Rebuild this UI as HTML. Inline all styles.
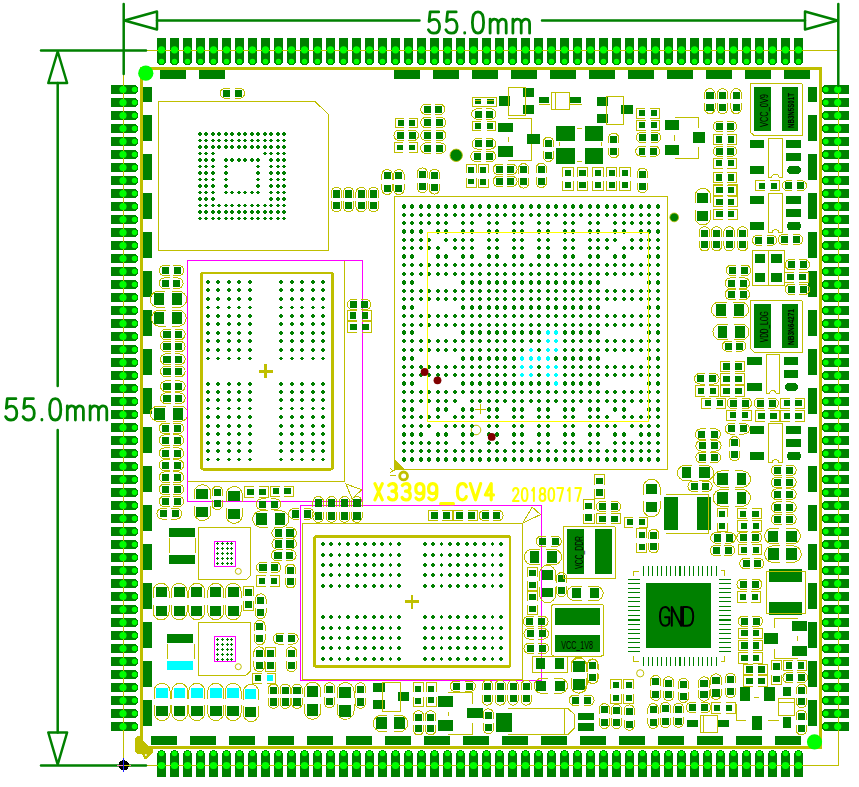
<!DOCTYPE html>
<html><head><meta charset="utf-8"><title>X3399_CV4</title>
<style>html,body{margin:0;padding:0;background:#fff;}body{width:859px;height:787px;overflow:hidden;font-family:"Liberation Sans",sans-serif;}svg{display:block}</style></head><body>
<svg width="859" height="787" viewBox="0 0 859 787" shape-rendering="crispEdges">
<rect width="859" height="787" fill="#fff"/>
<path d="M187.3 260.5H362.5V505.2M187.3 260.5V501.3H362.5" fill="none" stroke="#ff00ff" stroke-width="1"/>
<rect x="300.6" y="505.6" width="240.9" height="174.8" fill="none" stroke="#ff00ff" stroke-width="1"/>
<g fill="#008000">
<path d="M160 70h26v8.8h-26zM199 70h26v8.8h-26zM394 70h26v8.8h-26zM433 70h26v8.8h-26zM472 70h26v8.8h-26zM511 70h26v8.8h-26zM550 70h26v8.8h-26zM589 70h26v8.8h-26zM628 70h26v8.8h-26zM667 70h26v8.8h-26zM706 70h26v8.8h-26zM745 70h26v8.8h-26zM784 70h26v8.8h-26zM151 736h26v8.8h-26zM190 736h26v8.8h-26zM229 736h26v8.8h-26zM268 736h26v8.8h-26zM307 736h26v8.8h-26zM346 736h26v8.8h-26zM385 736h26v8.8h-26zM424 736h26v8.8h-26zM463 736h26v8.8h-26zM502 736h26v8.8h-26zM541 736h26v8.8h-26zM580 736h26v8.8h-26zM619 736h26v8.8h-26zM658 736h26v8.8h-26zM697 736h26v8.8h-26zM736 736h26v8.8h-26zM775 736h26v8.8h-26zM142.9 87h9v15h-9zM808.2 87h9v15h-9zM142.9 115h9v26h-9zM808.2 115h9v26h-9zM142.9 154h9v26h-9zM808.2 154h9v26h-9zM142.9 193h9v26h-9zM808.2 193h9v26h-9zM142.9 232h9v26h-9zM808.2 232h9v26h-9zM142.9 271h9v26h-9zM808.2 271h9v26h-9zM142.9 310h9v26h-9zM808.2 310h9v26h-9zM142.9 349h9v26h-9zM808.2 349h9v26h-9zM142.9 388h9v26h-9zM808.2 388h9v26h-9zM142.9 427h9v26h-9zM808.2 427h9v26h-9zM142.9 466h9v26h-9zM808.2 466h9v26h-9zM142.9 505h9v26h-9zM808.2 505h9v26h-9zM142.9 544h9v26h-9zM808.2 544h9v26h-9zM142.9 583h9v26h-9zM808.2 583h9v26h-9zM142.9 622h9v26h-9zM808.2 622h9v26h-9zM142.9 661h9v26h-9zM808.2 661h9v26h-9zM142.9 700h9v26h-9zM808.2 700h9v26h-9zM646.1 582.9h65v65h-65zM423.5 105.7h7v7h-7zM435.1 105.7h7v7h-7zM397.9 120.2h5.6v5.6h-5.6zM409.4 120.2h5.6v5.6h-5.6zM423.5 119h7v7h-7zM436.1 119h7v7h-7zM396.7 131.8h7v7h-7zM408.7 131.8h7v7h-7zM423.5 131.8h7v7h-7zM436.1 131.8h7v7h-7zM397.1 144.8h5.6v5.6h-5.6zM408.9 144.8h5.6v5.6h-5.6zM423.5 144.6h7v7h-7zM436.1 144.6h7v7h-7zM474.9 99.4h6.4v4.1h-6.4zM487.2 99.4h6.4v4.1h-6.4zM474.5 110.5h7v7h-7zM486.3 110.5h7v7h-7zM475.2 123h5.6v5.6h-5.6zM487 123h5.6v5.6h-5.6zM474.8 140.3h7v7h-7zM486 140.3h7v7h-7zM473.5 152.8h7v7h-7zM486 152.8h7v7h-7zM498.5 96.1h11v9.7h-11zM523.1 87.9h10.8v9h-10.8zM523.1 105.1h10.8v9h-10.8zM498.5 122.5h14.1v9.5h-14.1zM498.5 146.1h14.1v11h-14.1zM526.9 134h13.3v10.2h-13.3zM383.6 172.3h7v7h-7zM383.6 184.8h7v7h-7zM395.4 172.3h7v7h-7zM395.4 184.8h7v7h-7zM418.9 170.7h7v7h-7zM418.9 183h7v7h-7zM431 172h7v7h-7zM431 184.3h7v7h-7zM468.2 167h5.8v5.8h-5.8zM468.2 178.5h5.8v5.8h-5.8zM480.2 167h5.8v5.8h-5.8zM480.2 179h5.8v5.8h-5.8zM495.8 165.9h7v7h-7zM507.3 165.9h7v7h-7zM495.8 177.9h7v7h-7zM507.3 177.9h7v7h-7zM520.1 166.4h7v7h-7zM520.1 178.4h7v7h-7zM539.3 96.8h9.9v5.9h-9.9zM570.2 96.8h10.9v5.9h-10.9zM597.3 97.2h10.5v8.5h-10.5zM597.3 114h10.5v8.5h-10.5zM621 105.1h11.9v8.5h-11.9zM556.1 126.1h18.8v14.8h-18.8zM585 126.1h18.2v14.8h-18.2zM556.1 147.7h18.8v15.8h-18.8zM585 147.7h18.2v15.8h-18.2zM544.9 139.8h7v7h-7zM544.9 151.7h7v7h-7zM610.2 135.8h7v7h-7zM610.2 148.1h7v7h-7zM537.8 165.9h7v7h-7zM537.8 177.8h7v7h-7zM638.8 110h6v6h-6zM650.7 110h6v6h-6zM639.4 122.1h6v6h-6zM651.1 122.1h6v6h-6zM639.1 134.1h6.6v6.6h-6.6zM651.4 134.1h6.6v6.6h-6.6zM638.5 147.9h6.6v6.6h-6.6zM650.4 147.9h6.6v6.6h-6.6zM665.2 120h13.7v9.9h-13.7zM665.2 144.9h13.7v9.9h-13.7zM693.3 132.4h11.9v10.3h-11.9zM564.8 169.8h6.4v6.4h-6.4zM564.8 181.7h6.4v6.4h-6.4zM579.2 169.8h6.4v6.4h-6.4zM579.2 181.7h6.4v6.4h-6.4zM594.7 169.8h6.4v6.4h-6.4zM594.7 181.7h6.4v6.4h-6.4zM608.5 169.8h6.4v6.4h-6.4zM608.5 181.7h6.4v6.4h-6.4zM621.8 169.8h6.4v6.4h-6.4zM621.8 181.7h6.4v6.4h-6.4zM638.9 170.9h7v7h-7zM638.9 183h7v7h-7zM706.3 91.5h7.2v7.2h-7.2zM706.3 103.7h7.2v7.2h-7.2zM719 91.5h7.2v7.2h-7.2zM719 103.7h7.2v7.2h-7.2zM732.5 91.5h7.2v7.2h-7.2zM732.5 103.7h7.2v7.2h-7.2zM716 123.1h6.6v6.6h-6.6zM727.4 123.1h6.6v6.6h-6.6zM716.2 136.3h6.2v6.2h-6.2zM727.6 136.3h6.2v6.2h-6.2zM716 148h6.6v6.6h-6.6zM727.4 148h6.6v6.6h-6.6zM716.2 160h6.2v6.2h-6.2zM727.6 160h6.2v6.2h-6.2zM716.2 174.3h6.2v6.2h-6.2zM727.6 174.3h6.2v6.2h-6.2zM716.2 187h6.2v6.2h-6.2zM727.6 187h6.2v6.2h-6.2zM754 87h16.9v44h-16.9zM782.1 87h15.8v44h-15.8zM750.3 139.9h13.5v7.8h-13.5zM750.3 166h13.5v7.8h-13.5zM786.2 139.9h14.7v7.8h-14.7zM786.2 153h14.7v7.8h-14.7zM758.6 182.5h6.2v6.2h-6.2zM770.8 182.5h6.2v6.2h-6.2zM785.1 182.4h6.4v6.4h-6.4zM797.3 182.4h6.4v6.4h-6.4zM697.4 192.8h10.8v9.9h-10.8zM697.4 211.1h10.8v10.2h-10.8zM716.3 186.9h6.2v6.2h-6.2zM728 186.9h6.2v6.2h-6.2zM716.3 198.7h6.2v6.2h-6.2zM728 198.7h6.2v6.2h-6.2zM716.3 211.1h6.2v6.2h-6.2zM728 211.1h6.2v6.2h-6.2zM750.1 195.8h13.6v7.8h-13.6zM750.1 221.7h13.6v8h-13.6zM786.4 195.8h14.5v7.8h-14.5zM786.4 208.7h14.5v8h-14.5zM755.2 237h6.6v6.6h-6.6zM767.3 237h6.6v6.6h-6.6zM780.9 236.3h6.6v6.6h-6.6zM793.4 236.3h6.6v6.6h-6.6zM700.9 229.5h7.2v7.2h-7.2zM700.9 241h7.2v7.2h-7.2zM713 229.5h7.2v7.2h-7.2zM713 241h7.2v7.2h-7.2zM725.6 229.5h7.2v7.2h-7.2zM725.6 241h7.2v7.2h-7.2zM739 229.5h7.2v7.2h-7.2zM739 241h7.2v7.2h-7.2zM755.1 253.9h9.9v8.9h-9.9zM771.1 253.9h11v8.9h-11zM755.1 272.9h9.9v8.6h-9.9zM771.1 272.9h11v8.6h-11zM787.9 261.2h7v7h-7zM799.7 261.2h7v7h-7zM787.3 274h6.4v6.4h-6.4zM799.4 274h6.4v6.4h-6.4zM787.9 285.8h7v7h-7zM799.7 285.8h7v7h-7zM728.9 266.8h7v7h-7zM741 266.8h7v7h-7zM727.9 279.6h7.2v7.2h-7.2zM739.6 279.6h7.2v7.2h-7.2zM727.9 290.7h7.2v7.2h-7.2zM739.6 290.7h7.2v7.2h-7.2zM716 304.2h9.9v12.1h-9.9zM734.3 304.2h9.9v12.1h-9.9zM717.5 325.8h9.3v12.3h-9.3zM735.2 325.8h9.9v12.3h-9.9zM724.9 342.8h6.8v6.8h-6.8zM736.4 342.8h6.8v6.8h-6.8zM754.2 304h16.8v43.8h-16.8zM782.1 304h15.8v43.8h-15.8zM746.9 357.1h14.9v7.8h-14.9zM746.9 383.1h14.9v8h-14.9zM784.2 357.1h14v7.8h-14zM784.2 370.1h14v7.8h-14zM723.2 363.2h6.4v6.4h-6.4zM735.3 363.2h6.4v6.4h-6.4zM723.2 375.6h6.4v6.4h-6.4zM735.3 375.6h6.4v6.4h-6.4zM723.2 387.9h6.4v6.4h-6.4zM735.3 387.9h6.4v6.4h-6.4zM697.2 375.3h7v7h-7zM709.3 375.3h7v7h-7zM697.9 387.9h6.4v6.4h-6.4zM709.6 387.9h6.4v6.4h-6.4zM704.6 400h6.4v6.4h-6.4zM716.7 400h6.4v6.4h-6.4zM729.8 399.7h7v7h-7zM741.9 399.7h7v7h-7zM756.8 399.7h7v7h-7zM768.6 399.7h7v7h-7zM783.6 400h6.4v6.4h-6.4zM795.3 400h6.4v6.4h-6.4zM729.6 412h6.4v6.4h-6.4zM741.9 412h6.4v6.4h-6.4zM758.1 412.9h6.4v6.4h-6.4zM770.2 412.9h6.4v6.4h-6.4zM783.6 412.9h6.4v6.4h-6.4zM795.3 412.9h6.4v6.4h-6.4zM728 425.3h7v7h-7zM739.7 425.3h7v7h-7zM750.1 426.2h13.6v7.8h-13.6zM750.1 451.7h13.6v8h-13.6zM786.4 426.2h14.5v7.8h-14.5zM786.4 439.2h14.5v7.8h-14.5zM698.1 430.6h7.2v7.2h-7.2zM710.5 430.6h7.2v7.2h-7.2zM698.6 442.1h7.2v7.2h-7.2zM711.1 442.1h7.2v7.2h-7.2zM698.6 453.9h7.2v7.2h-7.2zM710.5 453.9h7.2v7.2h-7.2zM731.1 439.4h7v7h-7zM731.1 451h7v7h-7zM681.5 467.2h9.3v11.2h-9.3zM699.4 467.2h10.2v11.2h-10.2zM690.7 482.8h7v7h-7zM702.4 482.8h7v7h-7zM717.1 473.1h10.6v11.7h-10.6zM736.5 473.1h9.9v11.7h-9.9zM717.1 491.7h10.6v12.3h-10.6zM736.5 491.7h9.9v12.3h-9.9zM774.1 466.7h7.2v7.2h-7.2zM786.2 466.7h7.2v7.2h-7.2zM774.1 478.8h7.2v7.2h-7.2zM786.2 478.8h7.2v7.2h-7.2zM774.1 490.6h7.2v7.2h-7.2zM786.2 490.6h7.2v7.2h-7.2zM774.1 503.6h7.2v7.2h-7.2zM786.2 503.6h7.2v7.2h-7.2zM774.1 515.7h7.2v7.2h-7.2zM786.2 515.7h7.2v7.2h-7.2zM664.4 497h13.4v32.6h-13.4zM697.4 497h13.2v32.6h-13.2zM719.3 510.8h5.8v5.8h-5.8zM719.3 523.3h5.8v5.8h-5.8zM740 510.5h6.4v6.4h-6.4zM752.1 510.5h6.4v6.4h-6.4zM740.7 522.6h6.4v6.4h-6.4zM752.5 522.6h6.4v6.4h-6.4zM713.5 534.3h7.2v7.2h-7.2zM725.6 534.3h7.2v7.2h-7.2zM739.6 534h7.2v7.2h-7.2zM751.7 534h7.2v7.2h-7.2zM713 546.8h7.2v7.2h-7.2zM724.7 546.8h7.2v7.2h-7.2zM740.8 546.6h6.2v6.2h-6.2zM752.6 546.6h6.2v6.2h-6.2zM768.2 530.5h9.5v11.2h-9.5zM786.4 530.5h10.2v11.2h-10.2zM768.2 548h10.4v12.1h-10.4zM786.4 548h10.2v12.1h-10.2zM742.5 560h7v7h-7zM754 560h7v7h-7zM769.1 568.5h32.8v13h-32.8zM769.1 602.4h32.8v13h-32.8zM739.7 580.9h7v7h-7zM752.2 580.9h7v7h-7zM740 593.8h6.4v6.4h-6.4zM751.5 593.8h6.4v6.4h-6.4zM741 617.7h7v7h-7zM752.7 617.7h7v7h-7zM741.3 630h6.4v6.4h-6.4zM753 630h6.4v6.4h-6.4zM741.3 642.2h6.4v6.4h-6.4zM753 642.2h6.4v6.4h-6.4zM741.3 654.7h6.4v6.4h-6.4zM753 654.7h6.4v6.4h-6.4zM764.1 633.2h14v10.4h-14zM792 621h14.9v9.5h-14.9zM792 646.2h14.9v9.5h-14.9zM746.3 666.2h6.4v6.4h-6.4zM758.1 666.2h6.4v6.4h-6.4zM746.3 677.8h6.4v6.4h-6.4zM758.1 677.8h6.4v6.4h-6.4zM773.3 663.4h6.4v6.4h-6.4zM773.3 675.5h6.4v6.4h-6.4zM786 662.3h6.4v6.4h-6.4zM797.7 662.3h6.4v6.4h-6.4zM785.7 674.1h7v7h-7zM797.8 674.1h7v7h-7zM798.3 686.9h6.8v6.8h-6.8zM798.3 698.1h6.8v6.8h-6.8zM797.7 712.8h7.2v7.2h-7.2zM797.7 724.9h7.2v7.2h-7.2zM740.2 687.1h9.9v13.8h-9.9zM764.4 687.1h10.4v13.8h-10.4zM752 716h10.2v13.8h-10.2zM783.2 686.6h7.5v9.3h-7.5zM783.2 716.9h7.5v10.6h-7.5zM679.9 681.2h7v7h-7zM679.9 692.7h7v7h-7zM700.3 679.6h7.6v7.6h-7.6zM700.3 690.8h7.6v7.6h-7.6zM712.2 676.6h7.6v7.6h-7.6zM712.2 688.9h7.6v7.6h-7.6zM727 676h7v7h-7zM727 688.1h7v7h-7zM688.9 704.1h7v7h-7zM701 704.1h7v7h-7zM713.9 704.8h6.4v6.4h-6.4zM726 704.8h6.4v6.4h-6.4zM674.9 706h7v7h-7zM674.9 717.5h7v7h-7zM687.1 720.1h10.8v6.9h-10.8zM718.1 720.1h11v6.9h-11zM161.9 266.9h7.2v7.2h-7.2zM173.7 266.9h7.2v7.2h-7.2zM161.9 279.6h7.2v7.2h-7.2zM173.1 279.6h7.2v7.2h-7.2zM154.3 292.8h9.9v12.5h-9.9zM172.2 292.8h10.2v12.5h-10.2zM154.3 312h9.9v11.9h-9.9zM172.2 312h10.2v11.9h-10.2zM163.3 330.7h7.4v7.4h-7.4zM175 330.7h7.4v7.4h-7.4zM163.3 342.8h7.4v7.4h-7.4zM175 342.8h7.4v7.4h-7.4zM163.3 355.6h7.4v7.4h-7.4zM175 355.6h7.4v7.4h-7.4zM163.3 367.7h7.4v7.4h-7.4zM175 367.7h7.4v7.4h-7.4zM163.3 382.6h7.4v7.4h-7.4zM175 382.6h7.4v7.4h-7.4zM163.3 394.6h7.4v7.4h-7.4zM175 394.6h7.4v7.4h-7.4zM154.3 407.9h10.4v11.7h-10.4zM173.2 407.9h10.1v11.7h-10.1zM161.9 424.8h7.2v7.2h-7.2zM173.7 424.8h7.2v7.2h-7.2zM161.9 436.6h7.2v7.2h-7.2zM173.7 436.6h7.2v7.2h-7.2zM161.9 449.6h7.2v7.2h-7.2zM173.7 449.6h7.2v7.2h-7.2zM161.9 461.5h7.2v7.2h-7.2zM173.7 461.5h7.2v7.2h-7.2zM161.9 473.6h7.2v7.2h-7.2zM173.7 473.6h7.2v7.2h-7.2zM161.9 485.7h7.2v7.2h-7.2zM173.7 485.7h7.2v7.2h-7.2zM161.9 497.8h7.2v7.2h-7.2zM173.7 497.8h7.2v7.2h-7.2zM159.7 510.1h7.2v7.2h-7.2zM171.8 510.1h7.2v7.2h-7.2zM195.9 489h12.1v10.2h-12.1zM195.9 507h12.1v10.2h-12.1zM213.8 488.8h7v7h-7zM213.8 500h7v7h-7zM228.1 491.2h11.9v9.9h-11.9zM228.1 509.1h11.9v9.7h-11.9zM247.2 488.6h6.4v6.4h-6.4zM259.2 488.6h6.4v6.4h-6.4zM272.8 488h6.4v6.4h-6.4zM284.3 488h6.4v6.4h-6.4zM258.8 500.6h7.2v7.2h-7.2zM270.9 500.6h7.2v7.2h-7.2zM256.4 513h10.2v12.1h-10.2zM275 513h9.9v12.1h-9.9zM274.7 529.3h7.4v7.4h-7.4zM286.2 529.3h7.4v7.4h-7.4zM274.7 540.1h7.4v7.4h-7.4zM286.2 540.1h7.4v7.4h-7.4zM274.1 551.6h7.4v7.4h-7.4zM285.9 551.6h7.4v7.4h-7.4zM259.3 563.8h7.2v7.2h-7.2zM270.9 563.8h7.2v7.2h-7.2zM258.9 577.9h6.2v6.2h-6.2zM270.6 577.9h6.2v6.2h-6.2zM286.9 566.8h7.2v7.2h-7.2zM286.9 578h7.2v7.2h-7.2zM169.2 528.3h25.7v8.4h-25.7zM169.2 555.3h25.7v8.4h-25.7zM155.5 587.2h11.2v9.7h-11.2zM155.5 605.6h11.2v10.2h-11.2zM173.5 587.2h11.2v9.7h-11.2zM173.5 605.6h11.2v10.2h-11.2zM191.2 587.2h11.2v9.7h-11.2zM191.2 605.6h11.2v10.2h-11.2zM210.2 587.2h11.2v9.7h-11.2zM210.2 605.6h11.2v10.2h-11.2zM227.5 587.2h11.2v9.7h-11.2zM227.5 605.6h11.2v10.2h-11.2zM245.4 589.4h6.4v6.4h-6.4zM245.4 601.1h6.4v6.4h-6.4zM257.1 596.6h7.2v7.2h-7.2zM257.1 608.7h7.2v7.2h-7.2zM256.2 623.1h7.2v7.2h-7.2zM256.2 634.8h7.2v7.2h-7.2zM167.4 634.1h25.7v8.4h-25.7zM276.1 635.2h7.2v7.2h-7.2zM288.2 635.2h7.2v7.2h-7.2zM156.2 706h11.5v10.4h-11.5zM173.9 706h11.5v10.4h-11.5zM191 706h11.5v10.4h-11.5zM210 706h11.5v10.4h-11.5zM227.4 706h11.5v10.4h-11.5zM245.2 707.2h11.2v10.1h-11.2zM255.6 649.6h7.2v7.2h-7.2zM255.6 661.7h7.2v7.2h-7.2zM267.1 650.2h6.6v6.6h-6.6zM267.1 662h6.6v6.6h-6.6zM287.8 649.6h7.2v7.2h-7.2zM287.8 661.7h7.2v7.2h-7.2zM255.2 675h6.2v6.2h-6.2zM266.9 675h6.2v6.2h-6.2zM269.9 686.8h7.2v7.2h-7.2zM269.9 698.4h7.2v7.2h-7.2zM281.7 686.8h7.2v7.2h-7.2zM281.7 698.4h7.2v7.2h-7.2zM293.4 686.8h7.2v7.2h-7.2zM293.4 698.4h7.2v7.2h-7.2zM307.2 686.3h10.7v10.9h-10.7zM307.2 704.2h10.7v11.6h-10.7zM326 685.5h7.2v7.2h-7.2zM326 697.8h7.2v7.2h-7.2zM339.4 686.8h11.6v11.2h-11.6zM339.4 704.9h11.6v11.6h-11.6zM356.7 685.5h7.2v7.2h-7.2zM356.7 698.3h7.2v7.2h-7.2zM373.1 683.3h11.6v8.6h-11.6zM373.1 700h11.6v8.8h-11.6zM398.3 691.9h10.5v9.3h-10.5zM415 685.5h6.2v6.2h-6.2zM415 697.6h6.2v6.2h-6.2zM428.2 685.5h6.2v6.2h-6.2zM428.2 697.2h6.2v6.2h-6.2zM452.8 682.8h7v7h-7zM465.6 682.8h7v7h-7zM438.3 696.1h14.4v10.5h-14.4zM438.3 720.1h14.4v10.9h-14.4zM467.4 708.2h15.1v10h-15.1zM376.2 717h10.5v12.1h-10.5zM394.1 717h10.9v12.1h-10.9zM415 713.5h7v7h-7zM415 725.2h7v7h-7zM427.1 713.5h7v7h-7zM427.1 725.2h7v7h-7zM483.9 682.9h7v7h-7zM483.9 695.4h7v7h-7zM496.7 682.9h7v7h-7zM496.7 695.4h7v7h-7zM509.5 682.9h7v7h-7zM509.5 695.4h7v7h-7zM522.8 682.9h7v7h-7zM522.8 695.4h7v7h-7zM536.1 658h8.7v11h-8.7zM536.1 680.5h10v10.2h-10zM554.5 658h9.5v11h-9.5zM554.5 680.5h10.8v10.2h-10.8zM573.2 661.3h11.3v10.2h-11.3zM573.2 679.2h11.3v11h-11.3zM589.4 662.1h7v7h-7zM589.4 673.9h7v7h-7zM572 696.7h7v7h-7zM584.3 696.7h7v7h-7zM484.9 711.6h7v7h-7zM484.9 723.8h7v7h-7zM496.4 712.5h15.4v19.2h-15.4zM578.3 712.5h15.9v7.7h-15.9zM578.3 722.7h15.9v8.2h-15.9zM612.9 682h6.2v6.2h-6.2zM612.9 694.5h6.2v6.2h-6.2zM625.7 682h6.2v6.2h-6.2zM625.7 694.5h6.2v6.2h-6.2zM600.9 706.4h7v7h-7zM600.9 718.7h7v7h-7zM613 707.2h7v7h-7zM613 718.7h7v7h-7zM625.8 707.7h7v7h-7zM625.8 720.5h7v7h-7zM652.2 678.3h7v7h-7zM652.2 690.6h7v7h-7zM665 679.5h7v7h-7zM665 691.1h7v7h-7zM649.6 706.4h7v7h-7zM649.6 718.7h7v7h-7zM661.9 705.2h7v7h-7zM661.9 718h7v7h-7zM596.3 477.5h6.6v6.6h-6.6zM596.3 489h6.6v6.6h-6.6zM585.4 502.7h6.6v6.6h-6.6zM585.4 514.1h6.6v6.6h-6.6zM599.1 503.2h6.8v6.8h-6.8zM611.2 503.2h6.8v6.8h-6.8zM599.4 515.7h6.2v6.2h-6.2zM611.3 515.7h6.2v6.2h-6.2zM645.7 483.8h11.5v9.9h-11.5zM645.7 502.2h11.5v9.9h-11.5zM626.8 519h6v6h-6zM639.1 519h6v6h-6zM638.6 531.6h6.2v6.2h-6.2zM638.6 543.6h6.2v6.2h-6.2zM650.1 531.8h7v7h-7zM650.1 543.2h7v7h-7zM567.1 529.3h16.8v44.5h-16.8zM595.2 529.3h16.8v44.5h-16.8zM538.9 537.7h7v7h-7zM551.5 537.7h7v7h-7zM529.5 551.1h9.7v11.5h-9.7zM547.1 551.1h9.9v11.5h-9.9zM558.1 575.3h7v7h-7zM558.1 586.8h7v7h-7zM529.3 570.2h6.2v6.2h-6.2zM529.3 581.8h6.2v6.2h-6.2zM529.3 594.2h6.2v6.2h-6.2zM529.3 605.8h6.2v6.2h-6.2zM542.2 570.3h10.7v9.2h-10.7zM542.2 588.1h10.7v9.2h-10.7zM571.6 588.1h8.9v10.1h-8.9zM589.9 588.1h8.9v10.1h-8.9zM555 608h45v16.5h-45zM555 635.2h45v16.4h-45zM526.2 617.8h7.2v7.2h-7.2zM538.1 617.8h7.2v7.2h-7.2zM526.7 630.2h7.2v7.2h-7.2zM538.6 630.2h7.2v7.2h-7.2zM526.7 644.8h7.2v7.2h-7.2zM538.6 644.8h7.2v7.2h-7.2zM573 661h10.7v10.1h-10.7zM573 679.2h10.7v9.8h-10.7zM589 661.7h7.2v7.2h-7.2zM589 673.8h7.2v7.2h-7.2zM332.7 190.1h7.4v7.4h-7.4zM332.7 201.6h7.4v7.4h-7.4zM344.8 190.1h7.4v7.4h-7.4zM344.8 201.6h7.4v7.4h-7.4zM357.6 190.1h7.4v7.4h-7.4zM357.6 201.6h7.4v7.4h-7.4zM369.8 190.1h7.4v7.4h-7.4zM369.8 201.6h7.4v7.4h-7.4zM222.9 90h6.6v6.6h-6.6zM235.2 90h6.6v6.6h-6.6zM314.6 499.4h7.3v7.3h-7.3zM314.6 512.3h7.3v7.3h-7.3zM327.9 499.4h7.3v7.3h-7.3zM327.9 512.3h7.3v7.3h-7.3zM340.9 499.4h7.3v7.3h-7.3zM340.9 512.3h7.3v7.3h-7.3zM353.2 499.4h7.3v7.3h-7.3zM353.2 512.3h7.3v7.3h-7.3zM291.5 510.3h7.2v7.2h-7.2zM304.2 510.3h7.2v7.2h-7.2zM431.1 512.1h6.8v6.8h-6.8zM442.8 512.1h6.8v6.8h-6.8zM455.8 512.1h6.8v6.8h-6.8zM467.9 512.1h6.8v6.8h-6.8zM481.8 512h7v7h-7zM493.4 512h7v7h-7zM350.2 301.1h6.8v6.8h-6.8zM361.2 301.1h6.8v6.8h-6.8zM349.9 312.2h6.4v6.4h-6.4zM361.9 312.2h6.4v6.4h-6.4zM350.4 323.8h6.4v6.4h-6.4zM362.2 323.8h6.4v6.4h-6.4z"/>
</g>
<path d="M157 38.2h9v22.6a4.5 4.5 0 0 1 -9 0z" fill="#008000"/>
<path d="M157 777h9v-22.3a4.5 4.5 0 0 0 -9 0z" fill="#008000"/>
<path d="M170 38.2h9v22.6a4.5 4.5 0 0 1 -9 0z" fill="#008000"/>
<path d="M170 777h9v-22.3a4.5 4.5 0 0 0 -9 0z" fill="#008000"/>
<path d="M183 38.2h9v22.6a4.5 4.5 0 0 1 -9 0z" fill="#008000"/>
<path d="M183 777h9v-22.3a4.5 4.5 0 0 0 -9 0z" fill="#008000"/>
<path d="M196 38.2h9v22.6a4.5 4.5 0 0 1 -9 0z" fill="#008000"/>
<path d="M196 777h9v-22.3a4.5 4.5 0 0 0 -9 0z" fill="#008000"/>
<path d="M209 38.2h9v22.6a4.5 4.5 0 0 1 -9 0z" fill="#008000"/>
<path d="M209 777h9v-22.3a4.5 4.5 0 0 0 -9 0z" fill="#008000"/>
<path d="M222 38.2h9v22.6a4.5 4.5 0 0 1 -9 0z" fill="#008000"/>
<path d="M222 777h9v-22.3a4.5 4.5 0 0 0 -9 0z" fill="#008000"/>
<path d="M235 38.2h9v22.6a4.5 4.5 0 0 1 -9 0z" fill="#008000"/>
<path d="M235 777h9v-22.3a4.5 4.5 0 0 0 -9 0z" fill="#008000"/>
<path d="M248 38.2h9v22.6a4.5 4.5 0 0 1 -9 0z" fill="#008000"/>
<path d="M248 777h9v-22.3a4.5 4.5 0 0 0 -9 0z" fill="#008000"/>
<path d="M261 38.2h9v22.6a4.5 4.5 0 0 1 -9 0z" fill="#008000"/>
<path d="M261 777h9v-22.3a4.5 4.5 0 0 0 -9 0z" fill="#008000"/>
<path d="M274 38.2h9v22.6a4.5 4.5 0 0 1 -9 0z" fill="#008000"/>
<path d="M274 777h9v-22.3a4.5 4.5 0 0 0 -9 0z" fill="#008000"/>
<path d="M287 38.2h9v22.6a4.5 4.5 0 0 1 -9 0z" fill="#008000"/>
<path d="M287 777h9v-22.3a4.5 4.5 0 0 0 -9 0z" fill="#008000"/>
<path d="M300 38.2h9v22.6a4.5 4.5 0 0 1 -9 0z" fill="#008000"/>
<path d="M300 777h9v-22.3a4.5 4.5 0 0 0 -9 0z" fill="#008000"/>
<path d="M313 38.2h9v22.6a4.5 4.5 0 0 1 -9 0z" fill="#008000"/>
<path d="M313 777h9v-22.3a4.5 4.5 0 0 0 -9 0z" fill="#008000"/>
<path d="M326 38.2h9v22.6a4.5 4.5 0 0 1 -9 0z" fill="#008000"/>
<path d="M326 777h9v-22.3a4.5 4.5 0 0 0 -9 0z" fill="#008000"/>
<path d="M339 38.2h9v22.6a4.5 4.5 0 0 1 -9 0z" fill="#008000"/>
<path d="M339 777h9v-22.3a4.5 4.5 0 0 0 -9 0z" fill="#008000"/>
<path d="M352 38.2h9v22.6a4.5 4.5 0 0 1 -9 0z" fill="#008000"/>
<path d="M352 777h9v-22.3a4.5 4.5 0 0 0 -9 0z" fill="#008000"/>
<path d="M365 38.2h9v22.6a4.5 4.5 0 0 1 -9 0z" fill="#008000"/>
<path d="M365 777h9v-22.3a4.5 4.5 0 0 0 -9 0z" fill="#008000"/>
<path d="M378 38.2h9v22.6a4.5 4.5 0 0 1 -9 0z" fill="#008000"/>
<path d="M378 777h9v-22.3a4.5 4.5 0 0 0 -9 0z" fill="#008000"/>
<path d="M391 38.2h9v22.6a4.5 4.5 0 0 1 -9 0z" fill="#008000"/>
<path d="M391 777h9v-22.3a4.5 4.5 0 0 0 -9 0z" fill="#008000"/>
<path d="M404 38.2h9v22.6a4.5 4.5 0 0 1 -9 0z" fill="#008000"/>
<path d="M404 777h9v-22.3a4.5 4.5 0 0 0 -9 0z" fill="#008000"/>
<path d="M417 38.2h9v22.6a4.5 4.5 0 0 1 -9 0z" fill="#008000"/>
<path d="M417 777h9v-22.3a4.5 4.5 0 0 0 -9 0z" fill="#008000"/>
<path d="M430 38.2h9v22.6a4.5 4.5 0 0 1 -9 0z" fill="#008000"/>
<path d="M430 777h9v-22.3a4.5 4.5 0 0 0 -9 0z" fill="#008000"/>
<path d="M443 38.2h9v22.6a4.5 4.5 0 0 1 -9 0z" fill="#008000"/>
<path d="M443 777h9v-22.3a4.5 4.5 0 0 0 -9 0z" fill="#008000"/>
<path d="M456 38.2h9v22.6a4.5 4.5 0 0 1 -9 0z" fill="#008000"/>
<path d="M456 777h9v-22.3a4.5 4.5 0 0 0 -9 0z" fill="#008000"/>
<path d="M469 38.2h9v22.6a4.5 4.5 0 0 1 -9 0z" fill="#008000"/>
<path d="M469 777h9v-22.3a4.5 4.5 0 0 0 -9 0z" fill="#008000"/>
<path d="M482 38.2h9v22.6a4.5 4.5 0 0 1 -9 0z" fill="#008000"/>
<path d="M482 777h9v-22.3a4.5 4.5 0 0 0 -9 0z" fill="#008000"/>
<path d="M495 38.2h9v22.6a4.5 4.5 0 0 1 -9 0z" fill="#008000"/>
<path d="M495 777h9v-22.3a4.5 4.5 0 0 0 -9 0z" fill="#008000"/>
<path d="M508 38.2h9v22.6a4.5 4.5 0 0 1 -9 0z" fill="#008000"/>
<path d="M508 777h9v-22.3a4.5 4.5 0 0 0 -9 0z" fill="#008000"/>
<path d="M521 38.2h9v22.6a4.5 4.5 0 0 1 -9 0z" fill="#008000"/>
<path d="M521 777h9v-22.3a4.5 4.5 0 0 0 -9 0z" fill="#008000"/>
<path d="M534 38.2h9v22.6a4.5 4.5 0 0 1 -9 0z" fill="#008000"/>
<path d="M534 777h9v-22.3a4.5 4.5 0 0 0 -9 0z" fill="#008000"/>
<path d="M547 38.2h9v22.6a4.5 4.5 0 0 1 -9 0z" fill="#008000"/>
<path d="M547 777h9v-22.3a4.5 4.5 0 0 0 -9 0z" fill="#008000"/>
<path d="M560 38.2h9v22.6a4.5 4.5 0 0 1 -9 0z" fill="#008000"/>
<path d="M560 777h9v-22.3a4.5 4.5 0 0 0 -9 0z" fill="#008000"/>
<path d="M573 38.2h9v22.6a4.5 4.5 0 0 1 -9 0z" fill="#008000"/>
<path d="M573 777h9v-22.3a4.5 4.5 0 0 0 -9 0z" fill="#008000"/>
<path d="M586 38.2h9v22.6a4.5 4.5 0 0 1 -9 0z" fill="#008000"/>
<path d="M586 777h9v-22.3a4.5 4.5 0 0 0 -9 0z" fill="#008000"/>
<path d="M599 38.2h9v22.6a4.5 4.5 0 0 1 -9 0z" fill="#008000"/>
<path d="M599 777h9v-22.3a4.5 4.5 0 0 0 -9 0z" fill="#008000"/>
<path d="M612 38.2h9v22.6a4.5 4.5 0 0 1 -9 0z" fill="#008000"/>
<path d="M612 777h9v-22.3a4.5 4.5 0 0 0 -9 0z" fill="#008000"/>
<path d="M625 38.2h9v22.6a4.5 4.5 0 0 1 -9 0z" fill="#008000"/>
<path d="M625 777h9v-22.3a4.5 4.5 0 0 0 -9 0z" fill="#008000"/>
<path d="M638 38.2h9v22.6a4.5 4.5 0 0 1 -9 0z" fill="#008000"/>
<path d="M638 777h9v-22.3a4.5 4.5 0 0 0 -9 0z" fill="#008000"/>
<path d="M651 38.2h9v22.6a4.5 4.5 0 0 1 -9 0z" fill="#008000"/>
<path d="M651 777h9v-22.3a4.5 4.5 0 0 0 -9 0z" fill="#008000"/>
<path d="M664 38.2h9v22.6a4.5 4.5 0 0 1 -9 0z" fill="#008000"/>
<path d="M664 777h9v-22.3a4.5 4.5 0 0 0 -9 0z" fill="#008000"/>
<path d="M677 38.2h9v22.6a4.5 4.5 0 0 1 -9 0z" fill="#008000"/>
<path d="M677 777h9v-22.3a4.5 4.5 0 0 0 -9 0z" fill="#008000"/>
<path d="M690 38.2h9v22.6a4.5 4.5 0 0 1 -9 0z" fill="#008000"/>
<path d="M690 777h9v-22.3a4.5 4.5 0 0 0 -9 0z" fill="#008000"/>
<path d="M703 38.2h9v22.6a4.5 4.5 0 0 1 -9 0z" fill="#008000"/>
<path d="M703 777h9v-22.3a4.5 4.5 0 0 0 -9 0z" fill="#008000"/>
<path d="M716 38.2h9v22.6a4.5 4.5 0 0 1 -9 0z" fill="#008000"/>
<path d="M716 777h9v-22.3a4.5 4.5 0 0 0 -9 0z" fill="#008000"/>
<path d="M729 38.2h9v22.6a4.5 4.5 0 0 1 -9 0z" fill="#008000"/>
<path d="M729 777h9v-22.3a4.5 4.5 0 0 0 -9 0z" fill="#008000"/>
<path d="M742 38.2h9v22.6a4.5 4.5 0 0 1 -9 0z" fill="#008000"/>
<path d="M742 777h9v-22.3a4.5 4.5 0 0 0 -9 0z" fill="#008000"/>
<path d="M755 38.2h9v22.6a4.5 4.5 0 0 1 -9 0z" fill="#008000"/>
<path d="M755 777h9v-22.3a4.5 4.5 0 0 0 -9 0z" fill="#008000"/>
<path d="M768 38.2h9v22.6a4.5 4.5 0 0 1 -9 0z" fill="#008000"/>
<path d="M768 777h9v-22.3a4.5 4.5 0 0 0 -9 0z" fill="#008000"/>
<path d="M781 38.2h9v22.6a4.5 4.5 0 0 1 -9 0z" fill="#008000"/>
<path d="M781 777h9v-22.3a4.5 4.5 0 0 0 -9 0z" fill="#008000"/>
<path d="M794 38.2h9v22.6a4.5 4.5 0 0 1 -9 0z" fill="#008000"/>
<path d="M794 777h9v-22.3a4.5 4.5 0 0 0 -9 0z" fill="#008000"/>
<path d="M111 85h22.8a4.5 4.5 0 0 1 0 9h-22.8z" fill="#008000"/>
<path d="M849 85h-22.8a4.5 4.5 0 0 0 0 9h22.8z" fill="#008000"/>
<path d="M111 98h22.8a4.5 4.5 0 0 1 0 9h-22.8z" fill="#008000"/>
<path d="M849 98h-22.8a4.5 4.5 0 0 0 0 9h22.8z" fill="#008000"/>
<path d="M111 111h22.8a4.5 4.5 0 0 1 0 9h-22.8z" fill="#008000"/>
<path d="M849 111h-22.8a4.5 4.5 0 0 0 0 9h22.8z" fill="#008000"/>
<path d="M111 124h22.8a4.5 4.5 0 0 1 0 9h-22.8z" fill="#008000"/>
<path d="M849 124h-22.8a4.5 4.5 0 0 0 0 9h22.8z" fill="#008000"/>
<path d="M111 137h22.8a4.5 4.5 0 0 1 0 9h-22.8z" fill="#008000"/>
<path d="M849 137h-22.8a4.5 4.5 0 0 0 0 9h22.8z" fill="#008000"/>
<path d="M111 150h22.8a4.5 4.5 0 0 1 0 9h-22.8z" fill="#008000"/>
<path d="M849 150h-22.8a4.5 4.5 0 0 0 0 9h22.8z" fill="#008000"/>
<path d="M111 163h22.8a4.5 4.5 0 0 1 0 9h-22.8z" fill="#008000"/>
<path d="M849 163h-22.8a4.5 4.5 0 0 0 0 9h22.8z" fill="#008000"/>
<path d="M111 176h22.8a4.5 4.5 0 0 1 0 9h-22.8z" fill="#008000"/>
<path d="M849 176h-22.8a4.5 4.5 0 0 0 0 9h22.8z" fill="#008000"/>
<path d="M111 189h22.8a4.5 4.5 0 0 1 0 9h-22.8z" fill="#008000"/>
<path d="M849 189h-22.8a4.5 4.5 0 0 0 0 9h22.8z" fill="#008000"/>
<path d="M111 202h22.8a4.5 4.5 0 0 1 0 9h-22.8z" fill="#008000"/>
<path d="M849 202h-22.8a4.5 4.5 0 0 0 0 9h22.8z" fill="#008000"/>
<path d="M111 215h22.8a4.5 4.5 0 0 1 0 9h-22.8z" fill="#008000"/>
<path d="M849 215h-22.8a4.5 4.5 0 0 0 0 9h22.8z" fill="#008000"/>
<path d="M111 228h22.8a4.5 4.5 0 0 1 0 9h-22.8z" fill="#008000"/>
<path d="M849 228h-22.8a4.5 4.5 0 0 0 0 9h22.8z" fill="#008000"/>
<path d="M111 241h22.8a4.5 4.5 0 0 1 0 9h-22.8z" fill="#008000"/>
<path d="M849 241h-22.8a4.5 4.5 0 0 0 0 9h22.8z" fill="#008000"/>
<path d="M111 254h22.8a4.5 4.5 0 0 1 0 9h-22.8z" fill="#008000"/>
<path d="M849 254h-22.8a4.5 4.5 0 0 0 0 9h22.8z" fill="#008000"/>
<path d="M111 267h22.8a4.5 4.5 0 0 1 0 9h-22.8z" fill="#008000"/>
<path d="M849 267h-22.8a4.5 4.5 0 0 0 0 9h22.8z" fill="#008000"/>
<path d="M111 280h22.8a4.5 4.5 0 0 1 0 9h-22.8z" fill="#008000"/>
<path d="M849 280h-22.8a4.5 4.5 0 0 0 0 9h22.8z" fill="#008000"/>
<path d="M111 293h22.8a4.5 4.5 0 0 1 0 9h-22.8z" fill="#008000"/>
<path d="M849 293h-22.8a4.5 4.5 0 0 0 0 9h22.8z" fill="#008000"/>
<path d="M111 306h22.8a4.5 4.5 0 0 1 0 9h-22.8z" fill="#008000"/>
<path d="M849 306h-22.8a4.5 4.5 0 0 0 0 9h22.8z" fill="#008000"/>
<path d="M111 319h22.8a4.5 4.5 0 0 1 0 9h-22.8z" fill="#008000"/>
<path d="M849 319h-22.8a4.5 4.5 0 0 0 0 9h22.8z" fill="#008000"/>
<path d="M111 332h22.8a4.5 4.5 0 0 1 0 9h-22.8z" fill="#008000"/>
<path d="M849 332h-22.8a4.5 4.5 0 0 0 0 9h22.8z" fill="#008000"/>
<path d="M111 345h22.8a4.5 4.5 0 0 1 0 9h-22.8z" fill="#008000"/>
<path d="M849 345h-22.8a4.5 4.5 0 0 0 0 9h22.8z" fill="#008000"/>
<path d="M111 358h22.8a4.5 4.5 0 0 1 0 9h-22.8z" fill="#008000"/>
<path d="M849 358h-22.8a4.5 4.5 0 0 0 0 9h22.8z" fill="#008000"/>
<path d="M111 371h22.8a4.5 4.5 0 0 1 0 9h-22.8z" fill="#008000"/>
<path d="M849 371h-22.8a4.5 4.5 0 0 0 0 9h22.8z" fill="#008000"/>
<path d="M111 384h22.8a4.5 4.5 0 0 1 0 9h-22.8z" fill="#008000"/>
<path d="M849 384h-22.8a4.5 4.5 0 0 0 0 9h22.8z" fill="#008000"/>
<path d="M111 397h22.8a4.5 4.5 0 0 1 0 9h-22.8z" fill="#008000"/>
<path d="M849 397h-22.8a4.5 4.5 0 0 0 0 9h22.8z" fill="#008000"/>
<path d="M111 410h22.8a4.5 4.5 0 0 1 0 9h-22.8z" fill="#008000"/>
<path d="M849 410h-22.8a4.5 4.5 0 0 0 0 9h22.8z" fill="#008000"/>
<path d="M111 423h22.8a4.5 4.5 0 0 1 0 9h-22.8z" fill="#008000"/>
<path d="M849 423h-22.8a4.5 4.5 0 0 0 0 9h22.8z" fill="#008000"/>
<path d="M111 436h22.8a4.5 4.5 0 0 1 0 9h-22.8z" fill="#008000"/>
<path d="M849 436h-22.8a4.5 4.5 0 0 0 0 9h22.8z" fill="#008000"/>
<path d="M111 449h22.8a4.5 4.5 0 0 1 0 9h-22.8z" fill="#008000"/>
<path d="M849 449h-22.8a4.5 4.5 0 0 0 0 9h22.8z" fill="#008000"/>
<path d="M111 462h22.8a4.5 4.5 0 0 1 0 9h-22.8z" fill="#008000"/>
<path d="M849 462h-22.8a4.5 4.5 0 0 0 0 9h22.8z" fill="#008000"/>
<path d="M111 475h22.8a4.5 4.5 0 0 1 0 9h-22.8z" fill="#008000"/>
<path d="M849 475h-22.8a4.5 4.5 0 0 0 0 9h22.8z" fill="#008000"/>
<path d="M111 488h22.8a4.5 4.5 0 0 1 0 9h-22.8z" fill="#008000"/>
<path d="M849 488h-22.8a4.5 4.5 0 0 0 0 9h22.8z" fill="#008000"/>
<path d="M111 501h22.8a4.5 4.5 0 0 1 0 9h-22.8z" fill="#008000"/>
<path d="M849 501h-22.8a4.5 4.5 0 0 0 0 9h22.8z" fill="#008000"/>
<path d="M111 514h22.8a4.5 4.5 0 0 1 0 9h-22.8z" fill="#008000"/>
<path d="M849 514h-22.8a4.5 4.5 0 0 0 0 9h22.8z" fill="#008000"/>
<path d="M111 527h22.8a4.5 4.5 0 0 1 0 9h-22.8z" fill="#008000"/>
<path d="M849 527h-22.8a4.5 4.5 0 0 0 0 9h22.8z" fill="#008000"/>
<path d="M111 540h22.8a4.5 4.5 0 0 1 0 9h-22.8z" fill="#008000"/>
<path d="M849 540h-22.8a4.5 4.5 0 0 0 0 9h22.8z" fill="#008000"/>
<path d="M111 553h22.8a4.5 4.5 0 0 1 0 9h-22.8z" fill="#008000"/>
<path d="M849 553h-22.8a4.5 4.5 0 0 0 0 9h22.8z" fill="#008000"/>
<path d="M111 566h22.8a4.5 4.5 0 0 1 0 9h-22.8z" fill="#008000"/>
<path d="M849 566h-22.8a4.5 4.5 0 0 0 0 9h22.8z" fill="#008000"/>
<path d="M111 579h22.8a4.5 4.5 0 0 1 0 9h-22.8z" fill="#008000"/>
<path d="M849 579h-22.8a4.5 4.5 0 0 0 0 9h22.8z" fill="#008000"/>
<path d="M111 592h22.8a4.5 4.5 0 0 1 0 9h-22.8z" fill="#008000"/>
<path d="M849 592h-22.8a4.5 4.5 0 0 0 0 9h22.8z" fill="#008000"/>
<path d="M111 605h22.8a4.5 4.5 0 0 1 0 9h-22.8z" fill="#008000"/>
<path d="M849 605h-22.8a4.5 4.5 0 0 0 0 9h22.8z" fill="#008000"/>
<path d="M111 618h22.8a4.5 4.5 0 0 1 0 9h-22.8z" fill="#008000"/>
<path d="M849 618h-22.8a4.5 4.5 0 0 0 0 9h22.8z" fill="#008000"/>
<path d="M111 631h22.8a4.5 4.5 0 0 1 0 9h-22.8z" fill="#008000"/>
<path d="M849 631h-22.8a4.5 4.5 0 0 0 0 9h22.8z" fill="#008000"/>
<path d="M111 644h22.8a4.5 4.5 0 0 1 0 9h-22.8z" fill="#008000"/>
<path d="M849 644h-22.8a4.5 4.5 0 0 0 0 9h22.8z" fill="#008000"/>
<path d="M111 657h22.8a4.5 4.5 0 0 1 0 9h-22.8z" fill="#008000"/>
<path d="M849 657h-22.8a4.5 4.5 0 0 0 0 9h22.8z" fill="#008000"/>
<path d="M111 670h22.8a4.5 4.5 0 0 1 0 9h-22.8z" fill="#008000"/>
<path d="M849 670h-22.8a4.5 4.5 0 0 0 0 9h22.8z" fill="#008000"/>
<path d="M111 683h22.8a4.5 4.5 0 0 1 0 9h-22.8z" fill="#008000"/>
<path d="M849 683h-22.8a4.5 4.5 0 0 0 0 9h22.8z" fill="#008000"/>
<path d="M111 696h22.8a4.5 4.5 0 0 1 0 9h-22.8z" fill="#008000"/>
<path d="M849 696h-22.8a4.5 4.5 0 0 0 0 9h22.8z" fill="#008000"/>
<path d="M111 709h22.8a4.5 4.5 0 0 1 0 9h-22.8z" fill="#008000"/>
<path d="M849 709h-22.8a4.5 4.5 0 0 0 0 9h22.8z" fill="#008000"/>
<path d="M111 722h22.8a4.5 4.5 0 0 1 0 9h-22.8z" fill="#008000"/>
<path d="M849 722h-22.8a4.5 4.5 0 0 0 0 9h22.8z" fill="#008000"/>
<g fill="none" stroke="#bfbf00" stroke-width="1">
<rect x="123.7" y="50.3" width="714.9" height="714.9" rx="0"/>
<rect x="394.5" y="196.5" width="273.3" height="272.8" rx="0"/>
<path d="M394.5 459.5L404.3 469.3H394.5Z" fill="#bfbf00"/>
<circle shape-rendering="geometricPrecision" cx="476" cy="430" r="4.8"/>
<polyline points="475,409 485.5,409"/>
<polyline points="480.3,403.7 480.3,414.3"/>
<circle shape-rendering="geometricPrecision" cx="403.6" cy="475.9" r="3.9" stroke-width="2.8" shape-rendering="geometricPrecision"/>
<polyline points="390,475.4 396,475.4"/>
<polyline points="390.5,468.5 392,470 395,470 392,471.5 390.5,472.5"/>
<path d="M158.4 101H314.5L328 114V250.8H158.4Z"/>
<path d="M187.3 260.5H344.5V481.5H187.3Z"/>
<path d="M346 484L361.8 489.8L352 498.7Z"/>
<path d="M302 523H522.6V679.6H302Z"/>
<path d="M522.9 522.9L532.2 507.1L540.6 514.6Z"/>
<polyline points="633.5,576 633.5,571 638.5,571"/>
<polyline points="720.8,570.6 724.8,570.6 724.8,576"/>
<polyline points="633.5,656 633.5,661.2 638.5,661.2"/>
<polyline points="720.8,661.2 724.8,661.2 724.8,656"/>
<circle shape-rendering="geometricPrecision" cx="640.2" cy="673.3" r="3.6"/>
<path d="M430.9 104H425.9A5.2 5.2 0 0 0 425.9 114.4H430.9M434.7 104H439.7A5.2 5.2 0 0 1 439.7 114.4H434.7"/>
<path d="M403.9 118.2H395.1V127.8H403.9M409 118.2H417.8V127.8H409"/>
<path d="M430.9 117.3H425.9A5.2 5.2 0 0 0 425.9 127.7H430.9M435.7 117.3H440.7A5.2 5.2 0 0 1 440.7 127.7H435.7"/>
<path d="M404.1 130.1H399.1A5.2 5.2 0 0 0 399.1 140.5H404.1M408.3 130.1H413.3A5.2 5.2 0 0 1 413.3 140.5H408.3"/>
<path d="M430.9 130.1H425.9A5.2 5.2 0 0 0 425.9 140.5H430.9M435.7 130.1H440.7A5.2 5.2 0 0 1 440.7 140.5H435.7"/>
<path d="M403.1 142.8H394.3V152.4H403.1M408.5 142.8H417.3V152.4H408.5"/>
<path d="M430.9 142.9H425.9A5.2 5.2 0 0 0 425.9 153.3H430.9M435.7 142.9H440.7A5.2 5.2 0 0 1 440.7 153.3H435.7"/>
<rect x="472.9" y="97.4" width="23.8" height="9.2" rx="0"/>
<polyline points="474.9,100.7 481.3,100.7"/>
<polyline points="487.2,100.7 493.6,100.7"/>
<path d="M481.9 108.8H476.9A5.2 5.2 0 0 0 476.9 119.2H481.9M485.9 108.8H490.9A5.2 5.2 0 0 1 490.9 119.2H485.9"/>
<path d="M481.2 121H472.4V130.6H481.2M486.6 121H495.4V130.6H486.6"/>
<path d="M482.2 138.6H477.2A5.2 5.2 0 0 0 477.2 149H482.2M485.6 138.6H490.6A5.2 5.2 0 0 1 490.6 149H485.6"/>
<path d="M480.9 151.1H475.9A5.2 5.2 0 0 0 475.9 161.5H480.9M485.6 151.1H490.6A5.2 5.2 0 0 1 490.6 161.5H485.6"/>
<rect x="508.2" y="87.4" width="17.4" height="28.2" rx="0"/>
<polyline points="508.2,118.7 531.3,118.7 531.3,134"/>
<polyline points="531.3,144.3 531.3,160.1 508.2,160.1"/>
<polyline points="508.2,137.1 508.2,141.7"/>
<path d="M381.9 179.7V174.7A5.2 5.2 0 0 1 392.3 174.7V179.7M381.9 184.4V189.4A5.2 5.2 0 0 0 392.3 189.4V184.4"/>
<path d="M393.7 179.7V174.7A5.2 5.2 0 0 1 404.1 174.7V179.7M393.7 184.4V189.4A5.2 5.2 0 0 0 404.1 189.4V184.4"/>
<path d="M417.2 178.1V173.1A5.2 5.2 0 0 1 427.6 173.1V178.1M417.2 182.6V187.6A5.2 5.2 0 0 0 427.6 187.6V182.6"/>
<path d="M429.3 179.4V174.4A5.2 5.2 0 0 1 439.7 174.4V179.4M429.3 183.9V188.9A5.2 5.2 0 0 0 439.7 188.9V183.9"/>
<path d="M466.2 173.2V164.2H476V173.2M466.2 178.1V187.1H476V178.1"/>
<path d="M478.2 173.2V164.2H488V173.2M478.2 178.6V187.6H488V178.6"/>
<path d="M503.2 164.2H498.2A5.2 5.2 0 0 0 498.2 174.6H503.2M506.9 164.2H511.9A5.2 5.2 0 0 1 511.9 174.6H506.9"/>
<path d="M503.2 176.2H498.2A5.2 5.2 0 0 0 498.2 186.6H503.2M506.9 176.2H511.9A5.2 5.2 0 0 1 511.9 186.6H506.9"/>
<path d="M518.4 173.8V168.8A5.2 5.2 0 0 1 528.8 168.8V173.8M518.4 178V183A5.2 5.2 0 0 0 528.8 183V178"/>
<polyline points="538.9,104.1 549.8,104.1"/>
<polyline points="570.2,104.1 581.9,104.1"/>
<rect x="551.4" y="92.2" width="18.2" height="17.4" rx="0"/>
<polyline points="555.3,92.2 555.3,109.7"/>
<rect x="606.6" y="96.4" width="17" height="28.1" rx="0"/>
<polyline points="576.5,128.5 582.4,128.5"/>
<polyline points="576.5,161.1 582.4,161.1"/>
<polyline points="559.7,142.3 559.7,146.3"/>
<polyline points="601.2,142.3 601.2,146.3"/>
<path d="M543.2 147.2V142.2A5.2 5.2 0 0 1 553.6 142.2V147.2M543.2 151.3V156.3A5.2 5.2 0 0 0 553.6 156.3V151.3"/>
<path d="M608.5 143.2V138.2A5.2 5.2 0 0 1 618.9 138.2V143.2M608.5 147.7V152.7A5.2 5.2 0 0 0 618.9 152.7V147.7"/>
<path d="M536.1 173.3V168.3A5.2 5.2 0 0 1 546.5 168.3V173.3M536.1 177.4V182.4A5.2 5.2 0 0 0 546.5 182.4V177.4"/>
<path d="M645.2 108H636V118H645.2M650.3 108H659.5V118H650.3"/>
<path d="M645.8 120.1H636.6V130.1H645.8M650.7 120.1H659.9V130.1H650.7"/>
<path d="M646.1 132.4H641.3A5 5 0 0 0 641.3 142.4H646.1M651 132.4H655.8A5 5 0 0 1 655.8 142.4H651"/>
<path d="M645.5 146.2H640.7A5 5 0 0 0 640.7 156.2H645.5M650 146.2H654.8A5 5 0 0 1 654.8 156.2H650"/>
<polyline points="674.5,117.6 698.6,117.6 698.6,127.5"/>
<polyline points="698.6,147.3 698.6,158.2 674.5,158.2"/>
<polyline points="674.5,135.4 674.5,141.3"/>
<path d="M562.8 176.6V167H573.2V176.6M562.8 181.3V190.9H573.2V181.3"/>
<path d="M577.2 176.6V167H587.6V176.6M577.2 181.3V190.9H587.6V181.3"/>
<path d="M592.7 176.6V167H603.1V176.6M592.7 181.3V190.9H603.1V181.3"/>
<path d="M606.5 176.6V167H616.9V176.6M606.5 181.3V190.9H616.9V181.3"/>
<path d="M619.8 176.6V167H630.2V176.6M619.8 181.3V190.9H630.2V181.3"/>
<path d="M637.2 178.3V173.3A5.2 5.2 0 0 1 647.6 173.3V178.3M637.2 182.6V187.6A5.2 5.2 0 0 0 647.6 187.6V182.6"/>
<path d="M704.6 99.1V94A5.3 5.3 0 0 1 715.2 94V99.1M704.6 103.3V108.4A5.3 5.3 0 0 0 715.2 108.4V103.3"/>
<path d="M717.3 99.1V94A5.3 5.3 0 0 1 727.9 94V99.1M717.3 103.3V108.4A5.3 5.3 0 0 0 727.9 108.4V103.3"/>
<path d="M730.8 99.1V94A5.3 5.3 0 0 1 741.4 94V99.1M730.8 103.3V108.4A5.3 5.3 0 0 0 741.4 108.4V103.3"/>
<path d="M723 121.4H718.2A5 5 0 0 0 718.2 131.4H723M727 121.4H731.8A5 5 0 0 1 731.8 131.4H727"/>
<path d="M722.8 134.3H713.4V144.5H722.8M727.2 134.3H736.6V144.5H727.2"/>
<path d="M723 146.3H718.2A5 5 0 0 0 718.2 156.3H723M727 146.3H731.8A5 5 0 0 1 731.8 156.3H727"/>
<path d="M722.8 158H713.4V168.2H722.8M727.2 158H736.6V168.2H727.2"/>
<path d="M722.8 172.3H713.4V182.5H722.8M727.2 172.3H736.6V182.5H727.2"/>
<path d="M722.8 185H713.4V195.2H722.8M727.2 185H736.6V195.2H727.2"/>
<path d="M750.3 83.4H800.8Q802.5 83.4 802.5 85.3V135H753.6L750.3 132.3Z"/>
<path d="M768.6 138.3V177.4H771.5A4 4 0 0 1 779.3 177.4H782.9V138.3Z"/>
<path d="M765.2 180.5H755.8V190.7H765.2M770.4 180.5H779.8V190.7H770.4"/>
<path d="M791.9 180.7H787.2A4.9 4.9 0 0 0 787.2 190.5H791.9M796.9 180.7H801.6A4.9 4.9 0 0 1 801.6 190.5H796.9"/>
<path d="M695.1 203.4V196.1A7.7 7.7 0 0 1 710.6 196.1V203.4M695.1 210V217.3A7.7 7.7 0 0 0 710.6 217.3V210"/>
<path d="M722.9 184.9H713.5V195.1H722.9M727.6 184.9H737V195.1H727.6"/>
<path d="M722.9 196.7H713.5V206.9H722.9M727.6 196.7H737V206.9H727.6"/>
<path d="M722.9 209.1H713.5V219.3H722.9M727.6 209.1H737V219.3H727.6"/>
<path d="M768.3 193.4V232.5H772.1A3.5 3.5 0 0 1 779 232.5H782.7V193.4Z"/>
<path d="M762.2 235.3H757.4A5 5 0 0 0 757.4 245.3H762.2M766.9 235.3H771.7A5 5 0 0 1 771.7 245.3H766.9"/>
<path d="M787.9 234.6H783.1A5 5 0 0 0 783.1 244.6H787.9M793 234.6H797.8A5 5 0 0 1 797.8 244.6H793"/>
<path d="M699.2 237.1V232A5.3 5.3 0 0 1 709.8 232V237.1M699.2 240.6V245.7A5.3 5.3 0 0 0 709.8 245.7V240.6"/>
<path d="M711.3 237.1V232A5.3 5.3 0 0 1 721.9 232V237.1M711.3 240.6V245.7A5.3 5.3 0 0 0 721.9 245.7V240.6"/>
<path d="M723.9 237.1V232A5.3 5.3 0 0 1 734.5 232V237.1M723.9 240.6V245.7A5.3 5.3 0 0 0 734.5 245.7V240.6"/>
<path d="M737.3 237.1V232A5.3 5.3 0 0 1 747.9 232V237.1M737.3 240.6V245.7A5.3 5.3 0 0 0 747.9 245.7V240.6"/>
<rect x="752.5" y="250.2" width="31.7" height="35" rx="0"/>
<polyline points="768.7,250.2 768.7,285.2"/>
<path d="M795.3 259.5H790.3A5.2 5.2 0 0 0 790.3 269.9H795.3M799.3 259.5H804.3A5.2 5.2 0 0 1 804.3 269.9H799.3"/>
<path d="M794.1 272H784.5V282.4H794.1M799 272H808.6V282.4H799"/>
<path d="M795.3 284.1H790.3A5.2 5.2 0 0 0 790.3 294.5H795.3M799.3 284.1H804.3A5.2 5.2 0 0 1 804.3 294.5H799.3"/>
<path d="M736.3 265.1H731.3A5.2 5.2 0 0 0 731.3 275.5H736.3M740.6 265.1H745.6A5.2 5.2 0 0 1 745.6 275.5H740.6"/>
<path d="M735.5 277.9H730.4A5.3 5.3 0 0 0 730.4 288.5H735.5M739.2 277.9H744.3A5.3 5.3 0 0 1 744.3 288.5H739.2"/>
<path d="M735.5 289H730.4A5.3 5.3 0 0 0 730.4 299.6H735.5M739.2 289H744.3A5.3 5.3 0 0 1 744.3 299.6H739.2"/>
<path d="M726.6 302H719.2A7.8 7.8 0 0 0 719.2 317.6H726.6M733.3 302H740.8A7.8 7.8 0 0 1 740.8 317.6H733.3"/>
<path d="M727.7 324.1H720.8A7.9 7.9 0 0 0 720.8 339.9H727.7M734.3 324.1H741.2A7.9 7.9 0 0 1 741.2 339.9H734.3"/>
<path d="M732.1 341.1H727.2A5.1 5.1 0 0 0 727.2 351.3H732.1M736 341.1H740.9A5.1 5.1 0 0 1 740.9 351.3H736"/>
<path d="M750.5 300.6H800.8Q802.6 300.6 802.6 302.5V352.4H754.2L750.5 348.7Z"/>
<path d="M766.5 354.3V393.4H769.3A3.5 3.5 0 0 1 776.2 393.4H779.3V354.3Z"/>
<path d="M730 361.2H720.4V371.6H730M734.9 361.2H744.5V371.6H734.9"/>
<path d="M730 373.6H720.4V384H730M734.9 373.6H744.5V384H734.9"/>
<path d="M730 385.9H720.4V396.3H730M734.9 385.9H744.5V396.3H734.9"/>
<path d="M704.6 373.6H699.6A5.2 5.2 0 0 0 699.6 384H704.6M708.9 373.6H713.9A5.2 5.2 0 0 1 713.9 384H708.9"/>
<path d="M704.7 385.9H695.1V396.3H704.7M709.2 385.9H718.8V396.3H709.2"/>
<path d="M711.4 398H701.8V408.4H711.4M716.3 398H725.9V408.4H716.3"/>
<path d="M737.2 398H732.2A5.2 5.2 0 0 0 732.2 408.4H737.2M741.5 398H746.5A5.2 5.2 0 0 1 746.5 408.4H741.5"/>
<path d="M764.2 398H759.2A5.2 5.2 0 0 0 759.2 408.4H764.2M768.2 398H773.2A5.2 5.2 0 0 1 773.2 408.4H768.2"/>
<path d="M790.4 398H780.8V408.4H790.4M794.9 398H804.5V408.4H794.9"/>
<path d="M736.4 410H726.8V420.4H736.4M741.5 410H751.1V420.4H741.5"/>
<path d="M764.9 410.9H755.3V421.3H764.9M769.8 410.9H779.4V421.3H769.8"/>
<path d="M790.4 410.9H780.8V421.3H790.4M794.9 410.9H804.5V421.3H794.9"/>
<path d="M735.4 423.6H730.4A5.2 5.2 0 0 0 730.4 434H735.4M739.3 423.6H744.3A5.2 5.2 0 0 1 744.3 434H739.3"/>
<path d="M768.3 423.4V462.5H772.1A3.5 3.5 0 0 1 779 462.5H782.7V423.4Z"/>
<path d="M705.7 428.9H700.6A5.3 5.3 0 0 0 700.6 439.5H705.7M710.1 428.9H715.2A5.3 5.3 0 0 1 715.2 439.5H710.1"/>
<path d="M706.2 440.4H701.1A5.3 5.3 0 0 0 701.1 451H706.2M710.7 440.4H715.8A5.3 5.3 0 0 1 715.8 451H710.7"/>
<path d="M706.2 452.2H701.1A5.3 5.3 0 0 0 701.1 462.8H706.2M710.1 452.2H715.2A5.3 5.3 0 0 1 715.2 462.8H710.1"/>
<path d="M729.4 446.8V441.8A5.2 5.2 0 0 1 739.8 441.8V446.8M729.4 450.6V455.6A5.2 5.2 0 0 0 739.8 455.6V450.6"/>
<path d="M692.3 465.3H685.1A7.6 7.6 0 0 0 685.1 480.6H692.3M698.9 465.3H706.1A7.6 7.6 0 0 1 706.1 480.6H698.9"/>
<path d="M698.1 481.1H693.1A5.2 5.2 0 0 0 693.1 491.5H698.1M702 481.1H707A5.2 5.2 0 0 1 707 491.5H702"/>
<path d="M728.5 470.9H721.4A8.2 8.2 0 0 0 721.4 487.3H728.5M735.2 470.9H742.3A8.2 8.2 0 0 1 742.3 487.3H735.2"/>
<path d="M728.5 489.5H721.6A8.4 8.4 0 0 0 721.6 506.3H728.5M735.2 489.5H742.1A8.4 8.4 0 0 1 742.1 506.3H735.2"/>
<path d="M781.7 465H776.6A5.3 5.3 0 0 0 776.6 475.6H781.7M785.8 465H790.9A5.3 5.3 0 0 1 790.9 475.6H785.8"/>
<path d="M781.7 477.1H776.6A5.3 5.3 0 0 0 776.6 487.7H781.7M785.8 477.1H790.9A5.3 5.3 0 0 1 790.9 487.7H785.8"/>
<path d="M781.7 488.9H776.6A5.3 5.3 0 0 0 776.6 499.5H781.7M785.8 488.9H790.9A5.3 5.3 0 0 1 790.9 499.5H785.8"/>
<path d="M781.7 501.9H776.6A5.3 5.3 0 0 0 776.6 512.5H781.7M785.8 501.9H790.9A5.3 5.3 0 0 1 790.9 512.5H785.8"/>
<path d="M781.7 514H776.6A5.3 5.3 0 0 0 776.6 524.6H781.7M785.8 514H790.9A5.3 5.3 0 0 1 790.9 524.6H785.8"/>
<polyline points="666.3,494.2 708.7,494.2 708.7,533.3 666.3,533.3"/>
<path d="M717.3 517V508.3H727.1V517M717.3 522.9V531.6H727.1V522.9"/>
<path d="M746.8 508.5H737.2V518.9H746.8M751.7 508.5H761.3V518.9H751.7"/>
<path d="M747.5 520.6H737.9V531H747.5M752.1 520.6H761.7V531H752.1"/>
<path d="M721.1 532.6H716A5.3 5.3 0 0 0 716 543.2H721.1M725.2 532.6H730.3A5.3 5.3 0 0 1 730.3 543.2H725.2"/>
<path d="M747.2 532.3H742.1A5.3 5.3 0 0 0 742.1 542.9H747.2M751.3 532.3H756.4A5.3 5.3 0 0 1 756.4 542.9H751.3"/>
<path d="M720.6 545.1H715.5A5.3 5.3 0 0 0 715.5 555.7H720.6M724.3 545.1H729.4A5.3 5.3 0 0 1 729.4 555.7H724.3"/>
<path d="M747.4 544.6H738V554.8H747.4M752.2 544.6H761.6V554.8H752.2"/>
<path d="M779.3 528.2H772.4A7.8 7.8 0 0 0 772.4 543.9H779.3M785.7 528.2H792.6A7.8 7.8 0 0 1 792.6 543.9H785.7"/>
<path d="M779.7 545.8H772.9A8.3 8.3 0 0 0 772.9 562.4H779.7M786.3 545.8H793A8.3 8.3 0 0 1 793 562.4H786.3"/>
<path d="M749.9 558.3H744.9A5.2 5.2 0 0 0 744.9 568.7H749.9M753.6 558.3H758.6A5.2 5.2 0 0 1 758.6 568.7H753.6"/>
<rect x="766.5" y="571.3" width="39.1" height="41.9" rx="0"/>
<path d="M747.1 579.2H742.1A5.2 5.2 0 0 0 742.1 589.6H747.1M751.8 579.2H756.8A5.2 5.2 0 0 1 756.8 589.6H751.8"/>
<path d="M746.8 591.8H737.2V602.2H746.8M751.1 591.8H760.7V602.2H751.1"/>
<path d="M748.4 616H743.4A5.2 5.2 0 0 0 743.4 626.4H748.4M752.3 616H757.3A5.2 5.2 0 0 1 757.3 626.4H752.3"/>
<path d="M748.1 628H738.5V638.4H748.1M752.6 628H762.2V638.4H752.6"/>
<path d="M748.1 640.2H738.5V650.6H748.1M752.6 640.2H762.2V650.6H752.6"/>
<path d="M748.1 652.7H738.5V663.1H748.1M752.6 652.7H762.2V663.1H752.6"/>
<polyline points="797.6,618.3 774.3,618.3 774.3,628.1"/>
<polyline points="774.3,649 774.3,658.9 797.6,658.9"/>
<polyline points="797.6,635.6 797.6,641.2"/>
<path d="M753.1 664.2H743.5V674.6H753.1M757.7 664.2H767.3V674.6H757.7"/>
<path d="M753.1 675.8H743.5V686.2H753.1M757.7 675.8H767.3V686.2H757.7"/>
<path d="M771.3 670.2V660.6H781.7V670.2M771.3 675.1V684.7H781.7V675.1"/>
<path d="M792.8 660.3H783.2V670.7H792.8M797.3 660.3H806.9V670.7H797.3"/>
<path d="M793.1 672.4H788.1A5.2 5.2 0 0 0 788.1 682.8H793.1M797.4 672.4H802.4A5.2 5.2 0 0 1 802.4 682.8H797.4"/>
<path d="M796.6 694.1V689.2A5.1 5.1 0 0 1 806.8 689.2V694.1M796.6 697.7V702.6A5.1 5.1 0 0 0 806.8 702.6V697.7"/>
<path d="M796 720.4V715.3A5.3 5.3 0 0 1 806.6 715.3V720.4M796 724.5V729.6A5.3 5.3 0 0 0 806.6 729.6V724.5"/>
<polyline points="736.1,704.3 736.1,720.5 746.4,720.5"/>
<polyline points="768.2,720.5 778.6,720.5"/>
<polyline points="754.4,697.4 759.4,697.4"/>
<rect x="778.6" y="698.3" width="16.2" height="17.1" rx="0"/>
<polyline points="778.6,702.4 794.8,702.4"/>
<path d="M678.2 688.6V683.6A5.2 5.2 0 0 1 688.6 683.6V688.6M678.2 692.3V697.3A5.2 5.2 0 0 0 688.6 697.3V692.3"/>
<path d="M698.6 687.6V682.3A5.5 5.5 0 0 1 709.6 682.3V687.6M698.6 690.4V695.7A5.5 5.5 0 0 0 709.6 695.7V690.4"/>
<path d="M710.5 684.6V679.3A5.5 5.5 0 0 1 721.5 679.3V684.6M710.5 688.5V693.8A5.5 5.5 0 0 0 721.5 693.8V688.5"/>
<path d="M725.3 683.4V678.4A5.2 5.2 0 0 1 735.7 678.4V683.4M725.3 687.7V692.7A5.2 5.2 0 0 0 735.7 692.7V687.7"/>
<path d="M696.3 702.4H691.3A5.2 5.2 0 0 0 691.3 712.8H696.3M700.6 702.4H705.6A5.2 5.2 0 0 1 705.6 712.8H700.6"/>
<path d="M720.7 702.8H711.1V713.2H720.7M725.6 702.8H735.2V713.2H725.6"/>
<path d="M673.2 713.4V708.4A5.2 5.2 0 0 1 683.6 708.4V713.4M673.2 717.1V722.1A5.2 5.2 0 0 0 683.6 722.1V717.1"/>
<rect x="700.7" y="715.4" width="16.8" height="17.1" rx="0"/>
<polyline points="703.5,715.4 703.5,732.6"/>
<path d="M169.5 265.2H164.4A5.3 5.3 0 0 0 164.4 275.8H169.5M173.3 265.2H178.4A5.3 5.3 0 0 1 178.4 275.8H173.3"/>
<path d="M169.5 277.9H164.4A5.3 5.3 0 0 0 164.4 288.5H169.5M172.7 277.9H177.8A5.3 5.3 0 0 1 177.8 288.5H172.7"/>
<path d="M165.1 291.3H158.3A8 8 0 0 0 158.3 307.4H165.1M171.7 291.3H178.6A8 8 0 0 1 178.6 307.4H171.7"/>
<path d="M165.8 310H159.7A8.2 8.2 0 0 0 159.7 326.4H165.8M172 310H178A8.2 8.2 0 0 1 178 326.4H172"/>
<path d="M171.1 329H165.9A5.4 5.4 0 0 0 165.9 339.8H171.1M174.6 329H179.8A5.4 5.4 0 0 1 179.8 339.8H174.6"/>
<path d="M171.1 341.1H165.9A5.4 5.4 0 0 0 165.9 351.9H171.1M174.6 341.1H179.8A5.4 5.4 0 0 1 179.8 351.9H174.6"/>
<path d="M171.1 353.9H165.9A5.4 5.4 0 0 0 165.9 364.7H171.1M174.6 353.9H179.8A5.4 5.4 0 0 1 179.8 364.7H174.6"/>
<path d="M171.1 366H165.9A5.4 5.4 0 0 0 165.9 376.8H171.1M174.6 366H179.8A5.4 5.4 0 0 1 179.8 376.8H174.6"/>
<path d="M171.1 380.9H165.9A5.4 5.4 0 0 0 165.9 391.7H171.1M174.6 380.9H179.8A5.4 5.4 0 0 1 179.8 391.7H174.6"/>
<path d="M171.1 392.9H165.9A5.4 5.4 0 0 0 165.9 403.7H171.1M174.6 392.9H179.8A5.4 5.4 0 0 1 179.8 403.7H174.6"/>
<path d="M165.7 406.1H157.9A7.6 7.6 0 0 0 157.9 421.3H165.7M172.6 406.1H180.4A7.6 7.6 0 0 1 180.4 421.3H172.6"/>
<path d="M169.5 423.1H164.4A5.3 5.3 0 0 0 164.4 433.7H169.5M173.3 423.1H178.4A5.3 5.3 0 0 1 178.4 433.7H173.3"/>
<path d="M169.5 434.9H164.4A5.3 5.3 0 0 0 164.4 445.5H169.5M173.3 434.9H178.4A5.3 5.3 0 0 1 178.4 445.5H173.3"/>
<path d="M169.5 447.9H164.4A5.3 5.3 0 0 0 164.4 458.5H169.5M173.3 447.9H178.4A5.3 5.3 0 0 1 178.4 458.5H173.3"/>
<path d="M169.5 459.8H164.4A5.3 5.3 0 0 0 164.4 470.4H169.5M173.3 459.8H178.4A5.3 5.3 0 0 1 178.4 470.4H173.3"/>
<path d="M169.5 471.9H164.4A5.3 5.3 0 0 0 164.4 482.5H169.5M173.3 471.9H178.4A5.3 5.3 0 0 1 178.4 482.5H173.3"/>
<path d="M169.5 484H164.4A5.3 5.3 0 0 0 164.4 494.6H169.5M173.3 484H178.4A5.3 5.3 0 0 1 178.4 494.6H173.3"/>
<path d="M169.5 496.1H164.4A5.3 5.3 0 0 0 164.4 506.7H169.5M173.3 496.1H178.4A5.3 5.3 0 0 1 178.4 506.7H173.3"/>
<path d="M167.3 508.4H162.2A5.3 5.3 0 0 0 162.2 519H167.3M171.4 508.4H176.5A5.3 5.3 0 0 1 176.5 519H171.4"/>
<path d="M194 499.4V493.1A8.4 8.4 0 0 1 210.8 493.1V499.4M194 505.9V512.2A8.4 8.4 0 0 0 210.8 512.2V505.9"/>
<path d="M212.1 496.2V491.2A5.2 5.2 0 0 1 222.5 491.2V496.2M212.1 499.6V504.6A5.2 5.2 0 0 0 222.5 504.6V499.6"/>
<path d="M226 501.7V494.7A8.2 8.2 0 0 1 242.4 494.7V501.7M226 508.3V515.2A8.2 8.2 0 0 0 242.4 515.2V508.3"/>
<path d="M254 486.6H244.4V497H254M258.8 486.6H268.4V497H258.8"/>
<path d="M279.6 486H270V496.4H279.6M283.9 486H293.5V496.4H283.9"/>
<path d="M266.4 498.9H261.3A5.3 5.3 0 0 0 261.3 509.5H266.4M270.5 498.9H275.6A5.3 5.3 0 0 1 275.6 509.5H270.5"/>
<path d="M267.6 510.8H261A8.3 8.3 0 0 0 261 527.4H267.6M274.1 510.8H280.7A8.3 8.3 0 0 1 280.7 527.4H274.1"/>
<path d="M282.5 527.6H277.3A5.4 5.4 0 0 0 277.3 538.4H282.5M285.8 527.6H291A5.4 5.4 0 0 1 291 538.4H285.8"/>
<path d="M282.5 538.4H277.3A5.4 5.4 0 0 0 277.3 549.2H282.5M285.8 538.4H291A5.4 5.4 0 0 1 291 549.2H285.8"/>
<path d="M281.9 549.9H276.7A5.4 5.4 0 0 0 276.7 560.7H281.9M285.5 549.9H290.7A5.4 5.4 0 0 1 290.7 560.7H285.5"/>
<path d="M266.9 562.1H261.8A5.3 5.3 0 0 0 261.8 572.7H266.9M270.5 562.1H275.6A5.3 5.3 0 0 1 275.6 572.7H270.5"/>
<path d="M265.5 575.9H256.1V586.1H265.5M270.2 575.9H279.6V586.1H270.2"/>
<path d="M285.2 574.4V569.3A5.3 5.3 0 0 1 295.8 569.3V574.4M285.2 577.6V582.7A5.3 5.3 0 0 0 295.8 582.7V577.6"/>
<polyline points="169.2,538.2 169.2,553.1"/>
<polyline points="195.3,538.2 195.3,553.1"/>
<path d="M198.3 527.6H250.8V575.4L246.2 579.7H198.3Z"/>
<circle shape-rendering="geometricPrecision" cx="238.3" cy="571.3" r="3"/>
<path d="M198.3 622.9H250.8V670.8L246.2 675.1H198.3Z"/>
<circle shape-rendering="geometricPrecision" cx="238.3" cy="666.7" r="3"/>
<path d="M153 598.2V591.3A8 8 0 0 1 169.1 591.3V598.2M153 604.8V611.8A8 8 0 0 0 169.1 611.8V604.8"/>
<path d="M171.1 598.2V591.3A8 8 0 0 1 187.1 591.3V598.2M171.1 604.8V611.8A8 8 0 0 0 187.1 611.8V604.8"/>
<path d="M188.8 598.2V591.3A8 8 0 0 1 204.8 591.3V598.2M188.8 604.8V611.8A8 8 0 0 0 204.8 611.8V604.8"/>
<path d="M207.8 598.2V591.3A8 8 0 0 1 223.8 591.3V598.2M207.8 604.8V611.8A8 8 0 0 0 223.8 611.8V604.8"/>
<path d="M225.1 598.2V591.3A8 8 0 0 1 241.1 591.3V598.2M225.1 604.8V611.8A8 8 0 0 0 241.1 611.8V604.8"/>
<path d="M243.4 596.2V586.6H253.8V596.2M243.4 600.7V610.3H253.8V600.7"/>
<path d="M255.4 604.2V599.1A5.3 5.3 0 0 1 266 599.1V604.2M255.4 608.3V613.4A5.3 5.3 0 0 0 266 613.4V608.3"/>
<path d="M254.5 630.7V625.6A5.3 5.3 0 0 1 265.1 625.6V630.7M254.5 634.4V639.5A5.3 5.3 0 0 0 265.1 639.5V634.4"/>
<path d="M283.7 633.5H278.6A5.3 5.3 0 0 0 278.6 644.1H283.7M287.8 633.5H292.9A5.3 5.3 0 0 1 292.9 644.1H287.8"/>
<polyline points="167.4,644.2 167.4,659.1"/>
<polyline points="194,644.2 194,659.1"/>
<path d="M154 698.6V691.3A8 8 0 0 1 170 691.3V698.6M154 705.3V712.6A8 8 0 0 0 170 712.6V705.3"/>
<path d="M171.7 698.6V691.3A8 8 0 0 1 187.7 691.3V698.6M171.7 705.3V712.6A8 8 0 0 0 187.7 712.6V705.3"/>
<path d="M188.8 698.6V691.3A8 8 0 0 1 204.8 691.3V698.6M188.8 705.3V712.6A8 8 0 0 0 204.8 712.6V705.3"/>
<path d="M207.8 698.6V691.3A8 8 0 0 1 223.8 691.3V698.6M207.8 705.3V712.6A8 8 0 0 0 223.8 712.6V705.3"/>
<path d="M225.1 698.6V691.3A8 8 0 0 1 241.1 691.3V698.6M225.1 705.3V712.6A8 8 0 0 0 241.1 712.6V705.3"/>
<path d="M243.4 699.5V691.9A7.6 7.6 0 0 1 258.6 691.9V699.5M243.4 706.2V713.9A7.6 7.6 0 0 0 258.6 713.9V706.2"/>
<path d="M253.9 657.2V652.1A5.3 5.3 0 0 1 264.5 652.1V657.2M253.9 661.3V666.4A5.3 5.3 0 0 0 264.5 666.4V661.3"/>
<path d="M265.1 657.2V647.4H275.7V657.2M265.1 661.6V671.4H275.7V661.6"/>
<path d="M286.1 657.2V652.1A5.3 5.3 0 0 1 296.7 652.1V657.2M286.1 661.3V666.4A5.3 5.3 0 0 0 296.7 666.4V661.3"/>
<path d="M261.8 673H252.4V683.2H261.8M266.5 673H275.9V683.2H266.5"/>
<path d="M268.2 694.4V689.3A5.3 5.3 0 0 1 278.8 689.3V694.4M268.2 698V703.1A5.3 5.3 0 0 0 278.8 703.1V698"/>
<path d="M280 694.4V689.3A5.3 5.3 0 0 1 290.6 689.3V694.4M280 698V703.1A5.3 5.3 0 0 0 290.6 703.1V698"/>
<path d="M291.7 694.4V689.3A5.3 5.3 0 0 1 302.3 689.3V694.4M291.7 698V703.1A5.3 5.3 0 0 0 302.3 703.1V698"/>
<path d="M304.4 697.4V690.3A8.1 8.1 0 0 1 320.7 690.3V697.4M304.4 704.1V711.2A8.1 8.1 0 0 0 320.7 711.2V704.1"/>
<path d="M324.3 693.1V688A5.3 5.3 0 0 1 334.9 688V693.1M324.3 697.4V702.5A5.3 5.3 0 0 0 334.9 702.5V697.4"/>
<path d="M337 697.7V691.1A8.5 8.5 0 0 1 354 691.1V697.7M337 704.3V710.9A8.5 8.5 0 0 0 354 710.9V704.3"/>
<path d="M355 693.1V688A5.3 5.3 0 0 1 365.6 688V693.1M355 697.9V703A5.3 5.3 0 0 0 365.6 703V697.9"/>
<rect x="382.4" y="682.6" width="17.9" height="28.6" rx="0"/>
<path d="M413 692.1V682.7H423.2V692.1M413 697.2V706.6H423.2V697.2"/>
<path d="M426.2 692.1V682.7H436.4V692.1M426.2 696.8V706.2H436.4V696.8"/>
<path d="M460.2 681.1H455.2A5.2 5.2 0 0 0 455.2 691.5H460.2M465.2 681.1H470.2A5.2 5.2 0 0 1 470.2 691.5H465.2"/>
<polyline points="447.6,692.6 472.5,692.6 472.5,703.5"/>
<polyline points="472.5,722.9 472.5,734.5 447.6,734.5"/>
<polyline points="448.1,711.7 448.1,715.9"/>
<path d="M387.2 715.2H380.7A8.3 8.3 0 0 0 380.7 731.7H387.2M393.7 715.2H400.3A8.3 8.3 0 0 1 400.3 731.7H393.7"/>
<path d="M413.3 720.9V715.9A5.2 5.2 0 0 1 423.7 715.9V720.9M413.3 724.8V729.8A5.2 5.2 0 0 0 423.7 729.8V724.8"/>
<path d="M425.4 720.9V715.9A5.2 5.2 0 0 1 435.8 715.9V720.9M425.4 724.8V729.8A5.2 5.2 0 0 0 435.8 729.8V724.8"/>
<path d="M482.2 690.3V685.3A5.2 5.2 0 0 1 492.6 685.3V690.3M482.2 695V700A5.2 5.2 0 0 0 492.6 700V695"/>
<path d="M495 690.3V685.3A5.2 5.2 0 0 1 505.4 685.3V690.3M495 695V700A5.2 5.2 0 0 0 505.4 700V695"/>
<path d="M507.8 690.3V685.3A5.2 5.2 0 0 1 518.2 685.3V690.3M507.8 695V700A5.2 5.2 0 0 0 518.2 700V695"/>
<path d="M521.1 690.3V685.3A5.2 5.2 0 0 1 531.5 685.3V690.3M521.1 695V700A5.2 5.2 0 0 0 531.5 700V695"/>
<path d="M571.2 672.4V665.9A7.9 7.9 0 0 1 587 665.9V672.4M571.2 678.8V685.4A7.9 7.9 0 0 0 587 685.4V678.8"/>
<path d="M587.7 669.5V664.5A5.2 5.2 0 0 1 598.1 664.5V669.5M587.7 673.5V678.5A5.2 5.2 0 0 0 598.1 678.5V673.5"/>
<path d="M579.4 695H574.4A5.2 5.2 0 0 0 574.4 705.4H579.4M583.9 695H588.9A5.2 5.2 0 0 1 588.9 705.4H583.9"/>
<path d="M483.2 719V714A5.2 5.2 0 0 1 493.6 714V719M483.2 723.4V728.4A5.2 5.2 0 0 0 493.6 728.4V723.4"/>
<polyline points="508.4,708.7 568.1,708.7 574.5,714.5 574.5,727.9 568.1,734.3 508.4,734.3"/>
<polyline points="564.8,708.7 564.8,734.3"/>
<path d="M610.9 688.6V679.2H621.1V688.6M610.9 694.1V703.5H621.1V694.1"/>
<path d="M623.7 688.6V679.2H633.9V688.6M623.7 694.1V703.5H633.9V694.1"/>
<path d="M599.2 713.8V708.8A5.2 5.2 0 0 1 609.6 708.8V713.8M599.2 718.3V723.3A5.2 5.2 0 0 0 609.6 723.3V718.3"/>
<path d="M611.3 714.6V709.6A5.2 5.2 0 0 1 621.7 709.6V714.6M611.3 718.3V723.3A5.2 5.2 0 0 0 621.7 723.3V718.3"/>
<path d="M624.1 715.1V710.1A5.2 5.2 0 0 1 634.5 710.1V715.1M624.1 720.1V725.1A5.2 5.2 0 0 0 634.5 725.1V720.1"/>
<path d="M650.5 685.7V680.7A5.2 5.2 0 0 1 660.9 680.7V685.7M650.5 690.2V695.2A5.2 5.2 0 0 0 660.9 695.2V690.2"/>
<path d="M663.3 686.9V681.9A5.2 5.2 0 0 1 673.7 681.9V686.9M663.3 690.7V695.7A5.2 5.2 0 0 0 673.7 695.7V690.7"/>
<path d="M647.9 713.8V708.8A5.2 5.2 0 0 1 658.3 708.8V713.8M647.9 718.3V723.3A5.2 5.2 0 0 0 658.3 723.3V718.3"/>
<path d="M660.2 712.6V707.6A5.2 5.2 0 0 1 670.6 707.6V712.6M660.2 717.6V722.6A5.2 5.2 0 0 0 670.6 722.6V717.6"/>
<path d="M594.3 484.5V474.7H604.9V484.5M594.3 488.6V498.4H604.9V488.6"/>
<path d="M583.4 509.7V499.9H594V509.7M583.4 513.7V523.5H594V513.7"/>
<path d="M606.3 501.5H601.4A5.1 5.1 0 0 0 601.4 511.7H606.3M610.8 501.5H615.7A5.1 5.1 0 0 1 615.7 511.7H610.8"/>
<path d="M606 513.7H596.6V523.9H606M610.9 513.7H620.3V523.9H610.9"/>
<path d="M643.1 494.7V487.8A8.5 8.5 0 0 1 660.1 487.8V494.7M643.1 501.4V508.3A8.5 8.5 0 0 0 660.1 508.3V501.4"/>
<path d="M633.2 517H624V527H633.2M638.7 517H647.9V527H638.7"/>
<path d="M636.6 538.2V528.8H646.8V538.2M636.6 543.2V552.6H646.8V543.2"/>
<path d="M648.4 539.2V534.2A5.2 5.2 0 0 1 658.8 534.2V539.2M648.4 542.8V547.8A5.2 5.2 0 0 0 658.8 547.8V542.8"/>
<path d="M563.5 526.3H613Q615.6 526.3 615.6 529.3V578.2H563.5Z"/>
<path d="M546.3 536H541.3A5.2 5.2 0 0 0 541.3 546.4H546.3M551.1 536H556.1A5.2 5.2 0 0 1 556.1 546.4H551.1"/>
<path d="M539.6 549.1H532.3A7.9 7.9 0 0 0 532.3 564.9H539.6M546.3 549.1H553.6A7.9 7.9 0 0 1 553.6 564.9H546.3"/>
<path d="M556.4 582.7V577.7A5.2 5.2 0 0 1 566.8 577.7V582.7M556.4 586.4V591.4A5.2 5.2 0 0 0 566.8 591.4V586.4"/>
<path d="M527.3 576.8V567.4H537.5V576.8M527.3 581.4V590.8H537.5V581.4"/>
<path d="M527.3 600.8V591.4H537.5V600.8M527.3 605.4V614.8H537.5V605.4"/>
<path d="M539.6 580.6V573.3A8 8 0 0 1 555.6 573.3V580.6M539.6 587.4V594.7A8 8 0 0 0 555.6 594.7V587.4"/>
<path d="M581.9 586.3H574.2A7.1 7.1 0 0 0 574.2 600.5H581.9M588.4 586.3H596.1A7.1 7.1 0 0 1 596.1 600.5H588.4"/>
<rect x="551.7" y="604.5" width="51.9" height="51.6" rx="2.5"/>
<path d="M533.8 616.1H528.7A5.3 5.3 0 0 0 528.7 626.7H533.8M537.7 616.1H542.8A5.3 5.3 0 0 1 542.8 626.7H537.7"/>
<path d="M534.3 628.5H529.2A5.3 5.3 0 0 0 529.2 639.1H534.3M538.2 628.5H543.3A5.3 5.3 0 0 1 543.3 639.1H538.2"/>
<path d="M534.3 643.1H529.2A5.3 5.3 0 0 0 529.2 653.7H534.3M538.2 643.1H543.3A5.3 5.3 0 0 1 543.3 653.7H538.2"/>
<rect x="532.4" y="656.9" width="35.2" height="15.5" rx="0"/>
<path d="M571 672V665A7.6 7.6 0 0 1 586.2 665V672M571 678.4V685.5A7.6 7.6 0 0 0 586.2 685.5V678.4"/>
<path d="M587.3 669.3V664.2A5.3 5.3 0 0 1 597.9 664.2V669.3M587.3 673.4V678.5A5.3 5.3 0 0 0 597.9 678.5V673.4"/>
<path d="M547.7 678.3H540.9A7.6 7.6 0 0 0 540.9 693.4H547.7M554 678.3H560.8A7.6 7.6 0 0 1 560.8 693.4H554"/>
<path d="M331 197.9V192.7A5.4 5.4 0 0 1 341.8 192.7V197.9M331 201.2V206.4A5.4 5.4 0 0 0 341.8 206.4V201.2"/>
<path d="M343.1 197.9V192.7A5.4 5.4 0 0 1 353.9 192.7V197.9M343.1 201.2V206.4A5.4 5.4 0 0 0 353.9 206.4V201.2"/>
<path d="M355.9 197.9V192.7A5.4 5.4 0 0 1 366.7 192.7V197.9M355.9 201.2V206.4A5.4 5.4 0 0 0 366.7 206.4V201.2"/>
<path d="M368.1 197.9V192.7A5.4 5.4 0 0 1 378.9 192.7V197.9M368.1 201.2V206.4A5.4 5.4 0 0 0 378.9 206.4V201.2"/>
<path d="M229.9 88.3H225.1A5 5 0 0 0 225.1 98.3H229.9M234.8 88.3H239.6A5 5 0 0 1 239.6 98.3H234.8"/>
<path d="M312.9 507.1V501.9A5.3 5.3 0 0 1 323.6 501.9V507.1M312.9 511.9V517A5.3 5.3 0 0 0 323.6 517V511.9"/>
<path d="M326.2 507.1V501.9A5.3 5.3 0 0 1 336.9 501.9V507.1M326.2 511.9V517A5.3 5.3 0 0 0 336.9 517V511.9"/>
<path d="M339.2 507.1V501.9A5.3 5.3 0 0 1 349.9 501.9V507.1M339.2 511.9V517A5.3 5.3 0 0 0 349.9 517V511.9"/>
<path d="M351.5 507.1V501.9A5.3 5.3 0 0 1 362.2 501.9V507.1M351.5 511.9V517A5.3 5.3 0 0 0 362.2 517V511.9"/>
<path d="M299.1 508.6H294A5.3 5.3 0 0 0 294 519.2H299.1M303.8 508.6H308.9A5.3 5.3 0 0 1 308.9 519.2H303.8"/>
<path d="M438.3 510.1H428.3V520.9H438.3M442.4 510.1H452.4V520.9H442.4"/>
<path d="M463 510.1H453V520.9H463M467.5 510.1H477.5V520.9H467.5"/>
<path d="M489.2 510.3H484.2A5.2 5.2 0 0 0 484.2 520.7H489.2M493 510.3H498A5.2 5.2 0 0 1 498 520.7H493"/>
<path d="M357.4 299.4H352.5A5.1 5.1 0 0 0 352.5 309.6H357.4M360.8 299.4H365.7A5.1 5.1 0 0 1 365.7 309.6H360.8"/>
<path d="M356.7 310.2H347.1V320.6H356.7M361.5 310.2H371.1V320.6H361.5"/>
<path d="M357.2 321.8H347.6V332.2H357.2M361.8 321.8H371.4V332.2H361.8"/>
</g>
<rect x="141.5" y="68.7" width="679.3" height="678.4" fill="none" stroke="#bfbf00" stroke-width="2.8"/>
<path d="M137.2 736.2H142V740L148 745.6H153V752L147 758.8H144.5L142 753.6H137.2L135.1 751.5V738.3Z" fill="#bfbf00"/>
<circle cx="145.9" cy="754.9" r="1" fill="#fff" shape-rendering="geometricPrecision"/>
<rect x="201.5" y="273" width="131" height="196.2" rx="2" fill="none" stroke="#bfbf00" stroke-width="2.6"/>
<rect x="314.3" y="536.6" width="195.8" height="130" rx="2" fill="none" stroke="#bfbf00" stroke-width="2.6"/>
<path d="M258.8 371.3H272.8M265.8 364.3V378.3M405 601.6H419M412 594.6V608.6" fill="none" stroke="#bfbf00" stroke-width="2.8"/>
<circle shape-rendering="geometricPrecision" cx="161.5" cy="49.8" r="3.6" fill="#00ff00"/>
<circle shape-rendering="geometricPrecision" cx="161.5" cy="61.5" r="2.8" fill="#00ff00"/>
<circle shape-rendering="geometricPrecision" cx="161.5" cy="765.5" r="3.6" fill="#00ff00"/>
<circle shape-rendering="geometricPrecision" cx="161.5" cy="753.5" r="2.8" fill="#00ff00"/>
<circle shape-rendering="geometricPrecision" cx="123" cy="89.5" r="3.6" fill="#00ff00"/>
<circle shape-rendering="geometricPrecision" cx="134.6" cy="89.5" r="2.8" fill="#00ff00"/>
<circle shape-rendering="geometricPrecision" cx="837.7" cy="89.5" r="3.6" fill="#00ff00"/>
<circle shape-rendering="geometricPrecision" cx="825.8" cy="89.5" r="2.8" fill="#00ff00"/>
<circle shape-rendering="geometricPrecision" cx="174.5" cy="49.8" r="3.6" fill="#00ff00"/>
<circle shape-rendering="geometricPrecision" cx="174.5" cy="61.5" r="2.8" fill="#00ff00"/>
<circle shape-rendering="geometricPrecision" cx="174.5" cy="765.5" r="3.6" fill="#00ff00"/>
<circle shape-rendering="geometricPrecision" cx="174.5" cy="753.5" r="2.8" fill="#00ff00"/>
<circle shape-rendering="geometricPrecision" cx="123" cy="102.5" r="3.6" fill="#00ff00"/>
<circle shape-rendering="geometricPrecision" cx="134.6" cy="102.5" r="2.8" fill="#00ff00"/>
<circle shape-rendering="geometricPrecision" cx="837.7" cy="102.5" r="3.6" fill="#00ff00"/>
<circle shape-rendering="geometricPrecision" cx="825.8" cy="102.5" r="2.8" fill="#00ff00"/>
<circle shape-rendering="geometricPrecision" cx="187.5" cy="49.8" r="3.6" fill="#00ff00"/>
<circle shape-rendering="geometricPrecision" cx="187.5" cy="61.5" r="2.8" fill="#00ff00"/>
<circle shape-rendering="geometricPrecision" cx="187.5" cy="765.5" r="3.6" fill="#00ff00"/>
<circle shape-rendering="geometricPrecision" cx="187.5" cy="753.5" r="2.8" fill="#00ff00"/>
<circle shape-rendering="geometricPrecision" cx="123" cy="115.5" r="3.6" fill="#00ff00"/>
<circle shape-rendering="geometricPrecision" cx="134.6" cy="115.5" r="2.8" fill="#00ff00"/>
<circle shape-rendering="geometricPrecision" cx="837.7" cy="115.5" r="3.6" fill="#00ff00"/>
<circle shape-rendering="geometricPrecision" cx="825.8" cy="115.5" r="2.8" fill="#00ff00"/>
<circle shape-rendering="geometricPrecision" cx="200.5" cy="49.8" r="3.6" fill="#00ff00"/>
<circle shape-rendering="geometricPrecision" cx="200.5" cy="61.5" r="2.8" fill="#00ff00"/>
<circle shape-rendering="geometricPrecision" cx="200.5" cy="765.5" r="3.6" fill="#00ff00"/>
<circle shape-rendering="geometricPrecision" cx="200.5" cy="753.5" r="2.8" fill="#00ff00"/>
<circle shape-rendering="geometricPrecision" cx="123" cy="128.5" r="3.6" fill="#00ff00"/>
<circle shape-rendering="geometricPrecision" cx="134.6" cy="128.5" r="2.8" fill="#00ff00"/>
<circle shape-rendering="geometricPrecision" cx="837.7" cy="128.5" r="3.6" fill="#00ff00"/>
<circle shape-rendering="geometricPrecision" cx="825.8" cy="128.5" r="2.8" fill="#00ff00"/>
<circle shape-rendering="geometricPrecision" cx="213.5" cy="49.8" r="3.6" fill="#00ff00"/>
<circle shape-rendering="geometricPrecision" cx="213.5" cy="61.5" r="2.8" fill="#00ff00"/>
<circle shape-rendering="geometricPrecision" cx="213.5" cy="765.5" r="3.6" fill="#00ff00"/>
<circle shape-rendering="geometricPrecision" cx="213.5" cy="753.5" r="2.8" fill="#00ff00"/>
<circle shape-rendering="geometricPrecision" cx="123" cy="141.5" r="3.6" fill="#00ff00"/>
<circle shape-rendering="geometricPrecision" cx="134.6" cy="141.5" r="2.8" fill="#00ff00"/>
<circle shape-rendering="geometricPrecision" cx="837.7" cy="141.5" r="3.6" fill="#00ff00"/>
<circle shape-rendering="geometricPrecision" cx="825.8" cy="141.5" r="2.8" fill="#00ff00"/>
<circle shape-rendering="geometricPrecision" cx="226.5" cy="49.8" r="3.6" fill="#00ff00"/>
<circle shape-rendering="geometricPrecision" cx="226.5" cy="61.5" r="2.8" fill="#00ff00"/>
<circle shape-rendering="geometricPrecision" cx="226.5" cy="765.5" r="3.6" fill="#00ff00"/>
<circle shape-rendering="geometricPrecision" cx="226.5" cy="753.5" r="2.8" fill="#00ff00"/>
<circle shape-rendering="geometricPrecision" cx="123" cy="154.5" r="3.6" fill="#00ff00"/>
<circle shape-rendering="geometricPrecision" cx="134.6" cy="154.5" r="2.8" fill="#00ff00"/>
<circle shape-rendering="geometricPrecision" cx="837.7" cy="154.5" r="3.6" fill="#00ff00"/>
<circle shape-rendering="geometricPrecision" cx="825.8" cy="154.5" r="2.8" fill="#00ff00"/>
<circle shape-rendering="geometricPrecision" cx="239.5" cy="49.8" r="3.6" fill="#00ff00"/>
<circle shape-rendering="geometricPrecision" cx="239.5" cy="61.5" r="2.8" fill="#00ff00"/>
<circle shape-rendering="geometricPrecision" cx="239.5" cy="765.5" r="3.6" fill="#00ff00"/>
<circle shape-rendering="geometricPrecision" cx="239.5" cy="753.5" r="2.8" fill="#00ff00"/>
<circle shape-rendering="geometricPrecision" cx="123" cy="167.5" r="3.6" fill="#00ff00"/>
<circle shape-rendering="geometricPrecision" cx="134.6" cy="167.5" r="2.8" fill="#00ff00"/>
<circle shape-rendering="geometricPrecision" cx="837.7" cy="167.5" r="3.6" fill="#00ff00"/>
<circle shape-rendering="geometricPrecision" cx="825.8" cy="167.5" r="2.8" fill="#00ff00"/>
<circle shape-rendering="geometricPrecision" cx="252.5" cy="49.8" r="3.6" fill="#00ff00"/>
<circle shape-rendering="geometricPrecision" cx="252.5" cy="61.5" r="2.8" fill="#00ff00"/>
<circle shape-rendering="geometricPrecision" cx="252.5" cy="765.5" r="3.6" fill="#00ff00"/>
<circle shape-rendering="geometricPrecision" cx="252.5" cy="753.5" r="2.8" fill="#00ff00"/>
<circle shape-rendering="geometricPrecision" cx="123" cy="180.5" r="3.6" fill="#00ff00"/>
<circle shape-rendering="geometricPrecision" cx="134.6" cy="180.5" r="2.8" fill="#00ff00"/>
<circle shape-rendering="geometricPrecision" cx="837.7" cy="180.5" r="3.6" fill="#00ff00"/>
<circle shape-rendering="geometricPrecision" cx="825.8" cy="180.5" r="2.8" fill="#00ff00"/>
<circle shape-rendering="geometricPrecision" cx="265.5" cy="49.8" r="3.6" fill="#00ff00"/>
<circle shape-rendering="geometricPrecision" cx="265.5" cy="61.5" r="2.8" fill="#00ff00"/>
<circle shape-rendering="geometricPrecision" cx="265.5" cy="765.5" r="3.6" fill="#00ff00"/>
<circle shape-rendering="geometricPrecision" cx="265.5" cy="753.5" r="2.8" fill="#00ff00"/>
<circle shape-rendering="geometricPrecision" cx="123" cy="193.5" r="3.6" fill="#00ff00"/>
<circle shape-rendering="geometricPrecision" cx="134.6" cy="193.5" r="2.8" fill="#00ff00"/>
<circle shape-rendering="geometricPrecision" cx="837.7" cy="193.5" r="3.6" fill="#00ff00"/>
<circle shape-rendering="geometricPrecision" cx="825.8" cy="193.5" r="2.8" fill="#00ff00"/>
<circle shape-rendering="geometricPrecision" cx="278.5" cy="49.8" r="3.6" fill="#00ff00"/>
<circle shape-rendering="geometricPrecision" cx="278.5" cy="61.5" r="2.8" fill="#00ff00"/>
<circle shape-rendering="geometricPrecision" cx="278.5" cy="765.5" r="3.6" fill="#00ff00"/>
<circle shape-rendering="geometricPrecision" cx="278.5" cy="753.5" r="2.8" fill="#00ff00"/>
<circle shape-rendering="geometricPrecision" cx="123" cy="206.5" r="3.6" fill="#00ff00"/>
<circle shape-rendering="geometricPrecision" cx="134.6" cy="206.5" r="2.8" fill="#00ff00"/>
<circle shape-rendering="geometricPrecision" cx="837.7" cy="206.5" r="3.6" fill="#00ff00"/>
<circle shape-rendering="geometricPrecision" cx="825.8" cy="206.5" r="2.8" fill="#00ff00"/>
<circle shape-rendering="geometricPrecision" cx="291.5" cy="49.8" r="3.6" fill="#00ff00"/>
<circle shape-rendering="geometricPrecision" cx="291.5" cy="61.5" r="2.8" fill="#00ff00"/>
<circle shape-rendering="geometricPrecision" cx="291.5" cy="765.5" r="3.6" fill="#00ff00"/>
<circle shape-rendering="geometricPrecision" cx="291.5" cy="753.5" r="2.8" fill="#00ff00"/>
<circle shape-rendering="geometricPrecision" cx="123" cy="219.5" r="3.6" fill="#00ff00"/>
<circle shape-rendering="geometricPrecision" cx="134.6" cy="219.5" r="2.8" fill="#00ff00"/>
<circle shape-rendering="geometricPrecision" cx="837.7" cy="219.5" r="3.6" fill="#00ff00"/>
<circle shape-rendering="geometricPrecision" cx="825.8" cy="219.5" r="2.8" fill="#00ff00"/>
<circle shape-rendering="geometricPrecision" cx="304.5" cy="49.8" r="3.6" fill="#00ff00"/>
<circle shape-rendering="geometricPrecision" cx="304.5" cy="61.5" r="2.8" fill="#00ff00"/>
<circle shape-rendering="geometricPrecision" cx="304.5" cy="765.5" r="3.6" fill="#00ff00"/>
<circle shape-rendering="geometricPrecision" cx="304.5" cy="753.5" r="2.8" fill="#00ff00"/>
<circle shape-rendering="geometricPrecision" cx="123" cy="232.5" r="3.6" fill="#00ff00"/>
<circle shape-rendering="geometricPrecision" cx="134.6" cy="232.5" r="2.8" fill="#00ff00"/>
<circle shape-rendering="geometricPrecision" cx="837.7" cy="232.5" r="3.6" fill="#00ff00"/>
<circle shape-rendering="geometricPrecision" cx="825.8" cy="232.5" r="2.8" fill="#00ff00"/>
<circle shape-rendering="geometricPrecision" cx="317.5" cy="49.8" r="3.6" fill="#00ff00"/>
<circle shape-rendering="geometricPrecision" cx="317.5" cy="61.5" r="2.8" fill="#00ff00"/>
<circle shape-rendering="geometricPrecision" cx="317.5" cy="765.5" r="3.6" fill="#00ff00"/>
<circle shape-rendering="geometricPrecision" cx="317.5" cy="753.5" r="2.8" fill="#00ff00"/>
<circle shape-rendering="geometricPrecision" cx="123" cy="245.5" r="3.6" fill="#00ff00"/>
<circle shape-rendering="geometricPrecision" cx="134.6" cy="245.5" r="2.8" fill="#00ff00"/>
<circle shape-rendering="geometricPrecision" cx="837.7" cy="245.5" r="3.6" fill="#00ff00"/>
<circle shape-rendering="geometricPrecision" cx="825.8" cy="245.5" r="2.8" fill="#00ff00"/>
<circle shape-rendering="geometricPrecision" cx="330.5" cy="49.8" r="3.6" fill="#00ff00"/>
<circle shape-rendering="geometricPrecision" cx="330.5" cy="61.5" r="2.8" fill="#00ff00"/>
<circle shape-rendering="geometricPrecision" cx="330.5" cy="765.5" r="3.6" fill="#00ff00"/>
<circle shape-rendering="geometricPrecision" cx="330.5" cy="753.5" r="2.8" fill="#00ff00"/>
<circle shape-rendering="geometricPrecision" cx="123" cy="258.5" r="3.6" fill="#00ff00"/>
<circle shape-rendering="geometricPrecision" cx="134.6" cy="258.5" r="2.8" fill="#00ff00"/>
<circle shape-rendering="geometricPrecision" cx="837.7" cy="258.5" r="3.6" fill="#00ff00"/>
<circle shape-rendering="geometricPrecision" cx="825.8" cy="258.5" r="2.8" fill="#00ff00"/>
<circle shape-rendering="geometricPrecision" cx="343.5" cy="49.8" r="3.6" fill="#00ff00"/>
<circle shape-rendering="geometricPrecision" cx="343.5" cy="61.5" r="2.8" fill="#00ff00"/>
<circle shape-rendering="geometricPrecision" cx="343.5" cy="765.5" r="3.6" fill="#00ff00"/>
<circle shape-rendering="geometricPrecision" cx="343.5" cy="753.5" r="2.8" fill="#00ff00"/>
<circle shape-rendering="geometricPrecision" cx="123" cy="271.5" r="3.6" fill="#00ff00"/>
<circle shape-rendering="geometricPrecision" cx="134.6" cy="271.5" r="2.8" fill="#00ff00"/>
<circle shape-rendering="geometricPrecision" cx="837.7" cy="271.5" r="3.6" fill="#00ff00"/>
<circle shape-rendering="geometricPrecision" cx="825.8" cy="271.5" r="2.8" fill="#00ff00"/>
<circle shape-rendering="geometricPrecision" cx="356.5" cy="49.8" r="3.6" fill="#00ff00"/>
<circle shape-rendering="geometricPrecision" cx="356.5" cy="61.5" r="2.8" fill="#00ff00"/>
<circle shape-rendering="geometricPrecision" cx="356.5" cy="765.5" r="3.6" fill="#00ff00"/>
<circle shape-rendering="geometricPrecision" cx="356.5" cy="753.5" r="2.8" fill="#00ff00"/>
<circle shape-rendering="geometricPrecision" cx="123" cy="284.5" r="3.6" fill="#00ff00"/>
<circle shape-rendering="geometricPrecision" cx="134.6" cy="284.5" r="2.8" fill="#00ff00"/>
<circle shape-rendering="geometricPrecision" cx="837.7" cy="284.5" r="3.6" fill="#00ff00"/>
<circle shape-rendering="geometricPrecision" cx="825.8" cy="284.5" r="2.8" fill="#00ff00"/>
<circle shape-rendering="geometricPrecision" cx="369.5" cy="49.8" r="3.6" fill="#00ff00"/>
<circle shape-rendering="geometricPrecision" cx="369.5" cy="61.5" r="2.8" fill="#00ff00"/>
<circle shape-rendering="geometricPrecision" cx="369.5" cy="765.5" r="3.6" fill="#00ff00"/>
<circle shape-rendering="geometricPrecision" cx="369.5" cy="753.5" r="2.8" fill="#00ff00"/>
<circle shape-rendering="geometricPrecision" cx="123" cy="297.5" r="3.6" fill="#00ff00"/>
<circle shape-rendering="geometricPrecision" cx="134.6" cy="297.5" r="2.8" fill="#00ff00"/>
<circle shape-rendering="geometricPrecision" cx="837.7" cy="297.5" r="3.6" fill="#00ff00"/>
<circle shape-rendering="geometricPrecision" cx="825.8" cy="297.5" r="2.8" fill="#00ff00"/>
<circle shape-rendering="geometricPrecision" cx="382.5" cy="49.8" r="3.6" fill="#00ff00"/>
<circle shape-rendering="geometricPrecision" cx="382.5" cy="61.5" r="2.8" fill="#00ff00"/>
<circle shape-rendering="geometricPrecision" cx="382.5" cy="765.5" r="3.6" fill="#00ff00"/>
<circle shape-rendering="geometricPrecision" cx="382.5" cy="753.5" r="2.8" fill="#00ff00"/>
<circle shape-rendering="geometricPrecision" cx="123" cy="310.5" r="3.6" fill="#00ff00"/>
<circle shape-rendering="geometricPrecision" cx="134.6" cy="310.5" r="2.8" fill="#00ff00"/>
<circle shape-rendering="geometricPrecision" cx="837.7" cy="310.5" r="3.6" fill="#00ff00"/>
<circle shape-rendering="geometricPrecision" cx="825.8" cy="310.5" r="2.8" fill="#00ff00"/>
<circle shape-rendering="geometricPrecision" cx="395.5" cy="49.8" r="3.6" fill="#00ff00"/>
<circle shape-rendering="geometricPrecision" cx="395.5" cy="61.5" r="2.8" fill="#00ff00"/>
<circle shape-rendering="geometricPrecision" cx="395.5" cy="765.5" r="3.6" fill="#00ff00"/>
<circle shape-rendering="geometricPrecision" cx="395.5" cy="753.5" r="2.8" fill="#00ff00"/>
<circle shape-rendering="geometricPrecision" cx="123" cy="323.5" r="3.6" fill="#00ff00"/>
<circle shape-rendering="geometricPrecision" cx="134.6" cy="323.5" r="2.8" fill="#00ff00"/>
<circle shape-rendering="geometricPrecision" cx="837.7" cy="323.5" r="3.6" fill="#00ff00"/>
<circle shape-rendering="geometricPrecision" cx="825.8" cy="323.5" r="2.8" fill="#00ff00"/>
<circle shape-rendering="geometricPrecision" cx="408.5" cy="49.8" r="3.6" fill="#00ff00"/>
<circle shape-rendering="geometricPrecision" cx="408.5" cy="61.5" r="2.8" fill="#00ff00"/>
<circle shape-rendering="geometricPrecision" cx="408.5" cy="765.5" r="3.6" fill="#00ff00"/>
<circle shape-rendering="geometricPrecision" cx="408.5" cy="753.5" r="2.8" fill="#00ff00"/>
<circle shape-rendering="geometricPrecision" cx="123" cy="336.5" r="3.6" fill="#00ff00"/>
<circle shape-rendering="geometricPrecision" cx="134.6" cy="336.5" r="2.8" fill="#00ff00"/>
<circle shape-rendering="geometricPrecision" cx="837.7" cy="336.5" r="3.6" fill="#00ff00"/>
<circle shape-rendering="geometricPrecision" cx="825.8" cy="336.5" r="2.8" fill="#00ff00"/>
<circle shape-rendering="geometricPrecision" cx="421.5" cy="49.8" r="3.6" fill="#00ff00"/>
<circle shape-rendering="geometricPrecision" cx="421.5" cy="61.5" r="2.8" fill="#00ff00"/>
<circle shape-rendering="geometricPrecision" cx="421.5" cy="765.5" r="3.6" fill="#00ff00"/>
<circle shape-rendering="geometricPrecision" cx="421.5" cy="753.5" r="2.8" fill="#00ff00"/>
<circle shape-rendering="geometricPrecision" cx="123" cy="349.5" r="3.6" fill="#00ff00"/>
<circle shape-rendering="geometricPrecision" cx="134.6" cy="349.5" r="2.8" fill="#00ff00"/>
<circle shape-rendering="geometricPrecision" cx="837.7" cy="349.5" r="3.6" fill="#00ff00"/>
<circle shape-rendering="geometricPrecision" cx="825.8" cy="349.5" r="2.8" fill="#00ff00"/>
<circle shape-rendering="geometricPrecision" cx="434.5" cy="49.8" r="3.6" fill="#00ff00"/>
<circle shape-rendering="geometricPrecision" cx="434.5" cy="61.5" r="2.8" fill="#00ff00"/>
<circle shape-rendering="geometricPrecision" cx="434.5" cy="765.5" r="3.6" fill="#00ff00"/>
<circle shape-rendering="geometricPrecision" cx="434.5" cy="753.5" r="2.8" fill="#00ff00"/>
<circle shape-rendering="geometricPrecision" cx="123" cy="362.5" r="3.6" fill="#00ff00"/>
<circle shape-rendering="geometricPrecision" cx="134.6" cy="362.5" r="2.8" fill="#00ff00"/>
<circle shape-rendering="geometricPrecision" cx="837.7" cy="362.5" r="3.6" fill="#00ff00"/>
<circle shape-rendering="geometricPrecision" cx="825.8" cy="362.5" r="2.8" fill="#00ff00"/>
<circle shape-rendering="geometricPrecision" cx="447.5" cy="49.8" r="3.6" fill="#00ff00"/>
<circle shape-rendering="geometricPrecision" cx="447.5" cy="61.5" r="2.8" fill="#00ff00"/>
<circle shape-rendering="geometricPrecision" cx="447.5" cy="765.5" r="3.6" fill="#00ff00"/>
<circle shape-rendering="geometricPrecision" cx="447.5" cy="753.5" r="2.8" fill="#00ff00"/>
<circle shape-rendering="geometricPrecision" cx="123" cy="375.5" r="3.6" fill="#00ff00"/>
<circle shape-rendering="geometricPrecision" cx="134.6" cy="375.5" r="2.8" fill="#00ff00"/>
<circle shape-rendering="geometricPrecision" cx="837.7" cy="375.5" r="3.6" fill="#00ff00"/>
<circle shape-rendering="geometricPrecision" cx="825.8" cy="375.5" r="2.8" fill="#00ff00"/>
<circle shape-rendering="geometricPrecision" cx="460.5" cy="49.8" r="3.6" fill="#00ff00"/>
<circle shape-rendering="geometricPrecision" cx="460.5" cy="61.5" r="2.8" fill="#00ff00"/>
<circle shape-rendering="geometricPrecision" cx="460.5" cy="765.5" r="3.6" fill="#00ff00"/>
<circle shape-rendering="geometricPrecision" cx="460.5" cy="753.5" r="2.8" fill="#00ff00"/>
<circle shape-rendering="geometricPrecision" cx="123" cy="388.5" r="3.6" fill="#00ff00"/>
<circle shape-rendering="geometricPrecision" cx="134.6" cy="388.5" r="2.8" fill="#00ff00"/>
<circle shape-rendering="geometricPrecision" cx="837.7" cy="388.5" r="3.6" fill="#00ff00"/>
<circle shape-rendering="geometricPrecision" cx="825.8" cy="388.5" r="2.8" fill="#00ff00"/>
<circle shape-rendering="geometricPrecision" cx="473.5" cy="49.8" r="3.6" fill="#00ff00"/>
<circle shape-rendering="geometricPrecision" cx="473.5" cy="61.5" r="2.8" fill="#00ff00"/>
<circle shape-rendering="geometricPrecision" cx="473.5" cy="765.5" r="3.6" fill="#00ff00"/>
<circle shape-rendering="geometricPrecision" cx="473.5" cy="753.5" r="2.8" fill="#00ff00"/>
<circle shape-rendering="geometricPrecision" cx="123" cy="401.5" r="3.6" fill="#00ff00"/>
<circle shape-rendering="geometricPrecision" cx="134.6" cy="401.5" r="2.8" fill="#00ff00"/>
<circle shape-rendering="geometricPrecision" cx="837.7" cy="401.5" r="3.6" fill="#00ff00"/>
<circle shape-rendering="geometricPrecision" cx="825.8" cy="401.5" r="2.8" fill="#00ff00"/>
<circle shape-rendering="geometricPrecision" cx="486.5" cy="49.8" r="3.6" fill="#00ff00"/>
<circle shape-rendering="geometricPrecision" cx="486.5" cy="61.5" r="2.8" fill="#00ff00"/>
<circle shape-rendering="geometricPrecision" cx="486.5" cy="765.5" r="3.6" fill="#00ff00"/>
<circle shape-rendering="geometricPrecision" cx="486.5" cy="753.5" r="2.8" fill="#00ff00"/>
<circle shape-rendering="geometricPrecision" cx="123" cy="414.5" r="3.6" fill="#00ff00"/>
<circle shape-rendering="geometricPrecision" cx="134.6" cy="414.5" r="2.8" fill="#00ff00"/>
<circle shape-rendering="geometricPrecision" cx="837.7" cy="414.5" r="3.6" fill="#00ff00"/>
<circle shape-rendering="geometricPrecision" cx="825.8" cy="414.5" r="2.8" fill="#00ff00"/>
<circle shape-rendering="geometricPrecision" cx="499.5" cy="49.8" r="3.6" fill="#00ff00"/>
<circle shape-rendering="geometricPrecision" cx="499.5" cy="61.5" r="2.8" fill="#00ff00"/>
<circle shape-rendering="geometricPrecision" cx="499.5" cy="765.5" r="3.6" fill="#00ff00"/>
<circle shape-rendering="geometricPrecision" cx="499.5" cy="753.5" r="2.8" fill="#00ff00"/>
<circle shape-rendering="geometricPrecision" cx="123" cy="427.5" r="3.6" fill="#00ff00"/>
<circle shape-rendering="geometricPrecision" cx="134.6" cy="427.5" r="2.8" fill="#00ff00"/>
<circle shape-rendering="geometricPrecision" cx="837.7" cy="427.5" r="3.6" fill="#00ff00"/>
<circle shape-rendering="geometricPrecision" cx="825.8" cy="427.5" r="2.8" fill="#00ff00"/>
<circle shape-rendering="geometricPrecision" cx="512.5" cy="49.8" r="3.6" fill="#00ff00"/>
<circle shape-rendering="geometricPrecision" cx="512.5" cy="61.5" r="2.8" fill="#00ff00"/>
<circle shape-rendering="geometricPrecision" cx="512.5" cy="765.5" r="3.6" fill="#00ff00"/>
<circle shape-rendering="geometricPrecision" cx="512.5" cy="753.5" r="2.8" fill="#00ff00"/>
<circle shape-rendering="geometricPrecision" cx="123" cy="440.5" r="3.6" fill="#00ff00"/>
<circle shape-rendering="geometricPrecision" cx="134.6" cy="440.5" r="2.8" fill="#00ff00"/>
<circle shape-rendering="geometricPrecision" cx="837.7" cy="440.5" r="3.6" fill="#00ff00"/>
<circle shape-rendering="geometricPrecision" cx="825.8" cy="440.5" r="2.8" fill="#00ff00"/>
<circle shape-rendering="geometricPrecision" cx="525.5" cy="49.8" r="3.6" fill="#00ff00"/>
<circle shape-rendering="geometricPrecision" cx="525.5" cy="61.5" r="2.8" fill="#00ff00"/>
<circle shape-rendering="geometricPrecision" cx="525.5" cy="765.5" r="3.6" fill="#00ff00"/>
<circle shape-rendering="geometricPrecision" cx="525.5" cy="753.5" r="2.8" fill="#00ff00"/>
<circle shape-rendering="geometricPrecision" cx="123" cy="453.5" r="3.6" fill="#00ff00"/>
<circle shape-rendering="geometricPrecision" cx="134.6" cy="453.5" r="2.8" fill="#00ff00"/>
<circle shape-rendering="geometricPrecision" cx="837.7" cy="453.5" r="3.6" fill="#00ff00"/>
<circle shape-rendering="geometricPrecision" cx="825.8" cy="453.5" r="2.8" fill="#00ff00"/>
<circle shape-rendering="geometricPrecision" cx="538.5" cy="49.8" r="3.6" fill="#00ff00"/>
<circle shape-rendering="geometricPrecision" cx="538.5" cy="61.5" r="2.8" fill="#00ff00"/>
<circle shape-rendering="geometricPrecision" cx="538.5" cy="765.5" r="3.6" fill="#00ff00"/>
<circle shape-rendering="geometricPrecision" cx="538.5" cy="753.5" r="2.8" fill="#00ff00"/>
<circle shape-rendering="geometricPrecision" cx="123" cy="466.5" r="3.6" fill="#00ff00"/>
<circle shape-rendering="geometricPrecision" cx="134.6" cy="466.5" r="2.8" fill="#00ff00"/>
<circle shape-rendering="geometricPrecision" cx="837.7" cy="466.5" r="3.6" fill="#00ff00"/>
<circle shape-rendering="geometricPrecision" cx="825.8" cy="466.5" r="2.8" fill="#00ff00"/>
<circle shape-rendering="geometricPrecision" cx="551.5" cy="49.8" r="3.6" fill="#00ff00"/>
<circle shape-rendering="geometricPrecision" cx="551.5" cy="61.5" r="2.8" fill="#00ff00"/>
<circle shape-rendering="geometricPrecision" cx="551.5" cy="765.5" r="3.6" fill="#00ff00"/>
<circle shape-rendering="geometricPrecision" cx="551.5" cy="753.5" r="2.8" fill="#00ff00"/>
<circle shape-rendering="geometricPrecision" cx="123" cy="479.5" r="3.6" fill="#00ff00"/>
<circle shape-rendering="geometricPrecision" cx="134.6" cy="479.5" r="2.8" fill="#00ff00"/>
<circle shape-rendering="geometricPrecision" cx="837.7" cy="479.5" r="3.6" fill="#00ff00"/>
<circle shape-rendering="geometricPrecision" cx="825.8" cy="479.5" r="2.8" fill="#00ff00"/>
<circle shape-rendering="geometricPrecision" cx="564.5" cy="49.8" r="3.6" fill="#00ff00"/>
<circle shape-rendering="geometricPrecision" cx="564.5" cy="61.5" r="2.8" fill="#00ff00"/>
<circle shape-rendering="geometricPrecision" cx="564.5" cy="765.5" r="3.6" fill="#00ff00"/>
<circle shape-rendering="geometricPrecision" cx="564.5" cy="753.5" r="2.8" fill="#00ff00"/>
<circle shape-rendering="geometricPrecision" cx="123" cy="492.5" r="3.6" fill="#00ff00"/>
<circle shape-rendering="geometricPrecision" cx="134.6" cy="492.5" r="2.8" fill="#00ff00"/>
<circle shape-rendering="geometricPrecision" cx="837.7" cy="492.5" r="3.6" fill="#00ff00"/>
<circle shape-rendering="geometricPrecision" cx="825.8" cy="492.5" r="2.8" fill="#00ff00"/>
<circle shape-rendering="geometricPrecision" cx="577.5" cy="49.8" r="3.6" fill="#00ff00"/>
<circle shape-rendering="geometricPrecision" cx="577.5" cy="61.5" r="2.8" fill="#00ff00"/>
<circle shape-rendering="geometricPrecision" cx="577.5" cy="765.5" r="3.6" fill="#00ff00"/>
<circle shape-rendering="geometricPrecision" cx="577.5" cy="753.5" r="2.8" fill="#00ff00"/>
<circle shape-rendering="geometricPrecision" cx="123" cy="505.5" r="3.6" fill="#00ff00"/>
<circle shape-rendering="geometricPrecision" cx="134.6" cy="505.5" r="2.8" fill="#00ff00"/>
<circle shape-rendering="geometricPrecision" cx="837.7" cy="505.5" r="3.6" fill="#00ff00"/>
<circle shape-rendering="geometricPrecision" cx="825.8" cy="505.5" r="2.8" fill="#00ff00"/>
<circle shape-rendering="geometricPrecision" cx="590.5" cy="49.8" r="3.6" fill="#00ff00"/>
<circle shape-rendering="geometricPrecision" cx="590.5" cy="61.5" r="2.8" fill="#00ff00"/>
<circle shape-rendering="geometricPrecision" cx="590.5" cy="765.5" r="3.6" fill="#00ff00"/>
<circle shape-rendering="geometricPrecision" cx="590.5" cy="753.5" r="2.8" fill="#00ff00"/>
<circle shape-rendering="geometricPrecision" cx="123" cy="518.5" r="3.6" fill="#00ff00"/>
<circle shape-rendering="geometricPrecision" cx="134.6" cy="518.5" r="2.8" fill="#00ff00"/>
<circle shape-rendering="geometricPrecision" cx="837.7" cy="518.5" r="3.6" fill="#00ff00"/>
<circle shape-rendering="geometricPrecision" cx="825.8" cy="518.5" r="2.8" fill="#00ff00"/>
<circle shape-rendering="geometricPrecision" cx="603.5" cy="49.8" r="3.6" fill="#00ff00"/>
<circle shape-rendering="geometricPrecision" cx="603.5" cy="61.5" r="2.8" fill="#00ff00"/>
<circle shape-rendering="geometricPrecision" cx="603.5" cy="765.5" r="3.6" fill="#00ff00"/>
<circle shape-rendering="geometricPrecision" cx="603.5" cy="753.5" r="2.8" fill="#00ff00"/>
<circle shape-rendering="geometricPrecision" cx="123" cy="531.5" r="3.6" fill="#00ff00"/>
<circle shape-rendering="geometricPrecision" cx="134.6" cy="531.5" r="2.8" fill="#00ff00"/>
<circle shape-rendering="geometricPrecision" cx="837.7" cy="531.5" r="3.6" fill="#00ff00"/>
<circle shape-rendering="geometricPrecision" cx="825.8" cy="531.5" r="2.8" fill="#00ff00"/>
<circle shape-rendering="geometricPrecision" cx="616.5" cy="49.8" r="3.6" fill="#00ff00"/>
<circle shape-rendering="geometricPrecision" cx="616.5" cy="61.5" r="2.8" fill="#00ff00"/>
<circle shape-rendering="geometricPrecision" cx="616.5" cy="765.5" r="3.6" fill="#00ff00"/>
<circle shape-rendering="geometricPrecision" cx="616.5" cy="753.5" r="2.8" fill="#00ff00"/>
<circle shape-rendering="geometricPrecision" cx="123" cy="544.5" r="3.6" fill="#00ff00"/>
<circle shape-rendering="geometricPrecision" cx="134.6" cy="544.5" r="2.8" fill="#00ff00"/>
<circle shape-rendering="geometricPrecision" cx="837.7" cy="544.5" r="3.6" fill="#00ff00"/>
<circle shape-rendering="geometricPrecision" cx="825.8" cy="544.5" r="2.8" fill="#00ff00"/>
<circle shape-rendering="geometricPrecision" cx="629.5" cy="49.8" r="3.6" fill="#00ff00"/>
<circle shape-rendering="geometricPrecision" cx="629.5" cy="61.5" r="2.8" fill="#00ff00"/>
<circle shape-rendering="geometricPrecision" cx="629.5" cy="765.5" r="3.6" fill="#00ff00"/>
<circle shape-rendering="geometricPrecision" cx="629.5" cy="753.5" r="2.8" fill="#00ff00"/>
<circle shape-rendering="geometricPrecision" cx="123" cy="557.5" r="3.6" fill="#00ff00"/>
<circle shape-rendering="geometricPrecision" cx="134.6" cy="557.5" r="2.8" fill="#00ff00"/>
<circle shape-rendering="geometricPrecision" cx="837.7" cy="557.5" r="3.6" fill="#00ff00"/>
<circle shape-rendering="geometricPrecision" cx="825.8" cy="557.5" r="2.8" fill="#00ff00"/>
<circle shape-rendering="geometricPrecision" cx="642.5" cy="49.8" r="3.6" fill="#00ff00"/>
<circle shape-rendering="geometricPrecision" cx="642.5" cy="61.5" r="2.8" fill="#00ff00"/>
<circle shape-rendering="geometricPrecision" cx="642.5" cy="765.5" r="3.6" fill="#00ff00"/>
<circle shape-rendering="geometricPrecision" cx="642.5" cy="753.5" r="2.8" fill="#00ff00"/>
<circle shape-rendering="geometricPrecision" cx="123" cy="570.5" r="3.6" fill="#00ff00"/>
<circle shape-rendering="geometricPrecision" cx="134.6" cy="570.5" r="2.8" fill="#00ff00"/>
<circle shape-rendering="geometricPrecision" cx="837.7" cy="570.5" r="3.6" fill="#00ff00"/>
<circle shape-rendering="geometricPrecision" cx="825.8" cy="570.5" r="2.8" fill="#00ff00"/>
<circle shape-rendering="geometricPrecision" cx="655.5" cy="49.8" r="3.6" fill="#00ff00"/>
<circle shape-rendering="geometricPrecision" cx="655.5" cy="61.5" r="2.8" fill="#00ff00"/>
<circle shape-rendering="geometricPrecision" cx="655.5" cy="765.5" r="3.6" fill="#00ff00"/>
<circle shape-rendering="geometricPrecision" cx="655.5" cy="753.5" r="2.8" fill="#00ff00"/>
<circle shape-rendering="geometricPrecision" cx="123" cy="583.5" r="3.6" fill="#00ff00"/>
<circle shape-rendering="geometricPrecision" cx="134.6" cy="583.5" r="2.8" fill="#00ff00"/>
<circle shape-rendering="geometricPrecision" cx="837.7" cy="583.5" r="3.6" fill="#00ff00"/>
<circle shape-rendering="geometricPrecision" cx="825.8" cy="583.5" r="2.8" fill="#00ff00"/>
<circle shape-rendering="geometricPrecision" cx="668.5" cy="49.8" r="3.6" fill="#00ff00"/>
<circle shape-rendering="geometricPrecision" cx="668.5" cy="61.5" r="2.8" fill="#00ff00"/>
<circle shape-rendering="geometricPrecision" cx="668.5" cy="765.5" r="3.6" fill="#00ff00"/>
<circle shape-rendering="geometricPrecision" cx="668.5" cy="753.5" r="2.8" fill="#00ff00"/>
<circle shape-rendering="geometricPrecision" cx="123" cy="596.5" r="3.6" fill="#00ff00"/>
<circle shape-rendering="geometricPrecision" cx="134.6" cy="596.5" r="2.8" fill="#00ff00"/>
<circle shape-rendering="geometricPrecision" cx="837.7" cy="596.5" r="3.6" fill="#00ff00"/>
<circle shape-rendering="geometricPrecision" cx="825.8" cy="596.5" r="2.8" fill="#00ff00"/>
<circle shape-rendering="geometricPrecision" cx="681.5" cy="49.8" r="3.6" fill="#00ff00"/>
<circle shape-rendering="geometricPrecision" cx="681.5" cy="61.5" r="2.8" fill="#00ff00"/>
<circle shape-rendering="geometricPrecision" cx="681.5" cy="765.5" r="3.6" fill="#00ff00"/>
<circle shape-rendering="geometricPrecision" cx="681.5" cy="753.5" r="2.8" fill="#00ff00"/>
<circle shape-rendering="geometricPrecision" cx="123" cy="609.5" r="3.6" fill="#00ff00"/>
<circle shape-rendering="geometricPrecision" cx="134.6" cy="609.5" r="2.8" fill="#00ff00"/>
<circle shape-rendering="geometricPrecision" cx="837.7" cy="609.5" r="3.6" fill="#00ff00"/>
<circle shape-rendering="geometricPrecision" cx="825.8" cy="609.5" r="2.8" fill="#00ff00"/>
<circle shape-rendering="geometricPrecision" cx="694.5" cy="49.8" r="3.6" fill="#00ff00"/>
<circle shape-rendering="geometricPrecision" cx="694.5" cy="61.5" r="2.8" fill="#00ff00"/>
<circle shape-rendering="geometricPrecision" cx="694.5" cy="765.5" r="3.6" fill="#00ff00"/>
<circle shape-rendering="geometricPrecision" cx="694.5" cy="753.5" r="2.8" fill="#00ff00"/>
<circle shape-rendering="geometricPrecision" cx="123" cy="622.5" r="3.6" fill="#00ff00"/>
<circle shape-rendering="geometricPrecision" cx="134.6" cy="622.5" r="2.8" fill="#00ff00"/>
<circle shape-rendering="geometricPrecision" cx="837.7" cy="622.5" r="3.6" fill="#00ff00"/>
<circle shape-rendering="geometricPrecision" cx="825.8" cy="622.5" r="2.8" fill="#00ff00"/>
<circle shape-rendering="geometricPrecision" cx="707.5" cy="49.8" r="3.6" fill="#00ff00"/>
<circle shape-rendering="geometricPrecision" cx="707.5" cy="61.5" r="2.8" fill="#00ff00"/>
<circle shape-rendering="geometricPrecision" cx="707.5" cy="765.5" r="3.6" fill="#00ff00"/>
<circle shape-rendering="geometricPrecision" cx="707.5" cy="753.5" r="2.8" fill="#00ff00"/>
<circle shape-rendering="geometricPrecision" cx="123" cy="635.5" r="3.6" fill="#00ff00"/>
<circle shape-rendering="geometricPrecision" cx="134.6" cy="635.5" r="2.8" fill="#00ff00"/>
<circle shape-rendering="geometricPrecision" cx="837.7" cy="635.5" r="3.6" fill="#00ff00"/>
<circle shape-rendering="geometricPrecision" cx="825.8" cy="635.5" r="2.8" fill="#00ff00"/>
<circle shape-rendering="geometricPrecision" cx="720.5" cy="49.8" r="3.6" fill="#00ff00"/>
<circle shape-rendering="geometricPrecision" cx="720.5" cy="61.5" r="2.8" fill="#00ff00"/>
<circle shape-rendering="geometricPrecision" cx="720.5" cy="765.5" r="3.6" fill="#00ff00"/>
<circle shape-rendering="geometricPrecision" cx="720.5" cy="753.5" r="2.8" fill="#00ff00"/>
<circle shape-rendering="geometricPrecision" cx="123" cy="648.5" r="3.6" fill="#00ff00"/>
<circle shape-rendering="geometricPrecision" cx="134.6" cy="648.5" r="2.8" fill="#00ff00"/>
<circle shape-rendering="geometricPrecision" cx="837.7" cy="648.5" r="3.6" fill="#00ff00"/>
<circle shape-rendering="geometricPrecision" cx="825.8" cy="648.5" r="2.8" fill="#00ff00"/>
<circle shape-rendering="geometricPrecision" cx="733.5" cy="49.8" r="3.6" fill="#00ff00"/>
<circle shape-rendering="geometricPrecision" cx="733.5" cy="61.5" r="2.8" fill="#00ff00"/>
<circle shape-rendering="geometricPrecision" cx="733.5" cy="765.5" r="3.6" fill="#00ff00"/>
<circle shape-rendering="geometricPrecision" cx="733.5" cy="753.5" r="2.8" fill="#00ff00"/>
<circle shape-rendering="geometricPrecision" cx="123" cy="661.5" r="3.6" fill="#00ff00"/>
<circle shape-rendering="geometricPrecision" cx="134.6" cy="661.5" r="2.8" fill="#00ff00"/>
<circle shape-rendering="geometricPrecision" cx="837.7" cy="661.5" r="3.6" fill="#00ff00"/>
<circle shape-rendering="geometricPrecision" cx="825.8" cy="661.5" r="2.8" fill="#00ff00"/>
<circle shape-rendering="geometricPrecision" cx="746.5" cy="49.8" r="3.6" fill="#00ff00"/>
<circle shape-rendering="geometricPrecision" cx="746.5" cy="61.5" r="2.8" fill="#00ff00"/>
<circle shape-rendering="geometricPrecision" cx="746.5" cy="765.5" r="3.6" fill="#00ff00"/>
<circle shape-rendering="geometricPrecision" cx="746.5" cy="753.5" r="2.8" fill="#00ff00"/>
<circle shape-rendering="geometricPrecision" cx="123" cy="674.5" r="3.6" fill="#00ff00"/>
<circle shape-rendering="geometricPrecision" cx="134.6" cy="674.5" r="2.8" fill="#00ff00"/>
<circle shape-rendering="geometricPrecision" cx="837.7" cy="674.5" r="3.6" fill="#00ff00"/>
<circle shape-rendering="geometricPrecision" cx="825.8" cy="674.5" r="2.8" fill="#00ff00"/>
<circle shape-rendering="geometricPrecision" cx="759.5" cy="49.8" r="3.6" fill="#00ff00"/>
<circle shape-rendering="geometricPrecision" cx="759.5" cy="61.5" r="2.8" fill="#00ff00"/>
<circle shape-rendering="geometricPrecision" cx="759.5" cy="765.5" r="3.6" fill="#00ff00"/>
<circle shape-rendering="geometricPrecision" cx="759.5" cy="753.5" r="2.8" fill="#00ff00"/>
<circle shape-rendering="geometricPrecision" cx="123" cy="687.5" r="3.6" fill="#00ff00"/>
<circle shape-rendering="geometricPrecision" cx="134.6" cy="687.5" r="2.8" fill="#00ff00"/>
<circle shape-rendering="geometricPrecision" cx="837.7" cy="687.5" r="3.6" fill="#00ff00"/>
<circle shape-rendering="geometricPrecision" cx="825.8" cy="687.5" r="2.8" fill="#00ff00"/>
<circle shape-rendering="geometricPrecision" cx="772.5" cy="49.8" r="3.6" fill="#00ff00"/>
<circle shape-rendering="geometricPrecision" cx="772.5" cy="61.5" r="2.8" fill="#00ff00"/>
<circle shape-rendering="geometricPrecision" cx="772.5" cy="765.5" r="3.6" fill="#00ff00"/>
<circle shape-rendering="geometricPrecision" cx="772.5" cy="753.5" r="2.8" fill="#00ff00"/>
<circle shape-rendering="geometricPrecision" cx="123" cy="700.5" r="3.6" fill="#00ff00"/>
<circle shape-rendering="geometricPrecision" cx="134.6" cy="700.5" r="2.8" fill="#00ff00"/>
<circle shape-rendering="geometricPrecision" cx="837.7" cy="700.5" r="3.6" fill="#00ff00"/>
<circle shape-rendering="geometricPrecision" cx="825.8" cy="700.5" r="2.8" fill="#00ff00"/>
<circle shape-rendering="geometricPrecision" cx="785.5" cy="49.8" r="3.6" fill="#00ff00"/>
<circle shape-rendering="geometricPrecision" cx="785.5" cy="61.5" r="2.8" fill="#00ff00"/>
<circle shape-rendering="geometricPrecision" cx="785.5" cy="765.5" r="3.6" fill="#00ff00"/>
<circle shape-rendering="geometricPrecision" cx="785.5" cy="753.5" r="2.8" fill="#00ff00"/>
<circle shape-rendering="geometricPrecision" cx="123" cy="713.5" r="3.6" fill="#00ff00"/>
<circle shape-rendering="geometricPrecision" cx="134.6" cy="713.5" r="2.8" fill="#00ff00"/>
<circle shape-rendering="geometricPrecision" cx="837.7" cy="713.5" r="3.6" fill="#00ff00"/>
<circle shape-rendering="geometricPrecision" cx="825.8" cy="713.5" r="2.8" fill="#00ff00"/>
<circle shape-rendering="geometricPrecision" cx="798.5" cy="49.8" r="3.6" fill="#00ff00"/>
<circle shape-rendering="geometricPrecision" cx="798.5" cy="61.5" r="2.8" fill="#00ff00"/>
<circle shape-rendering="geometricPrecision" cx="798.5" cy="765.5" r="3.6" fill="#00ff00"/>
<circle shape-rendering="geometricPrecision" cx="798.5" cy="753.5" r="2.8" fill="#00ff00"/>
<circle shape-rendering="geometricPrecision" cx="123" cy="726.5" r="3.6" fill="#00ff00"/>
<circle shape-rendering="geometricPrecision" cx="134.6" cy="726.5" r="2.8" fill="#00ff00"/>
<circle shape-rendering="geometricPrecision" cx="837.7" cy="726.5" r="3.6" fill="#00ff00"/>
<circle shape-rendering="geometricPrecision" cx="825.8" cy="726.5" r="2.8" fill="#00ff00"/>
<circle shape-rendering="geometricPrecision" cx="145.8" cy="73.2" r="7.6" fill="#00ff00"/>
<circle shape-rendering="geometricPrecision" cx="814.5" cy="741.8" r="7.6" fill="#00ff00"/>
<g fill="none" stroke="#008000" stroke-width="2.5" stroke-linecap="round" stroke-linejoin="round" shape-rendering="geometricPrecision">
<path d="M123.7 4V74"/>
<path d="M838.3 4V86"/>
<path d="M41 50.4H146"/>
<path d="M41 765.4H146"/>
<path d="M157 20.5H419.5M542 20.5H805"/>
<path d="M124.5 20.5L157 11.5V29.5Z"/>
<path d="M837.5 20.5L805 11.5V29.5Z"/>
<path d="M57.7 83V386M57.7 430V732.5"/>
<path d="M57.7 51.5L48.3 83H67.1Z"/>
<path d="M57.7 764.5L48.3 732.5H67.1Z"/>
</g>
<path d="M438.7 11.9 L430.1 11.9 L429.1 21.5 C430.6 19.8 432.3 19.4 434 19.4 C437.4 19.4 439.6 22.1 439.6 26.4 C439.6 30.6 437.4 33.2 433.8 33.2 C431.2 33.2 429.3 31.9 428.4 29.8M456.2 11.9 L447.6 11.9 L446.6 21.5 C448.1 19.8 449.8 19.4 451.5 19.4 C454.9 19.4 457.1 22.1 457.1 26.4 C457.1 30.6 454.9 33.2 451.3 33.2 C448.7 33.2 446.8 31.9 445.9 29.8M464.7 32.6 L464.7 33.2M478 11.9 C474.3 11.9 472.4 15.7 472.4 22.6 C472.4 29.4 474.3 33.2 478 33.2 C481.7 33.2 483.6 29.4 483.6 22.6 C483.6 15.7 481.7 11.9 478 11.9 ZM490.1 19.1 L490.1 33.2 M490.1 23 C491.2 20.4 492.7 19.1 494.4 19.1 C497 19.1 498.1 20.8 498.1 23.8 L498.1 33.2 M498.1 23 C499.3 20.4 500.7 19.1 502.5 19.1 C505.1 19.1 506.2 20.8 506.2 23.8 L506.2 33.2M512.9 19.1 L512.9 33.2 M512.9 23 C514.1 20.4 515.6 19.1 517.4 19.1 C520.1 19.1 521.2 20.8 521.2 23.8 L521.2 33.2 M521.2 23 C522.4 20.4 523.9 19.1 525.8 19.1 C528.4 19.1 529.6 20.8 529.6 23.8 L529.6 33.2" fill="none" stroke="#008000" stroke-width="2.8" stroke-linecap="round" stroke-linejoin="round" shape-rendering="geometricPrecision"/>
<path d="M15.9 398.7 L7.3 398.7 L6.3 408.3 C7.8 406.6 9.5 406.2 11.2 406.2 C14.6 406.2 16.8 408.9 16.8 413.2 C16.8 417.4 14.6 420 11 420 C8.4 420 6.5 418.7 5.6 416.6M33.4 398.7 L24.8 398.7 L23.8 408.3 C25.3 406.6 27 406.2 28.7 406.2 C32.1 406.2 34.3 408.9 34.3 413.2 C34.3 417.4 32.1 420 28.5 420 C25.9 420 24 418.7 23.1 416.6M41.9 419.4 L41.9 420M55.2 398.7 C51.5 398.7 49.6 402.5 49.6 409.4 C49.6 416.2 51.5 420 55.2 420 C58.9 420 60.8 416.2 60.8 409.4 C60.8 402.5 58.9 398.7 55.2 398.7 ZM67.3 405.9 L67.3 420 M67.3 409.8 C68.4 407.2 69.9 405.9 71.6 405.9 C74.2 405.9 75.4 407.6 75.4 410.6 L75.4 420 M75.4 409.8 C76.5 407.2 77.9 405.9 79.7 405.9 C82.3 405.9 83.4 407.6 83.4 410.6 L83.4 420M90.1 405.9 L90.1 420 M90.1 409.8 C91.3 407.2 92.8 405.9 94.6 405.9 C97.3 405.9 98.5 407.6 98.5 410.6 L98.5 420 M98.5 409.8 C99.6 407.2 101.1 405.9 103 405.9 C105.6 405.9 106.8 407.6 106.8 410.6 L106.8 420" fill="none" stroke="#008000" stroke-width="2.8" stroke-linecap="round" stroke-linejoin="round" shape-rendering="geometricPrecision"/>
<path fill="#008000" d="M403 204h2v1h1v3h-1v1h-2v-1h-1v-3h1zM411 204h2v1h1v3h-1v1h-2v-1h-1v-3h1zM420 204h2v1h1v3h-1v1h-2v-1h-1v-3h1zM428 204h2v1h1v3h-1v1h-2v-1h-1v-3h1zM437 204h2v1h1v3h-1v1h-2v-1h-1v-3h1zM445 204h2v1h1v3h-1v1h-2v-1h-1v-3h1zM454 204h2v1h1v3h-1v1h-2v-1h-1v-3h1zM462 204h2v1h1v3h-1v1h-2v-1h-1v-3h1zM471 204h2v1h1v3h-1v1h-2v-1h-1v-3h1zM479 204h2v1h1v3h-1v1h-2v-1h-1v-3h1zM488 204h2v1h1v3h-1v1h-2v-1h-1v-3h1zM496 204h2v1h1v3h-1v1h-2v-1h-1v-3h1zM504 204h2v1h1v3h-1v1h-2v-1h-1v-3h1zM513 204h2v1h1v3h-1v1h-2v-1h-1v-3h1zM521 204h2v1h1v3h-1v1h-2v-1h-1v-3h1zM530 204h2v1h1v3h-1v1h-2v-1h-1v-3h1zM538 204h2v1h1v3h-1v1h-2v-1h-1v-3h1zM547 204h2v1h1v3h-1v1h-2v-1h-1v-3h1zM555 204h2v1h1v3h-1v1h-2v-1h-1v-3h1zM564 204h2v1h1v3h-1v1h-2v-1h-1v-3h1zM572 204h2v1h1v3h-1v1h-2v-1h-1v-3h1zM580 204h2v1h1v3h-1v1h-2v-1h-1v-3h1zM589 204h2v1h1v3h-1v1h-2v-1h-1v-3h1zM597 204h2v1h1v3h-1v1h-2v-1h-1v-3h1zM606 204h2v1h1v3h-1v1h-2v-1h-1v-3h1zM614 204h2v1h1v3h-1v1h-2v-1h-1v-3h1zM623 204h2v1h1v3h-1v1h-2v-1h-1v-3h1zM631 204h2v1h1v3h-1v1h-2v-1h-1v-3h1zM640 204h2v1h1v3h-1v1h-2v-1h-1v-3h1zM648 204h2v1h1v3h-1v1h-2v-1h-1v-3h1zM657 204h2v1h1v3h-1v1h-2v-1h-1v-3h1zM403 213h2v1h1v2h-1v1h-2v-1h-1v-2h1zM411 213h2v1h1v2h-1v1h-2v-1h-1v-2h1zM420 213h2v1h1v2h-1v1h-2v-1h-1v-2h1zM428 213h2v1h1v2h-1v1h-2v-1h-1v-2h1zM437 213h2v1h1v2h-1v1h-2v-1h-1v-2h1zM445 213h2v1h1v2h-1v1h-2v-1h-1v-2h1zM454 213h2v1h1v2h-1v1h-2v-1h-1v-2h1zM462 213h2v1h1v2h-1v1h-2v-1h-1v-2h1zM471 213h2v1h1v2h-1v1h-2v-1h-1v-2h1zM479 213h2v1h1v2h-1v1h-2v-1h-1v-2h1zM488 213h2v1h1v2h-1v1h-2v-1h-1v-2h1zM496 213h2v1h1v2h-1v1h-2v-1h-1v-2h1zM504 213h2v1h1v2h-1v1h-2v-1h-1v-2h1zM513 213h2v1h1v2h-1v1h-2v-1h-1v-2h1zM521 213h2v1h1v2h-1v1h-2v-1h-1v-2h1zM530 213h2v1h1v2h-1v1h-2v-1h-1v-2h1zM538 213h2v1h1v2h-1v1h-2v-1h-1v-2h1zM547 213h2v1h1v2h-1v1h-2v-1h-1v-2h1zM555 213h2v1h1v2h-1v1h-2v-1h-1v-2h1zM564 213h2v1h1v2h-1v1h-2v-1h-1v-2h1zM572 213h2v1h1v2h-1v1h-2v-1h-1v-2h1zM580 213h2v1h1v2h-1v1h-2v-1h-1v-2h1zM589 213h2v1h1v2h-1v1h-2v-1h-1v-2h1zM597 213h2v1h1v2h-1v1h-2v-1h-1v-2h1zM606 213h2v1h1v2h-1v1h-2v-1h-1v-2h1zM614 213h2v1h1v2h-1v1h-2v-1h-1v-2h1zM623 213h2v1h1v2h-1v1h-2v-1h-1v-2h1zM631 213h2v1h1v2h-1v1h-2v-1h-1v-2h1zM640 213h2v1h1v2h-1v1h-2v-1h-1v-2h1zM648 213h2v1h1v2h-1v1h-2v-1h-1v-2h1zM657 213h2v1h1v2h-1v1h-2v-1h-1v-2h1zM403 221h2v1h1v2h-1v1h-2v-1h-1v-2h1zM411 221h2v1h1v2h-1v1h-2v-1h-1v-2h1zM420 221h2v1h1v2h-1v1h-2v-1h-1v-2h1zM428 221h2v1h1v2h-1v1h-2v-1h-1v-2h1zM437 221h2v1h1v2h-1v1h-2v-1h-1v-2h1zM445 221h2v1h1v2h-1v1h-2v-1h-1v-2h1zM462 221h2v1h1v2h-1v1h-2v-1h-1v-2h1zM471 221h2v1h1v2h-1v1h-2v-1h-1v-2h1zM488 221h2v1h1v2h-1v1h-2v-1h-1v-2h1zM496 221h2v1h1v2h-1v1h-2v-1h-1v-2h1zM513 221h2v1h1v2h-1v1h-2v-1h-1v-2h1zM521 221h2v1h1v2h-1v1h-2v-1h-1v-2h1zM538 221h2v1h1v2h-1v1h-2v-1h-1v-2h1zM547 221h2v1h1v2h-1v1h-2v-1h-1v-2h1zM564 221h2v1h1v2h-1v1h-2v-1h-1v-2h1zM572 221h2v1h1v2h-1v1h-2v-1h-1v-2h1zM589 221h2v1h1v2h-1v1h-2v-1h-1v-2h1zM597 221h2v1h1v2h-1v1h-2v-1h-1v-2h1zM614 221h2v1h1v2h-1v1h-2v-1h-1v-2h1zM623 221h2v1h1v2h-1v1h-2v-1h-1v-2h1zM631 221h2v1h1v2h-1v1h-2v-1h-1v-2h1zM640 221h2v1h1v2h-1v1h-2v-1h-1v-2h1zM648 221h2v1h1v2h-1v1h-2v-1h-1v-2h1zM657 221h2v1h1v2h-1v1h-2v-1h-1v-2h1zM403 229h2v1h1v3h-1v1h-2v-1h-1v-3h1zM411 229h2v1h1v3h-1v1h-2v-1h-1v-3h1zM420 229h2v1h1v3h-1v1h-2v-1h-1v-3h1zM437 229h2v1h1v3h-1v1h-2v-1h-1v-3h1zM445 229h2v1h1v3h-1v1h-2v-1h-1v-3h1zM462 229h2v1h1v3h-1v1h-2v-1h-1v-3h1zM471 229h2v1h1v3h-1v1h-2v-1h-1v-3h1zM488 229h2v1h1v3h-1v1h-2v-1h-1v-3h1zM496 229h2v1h1v3h-1v1h-2v-1h-1v-3h1zM513 229h2v1h1v3h-1v1h-2v-1h-1v-3h1zM521 229h2v1h1v3h-1v1h-2v-1h-1v-3h1zM538 229h2v1h1v3h-1v1h-2v-1h-1v-3h1zM547 229h2v1h1v3h-1v1h-2v-1h-1v-3h1zM564 229h2v1h1v3h-1v1h-2v-1h-1v-3h1zM572 229h2v1h1v3h-1v1h-2v-1h-1v-3h1zM589 229h2v1h1v3h-1v1h-2v-1h-1v-3h1zM597 229h2v1h1v3h-1v1h-2v-1h-1v-3h1zM614 229h2v1h1v3h-1v1h-2v-1h-1v-3h1zM623 229h2v1h1v3h-1v1h-2v-1h-1v-3h1zM640 229h2v1h1v3h-1v1h-2v-1h-1v-3h1zM648 229h2v1h1v3h-1v1h-2v-1h-1v-3h1zM657 229h2v1h1v3h-1v1h-2v-1h-1v-3h1zM403 238h2v1h1v2h-1v1h-2v-1h-1v-2h1zM411 238h2v1h1v2h-1v1h-2v-1h-1v-2h1zM420 238h2v1h1v2h-1v1h-2v-1h-1v-2h1zM428 238h2v1h1v2h-1v1h-2v-1h-1v-2h1zM445 238h2v1h1v2h-1v1h-2v-1h-1v-2h1zM454 238h2v1h1v2h-1v1h-2v-1h-1v-2h1zM462 238h2v1h1v2h-1v1h-2v-1h-1v-2h1zM471 238h2v1h1v2h-1v1h-2v-1h-1v-2h1zM488 238h2v1h1v2h-1v1h-2v-1h-1v-2h1zM496 238h2v1h1v2h-1v1h-2v-1h-1v-2h1zM513 238h2v1h1v2h-1v1h-2v-1h-1v-2h1zM521 238h2v1h1v2h-1v1h-2v-1h-1v-2h1zM538 238h2v1h1v2h-1v1h-2v-1h-1v-2h1zM547 238h2v1h1v2h-1v1h-2v-1h-1v-2h1zM564 238h2v1h1v2h-1v1h-2v-1h-1v-2h1zM572 238h2v1h1v2h-1v1h-2v-1h-1v-2h1zM589 238h2v1h1v2h-1v1h-2v-1h-1v-2h1zM597 238h2v1h1v2h-1v1h-2v-1h-1v-2h1zM606 238h2v1h1v2h-1v1h-2v-1h-1v-2h1zM614 238h2v1h1v2h-1v1h-2v-1h-1v-2h1zM631 238h2v1h1v2h-1v1h-2v-1h-1v-2h1zM640 238h2v1h1v2h-1v1h-2v-1h-1v-2h1zM648 238h2v1h1v2h-1v1h-2v-1h-1v-2h1zM657 238h2v1h1v2h-1v1h-2v-1h-1v-2h1zM403 246h2v1h1v2h-1v1h-2v-1h-1v-2h1zM411 246h2v1h1v2h-1v1h-2v-1h-1v-2h1zM420 246h2v1h1v2h-1v1h-2v-1h-1v-2h1zM428 246h2v1h1v2h-1v1h-2v-1h-1v-2h1zM437 246h2v1h1v2h-1v1h-2v-1h-1v-2h1zM454 246h2v1h1v2h-1v1h-2v-1h-1v-2h1zM462 246h2v1h1v2h-1v1h-2v-1h-1v-2h1zM471 246h2v1h1v2h-1v1h-2v-1h-1v-2h1zM488 246h2v1h1v2h-1v1h-2v-1h-1v-2h1zM496 246h2v1h1v2h-1v1h-2v-1h-1v-2h1zM513 246h2v1h1v2h-1v1h-2v-1h-1v-2h1zM521 246h2v1h1v2h-1v1h-2v-1h-1v-2h1zM538 246h2v1h1v2h-1v1h-2v-1h-1v-2h1zM547 246h2v1h1v2h-1v1h-2v-1h-1v-2h1zM564 246h2v1h1v2h-1v1h-2v-1h-1v-2h1zM572 246h2v1h1v2h-1v1h-2v-1h-1v-2h1zM589 246h2v1h1v2h-1v1h-2v-1h-1v-2h1zM597 246h2v1h1v2h-1v1h-2v-1h-1v-2h1zM606 246h2v1h1v2h-1v1h-2v-1h-1v-2h1zM623 246h2v1h1v2h-1v1h-2v-1h-1v-2h1zM631 246h2v1h1v2h-1v1h-2v-1h-1v-2h1zM640 246h2v1h1v2h-1v1h-2v-1h-1v-2h1zM648 246h2v1h1v2h-1v1h-2v-1h-1v-2h1zM657 246h2v1h1v2h-1v1h-2v-1h-1v-2h1zM403 254h2v1h1v3h-1v1h-2v-1h-1v-3h1zM411 254h2v1h1v3h-1v1h-2v-1h-1v-3h1zM437 254h2v1h1v3h-1v1h-2v-1h-1v-3h1zM445 254h2v1h1v3h-1v1h-2v-1h-1v-3h1zM462 254h2v1h1v3h-1v1h-2v-1h-1v-3h1zM471 254h2v1h1v3h-1v1h-2v-1h-1v-3h1zM488 254h2v1h1v3h-1v1h-2v-1h-1v-3h1zM496 254h2v1h1v3h-1v1h-2v-1h-1v-3h1zM513 254h2v1h1v3h-1v1h-2v-1h-1v-3h1zM521 254h2v1h1v3h-1v1h-2v-1h-1v-3h1zM538 254h2v1h1v3h-1v1h-2v-1h-1v-3h1zM547 254h2v1h1v3h-1v1h-2v-1h-1v-3h1zM564 254h2v1h1v3h-1v1h-2v-1h-1v-3h1zM572 254h2v1h1v3h-1v1h-2v-1h-1v-3h1zM589 254h2v1h1v3h-1v1h-2v-1h-1v-3h1zM597 254h2v1h1v3h-1v1h-2v-1h-1v-3h1zM614 254h2v1h1v3h-1v1h-2v-1h-1v-3h1zM623 254h2v1h1v3h-1v1h-2v-1h-1v-3h1zM648 254h2v1h1v3h-1v1h-2v-1h-1v-3h1zM657 254h2v1h1v3h-1v1h-2v-1h-1v-3h1zM403 263h2v1h1v2h-1v1h-2v-1h-1v-2h1zM411 263h2v1h1v2h-1v1h-2v-1h-1v-2h1zM420 263h2v1h1v2h-1v1h-2v-1h-1v-2h1zM428 263h2v1h1v2h-1v1h-2v-1h-1v-2h1zM437 263h2v1h1v2h-1v1h-2v-1h-1v-2h1zM445 263h2v1h1v2h-1v1h-2v-1h-1v-2h1zM454 263h2v1h1v2h-1v1h-2v-1h-1v-2h1zM462 263h2v1h1v2h-1v1h-2v-1h-1v-2h1zM471 263h2v1h1v2h-1v1h-2v-1h-1v-2h1zM479 263h2v1h1v2h-1v1h-2v-1h-1v-2h1zM488 263h2v1h1v2h-1v1h-2v-1h-1v-2h1zM496 263h2v1h1v2h-1v1h-2v-1h-1v-2h1zM504 263h2v1h1v2h-1v1h-2v-1h-1v-2h1zM513 263h2v1h1v2h-1v1h-2v-1h-1v-2h1zM521 263h2v1h1v2h-1v1h-2v-1h-1v-2h1zM530 263h2v1h1v2h-1v1h-2v-1h-1v-2h1zM538 263h2v1h1v2h-1v1h-2v-1h-1v-2h1zM547 263h2v1h1v2h-1v1h-2v-1h-1v-2h1zM555 263h2v1h1v2h-1v1h-2v-1h-1v-2h1zM564 263h2v1h1v2h-1v1h-2v-1h-1v-2h1zM572 263h2v1h1v2h-1v1h-2v-1h-1v-2h1zM580 263h2v1h1v2h-1v1h-2v-1h-1v-2h1zM589 263h2v1h1v2h-1v1h-2v-1h-1v-2h1zM597 263h2v1h1v2h-1v1h-2v-1h-1v-2h1zM606 263h2v1h1v2h-1v1h-2v-1h-1v-2h1zM614 263h2v1h1v2h-1v1h-2v-1h-1v-2h1zM623 263h2v1h1v2h-1v1h-2v-1h-1v-2h1zM631 263h2v1h1v2h-1v1h-2v-1h-1v-2h1zM640 263h2v1h1v2h-1v1h-2v-1h-1v-2h1zM648 263h2v1h1v2h-1v1h-2v-1h-1v-2h1zM657 263h2v1h1v2h-1v1h-2v-1h-1v-2h1zM403 272h2v1h1v2h-1v1h-2v-1h-1v-2h1zM411 272h2v1h1v2h-1v1h-2v-1h-1v-2h1zM420 272h2v1h1v2h-1v1h-2v-1h-1v-2h1zM428 272h2v1h1v2h-1v1h-2v-1h-1v-2h1zM437 272h2v1h1v2h-1v1h-2v-1h-1v-2h1zM445 272h2v1h1v2h-1v1h-2v-1h-1v-2h1zM454 272h2v1h1v2h-1v1h-2v-1h-1v-2h1zM462 272h2v1h1v2h-1v1h-2v-1h-1v-2h1zM471 272h2v1h1v2h-1v1h-2v-1h-1v-2h1zM479 272h2v1h1v2h-1v1h-2v-1h-1v-2h1zM488 272h2v1h1v2h-1v1h-2v-1h-1v-2h1zM496 272h2v1h1v2h-1v1h-2v-1h-1v-2h1zM504 272h2v1h1v2h-1v1h-2v-1h-1v-2h1zM513 272h2v1h1v2h-1v1h-2v-1h-1v-2h1zM521 272h2v1h1v2h-1v1h-2v-1h-1v-2h1zM530 272h2v1h1v2h-1v1h-2v-1h-1v-2h1zM538 272h2v1h1v2h-1v1h-2v-1h-1v-2h1zM547 272h2v1h1v2h-1v1h-2v-1h-1v-2h1zM555 272h2v1h1v2h-1v1h-2v-1h-1v-2h1zM564 272h2v1h1v2h-1v1h-2v-1h-1v-2h1zM572 272h2v1h1v2h-1v1h-2v-1h-1v-2h1zM580 272h2v1h1v2h-1v1h-2v-1h-1v-2h1zM589 272h2v1h1v2h-1v1h-2v-1h-1v-2h1zM597 272h2v1h1v2h-1v1h-2v-1h-1v-2h1zM606 272h2v1h1v2h-1v1h-2v-1h-1v-2h1zM614 272h2v1h1v2h-1v1h-2v-1h-1v-2h1zM623 272h2v1h1v2h-1v1h-2v-1h-1v-2h1zM631 272h2v1h1v2h-1v1h-2v-1h-1v-2h1zM640 272h2v1h1v2h-1v1h-2v-1h-1v-2h1zM648 272h2v1h1v2h-1v1h-2v-1h-1v-2h1zM657 272h2v1h1v2h-1v1h-2v-1h-1v-2h1zM403 280h2v1h1v3h-1v1h-2v-1h-1v-3h1zM411 280h2v1h1v3h-1v1h-2v-1h-1v-3h1zM462 280h2v1h1v3h-1v1h-2v-1h-1v-3h1zM471 280h2v1h1v3h-1v1h-2v-1h-1v-3h1zM479 280h2v1h1v3h-1v1h-2v-1h-1v-3h1zM488 280h2v1h1v3h-1v1h-2v-1h-1v-3h1zM496 280h2v1h1v3h-1v1h-2v-1h-1v-3h1zM504 280h2v1h1v3h-1v1h-2v-1h-1v-3h1zM513 280h2v1h1v3h-1v1h-2v-1h-1v-3h1zM521 280h2v1h1v3h-1v1h-2v-1h-1v-3h1zM530 280h2v1h1v3h-1v1h-2v-1h-1v-3h1zM538 280h2v1h1v3h-1v1h-2v-1h-1v-3h1zM547 280h2v1h1v3h-1v1h-2v-1h-1v-3h1zM555 280h2v1h1v3h-1v1h-2v-1h-1v-3h1zM564 280h2v1h1v3h-1v1h-2v-1h-1v-3h1zM572 280h2v1h1v3h-1v1h-2v-1h-1v-3h1zM580 280h2v1h1v3h-1v1h-2v-1h-1v-3h1zM589 280h2v1h1v3h-1v1h-2v-1h-1v-3h1zM597 280h2v1h1v3h-1v1h-2v-1h-1v-3h1zM648 280h2v1h1v3h-1v1h-2v-1h-1v-3h1zM657 280h2v1h1v3h-1v1h-2v-1h-1v-3h1zM403 289h2v1h1v2h-1v1h-2v-1h-1v-2h1zM411 289h2v1h1v2h-1v1h-2v-1h-1v-2h1zM420 289h2v1h1v2h-1v1h-2v-1h-1v-2h1zM428 289h2v1h1v2h-1v1h-2v-1h-1v-2h1zM437 289h2v1h1v2h-1v1h-2v-1h-1v-2h1zM445 289h2v1h1v2h-1v1h-2v-1h-1v-2h1zM454 289h2v1h1v2h-1v1h-2v-1h-1v-2h1zM462 289h2v1h1v2h-1v1h-2v-1h-1v-2h1zM471 289h2v1h1v2h-1v1h-2v-1h-1v-2h1zM479 289h2v1h1v2h-1v1h-2v-1h-1v-2h1zM488 289h2v1h1v2h-1v1h-2v-1h-1v-2h1zM496 289h2v1h1v2h-1v1h-2v-1h-1v-2h1zM504 289h2v1h1v2h-1v1h-2v-1h-1v-2h1zM513 289h2v1h1v2h-1v1h-2v-1h-1v-2h1zM521 289h2v1h1v2h-1v1h-2v-1h-1v-2h1zM530 289h2v1h1v2h-1v1h-2v-1h-1v-2h1zM538 289h2v1h1v2h-1v1h-2v-1h-1v-2h1zM547 289h2v1h1v2h-1v1h-2v-1h-1v-2h1zM555 289h2v1h1v2h-1v1h-2v-1h-1v-2h1zM564 289h2v1h1v2h-1v1h-2v-1h-1v-2h1zM572 289h2v1h1v2h-1v1h-2v-1h-1v-2h1zM580 289h2v1h1v2h-1v1h-2v-1h-1v-2h1zM589 289h2v1h1v2h-1v1h-2v-1h-1v-2h1zM597 289h2v1h1v2h-1v1h-2v-1h-1v-2h1zM606 289h2v1h1v2h-1v1h-2v-1h-1v-2h1zM614 289h2v1h1v2h-1v1h-2v-1h-1v-2h1zM623 289h2v1h1v2h-1v1h-2v-1h-1v-2h1zM631 289h2v1h1v2h-1v1h-2v-1h-1v-2h1zM640 289h2v1h1v2h-1v1h-2v-1h-1v-2h1zM648 289h2v1h1v2h-1v1h-2v-1h-1v-2h1zM657 289h2v1h1v2h-1v1h-2v-1h-1v-2h1zM403 297h2v1h1v2h-1v1h-2v-1h-1v-2h1zM411 297h2v1h1v2h-1v1h-2v-1h-1v-2h1zM420 297h2v1h1v2h-1v1h-2v-1h-1v-2h1zM428 297h2v1h1v2h-1v1h-2v-1h-1v-2h1zM437 297h2v1h1v2h-1v1h-2v-1h-1v-2h1zM445 297h2v1h1v2h-1v1h-2v-1h-1v-2h1zM454 297h2v1h1v2h-1v1h-2v-1h-1v-2h1zM462 297h2v1h1v2h-1v1h-2v-1h-1v-2h1zM471 297h2v1h1v2h-1v1h-2v-1h-1v-2h1zM479 297h2v1h1v2h-1v1h-2v-1h-1v-2h1zM488 297h2v1h1v2h-1v1h-2v-1h-1v-2h1zM496 297h2v1h1v2h-1v1h-2v-1h-1v-2h1zM504 297h2v1h1v2h-1v1h-2v-1h-1v-2h1zM513 297h2v1h1v2h-1v1h-2v-1h-1v-2h1zM521 297h2v1h1v2h-1v1h-2v-1h-1v-2h1zM530 297h2v1h1v2h-1v1h-2v-1h-1v-2h1zM538 297h2v1h1v2h-1v1h-2v-1h-1v-2h1zM547 297h2v1h1v2h-1v1h-2v-1h-1v-2h1zM555 297h2v1h1v2h-1v1h-2v-1h-1v-2h1zM564 297h2v1h1v2h-1v1h-2v-1h-1v-2h1zM572 297h2v1h1v2h-1v1h-2v-1h-1v-2h1zM580 297h2v1h1v2h-1v1h-2v-1h-1v-2h1zM589 297h2v1h1v2h-1v1h-2v-1h-1v-2h1zM597 297h2v1h1v2h-1v1h-2v-1h-1v-2h1zM606 297h2v1h1v2h-1v1h-2v-1h-1v-2h1zM614 297h2v1h1v2h-1v1h-2v-1h-1v-2h1zM623 297h2v1h1v2h-1v1h-2v-1h-1v-2h1zM631 297h2v1h1v2h-1v1h-2v-1h-1v-2h1zM640 297h2v1h1v2h-1v1h-2v-1h-1v-2h1zM648 297h2v1h1v2h-1v1h-2v-1h-1v-2h1zM657 297h2v1h1v2h-1v1h-2v-1h-1v-2h1zM403 305h2v1h1v3h-1v1h-2v-1h-1v-3h1zM411 305h2v1h1v3h-1v1h-2v-1h-1v-3h1zM462 305h2v1h1v3h-1v1h-2v-1h-1v-3h1zM471 305h2v1h1v3h-1v1h-2v-1h-1v-3h1zM479 305h2v1h1v3h-1v1h-2v-1h-1v-3h1zM488 305h2v1h1v3h-1v1h-2v-1h-1v-3h1zM496 305h2v1h1v3h-1v1h-2v-1h-1v-3h1zM504 305h2v1h1v3h-1v1h-2v-1h-1v-3h1zM513 305h2v1h1v3h-1v1h-2v-1h-1v-3h1zM521 305h2v1h1v3h-1v1h-2v-1h-1v-3h1zM530 305h2v1h1v3h-1v1h-2v-1h-1v-3h1zM538 305h2v1h1v3h-1v1h-2v-1h-1v-3h1zM547 305h2v1h1v3h-1v1h-2v-1h-1v-3h1zM555 305h2v1h1v3h-1v1h-2v-1h-1v-3h1zM564 305h2v1h1v3h-1v1h-2v-1h-1v-3h1zM572 305h2v1h1v3h-1v1h-2v-1h-1v-3h1zM580 305h2v1h1v3h-1v1h-2v-1h-1v-3h1zM589 305h2v1h1v3h-1v1h-2v-1h-1v-3h1zM597 305h2v1h1v3h-1v1h-2v-1h-1v-3h1zM648 305h2v1h1v3h-1v1h-2v-1h-1v-3h1zM657 305h2v1h1v3h-1v1h-2v-1h-1v-3h1zM403 314h2v1h1v2h-1v1h-2v-1h-1v-2h1zM411 314h2v1h1v2h-1v1h-2v-1h-1v-2h1zM420 314h2v1h1v2h-1v1h-2v-1h-1v-2h1zM428 314h2v1h1v2h-1v1h-2v-1h-1v-2h1zM437 314h2v1h1v2h-1v1h-2v-1h-1v-2h1zM445 314h2v1h1v2h-1v1h-2v-1h-1v-2h1zM454 314h2v1h1v2h-1v1h-2v-1h-1v-2h1zM462 314h2v1h1v2h-1v1h-2v-1h-1v-2h1zM471 314h2v1h1v2h-1v1h-2v-1h-1v-2h1zM479 314h2v1h1v2h-1v1h-2v-1h-1v-2h1zM488 314h2v1h1v2h-1v1h-2v-1h-1v-2h1zM496 314h2v1h1v2h-1v1h-2v-1h-1v-2h1zM504 314h2v1h1v2h-1v1h-2v-1h-1v-2h1zM513 314h2v1h1v2h-1v1h-2v-1h-1v-2h1zM521 314h2v1h1v2h-1v1h-2v-1h-1v-2h1zM530 314h2v1h1v2h-1v1h-2v-1h-1v-2h1zM538 314h2v1h1v2h-1v1h-2v-1h-1v-2h1zM547 314h2v1h1v2h-1v1h-2v-1h-1v-2h1zM555 314h2v1h1v2h-1v1h-2v-1h-1v-2h1zM564 314h2v1h1v2h-1v1h-2v-1h-1v-2h1zM572 314h2v1h1v2h-1v1h-2v-1h-1v-2h1zM580 314h2v1h1v2h-1v1h-2v-1h-1v-2h1zM589 314h2v1h1v2h-1v1h-2v-1h-1v-2h1zM597 314h2v1h1v2h-1v1h-2v-1h-1v-2h1zM606 314h2v1h1v2h-1v1h-2v-1h-1v-2h1zM614 314h2v1h1v2h-1v1h-2v-1h-1v-2h1zM623 314h2v1h1v2h-1v1h-2v-1h-1v-2h1zM631 314h2v1h1v2h-1v1h-2v-1h-1v-2h1zM640 314h2v1h1v2h-1v1h-2v-1h-1v-2h1zM648 314h2v1h1v2h-1v1h-2v-1h-1v-2h1zM657 314h2v1h1v2h-1v1h-2v-1h-1v-2h1zM403 323h2v1h1v2h-1v1h-2v-1h-1v-2h1zM411 323h2v1h1v2h-1v1h-2v-1h-1v-2h1zM420 323h2v1h1v2h-1v1h-2v-1h-1v-2h1zM428 323h2v1h1v2h-1v1h-2v-1h-1v-2h1zM437 323h2v1h1v2h-1v1h-2v-1h-1v-2h1zM445 323h2v1h1v2h-1v1h-2v-1h-1v-2h1zM454 323h2v1h1v2h-1v1h-2v-1h-1v-2h1zM462 323h2v1h1v2h-1v1h-2v-1h-1v-2h1zM471 323h2v1h1v2h-1v1h-2v-1h-1v-2h1zM479 323h2v1h1v2h-1v1h-2v-1h-1v-2h1zM488 323h2v1h1v2h-1v1h-2v-1h-1v-2h1zM496 323h2v1h1v2h-1v1h-2v-1h-1v-2h1zM504 323h2v1h1v2h-1v1h-2v-1h-1v-2h1zM513 323h2v1h1v2h-1v1h-2v-1h-1v-2h1zM521 323h2v1h1v2h-1v1h-2v-1h-1v-2h1zM530 323h2v1h1v2h-1v1h-2v-1h-1v-2h1zM538 323h2v1h1v2h-1v1h-2v-1h-1v-2h1zM547 323h2v1h1v2h-1v1h-2v-1h-1v-2h1zM555 323h2v1h1v2h-1v1h-2v-1h-1v-2h1zM564 323h2v1h1v2h-1v1h-2v-1h-1v-2h1zM572 323h2v1h1v2h-1v1h-2v-1h-1v-2h1zM580 323h2v1h1v2h-1v1h-2v-1h-1v-2h1zM589 323h2v1h1v2h-1v1h-2v-1h-1v-2h1zM597 323h2v1h1v2h-1v1h-2v-1h-1v-2h1zM606 323h2v1h1v2h-1v1h-2v-1h-1v-2h1zM614 323h2v1h1v2h-1v1h-2v-1h-1v-2h1zM623 323h2v1h1v2h-1v1h-2v-1h-1v-2h1zM631 323h2v1h1v2h-1v1h-2v-1h-1v-2h1zM640 323h2v1h1v2h-1v1h-2v-1h-1v-2h1zM648 323h2v1h1v2h-1v1h-2v-1h-1v-2h1zM657 323h2v1h1v2h-1v1h-2v-1h-1v-2h1zM403 330h2v1h1v3h-1v1h-2v-1h-1v-3h1zM411 330h2v1h1v3h-1v1h-2v-1h-1v-3h1zM462 330h2v1h1v3h-1v1h-2v-1h-1v-3h1zM471 330h2v1h1v3h-1v1h-2v-1h-1v-3h1zM479 330h2v1h1v3h-1v1h-2v-1h-1v-3h1zM488 330h2v1h1v3h-1v1h-2v-1h-1v-3h1zM496 330h2v1h1v3h-1v1h-2v-1h-1v-3h1zM504 330h2v1h1v3h-1v1h-2v-1h-1v-3h1zM513 330h2v1h1v3h-1v1h-2v-1h-1v-3h1zM521 330h2v1h1v3h-1v1h-2v-1h-1v-3h1zM530 330h2v1h1v3h-1v1h-2v-1h-1v-3h1zM538 330h2v1h1v3h-1v1h-2v-1h-1v-3h1zM564 330h2v1h1v3h-1v1h-2v-1h-1v-3h1zM572 330h2v1h1v3h-1v1h-2v-1h-1v-3h1zM580 330h2v1h1v3h-1v1h-2v-1h-1v-3h1zM589 330h2v1h1v3h-1v1h-2v-1h-1v-3h1zM597 330h2v1h1v3h-1v1h-2v-1h-1v-3h1zM648 330h2v1h1v3h-1v1h-2v-1h-1v-3h1zM657 330h2v1h1v3h-1v1h-2v-1h-1v-3h1zM403 339h2v1h1v2h-1v1h-2v-1h-1v-2h1zM411 339h2v1h1v2h-1v1h-2v-1h-1v-2h1zM420 339h2v1h1v2h-1v1h-2v-1h-1v-2h1zM428 339h2v1h1v2h-1v1h-2v-1h-1v-2h1zM437 339h2v1h1v2h-1v1h-2v-1h-1v-2h1zM445 339h2v1h1v2h-1v1h-2v-1h-1v-2h1zM454 339h2v1h1v2h-1v1h-2v-1h-1v-2h1zM462 339h2v1h1v2h-1v1h-2v-1h-1v-2h1zM471 339h2v1h1v2h-1v1h-2v-1h-1v-2h1zM479 339h2v1h1v2h-1v1h-2v-1h-1v-2h1zM488 339h2v1h1v2h-1v1h-2v-1h-1v-2h1zM496 339h2v1h1v2h-1v1h-2v-1h-1v-2h1zM504 339h2v1h1v2h-1v1h-2v-1h-1v-2h1zM513 339h2v1h1v2h-1v1h-2v-1h-1v-2h1zM521 339h2v1h1v2h-1v1h-2v-1h-1v-2h1zM530 339h2v1h1v2h-1v1h-2v-1h-1v-2h1zM538 339h2v1h1v2h-1v1h-2v-1h-1v-2h1zM564 339h2v1h1v2h-1v1h-2v-1h-1v-2h1zM572 339h2v1h1v2h-1v1h-2v-1h-1v-2h1zM580 339h2v1h1v2h-1v1h-2v-1h-1v-2h1zM589 339h2v1h1v2h-1v1h-2v-1h-1v-2h1zM597 339h2v1h1v2h-1v1h-2v-1h-1v-2h1zM606 339h2v1h1v2h-1v1h-2v-1h-1v-2h1zM614 339h2v1h1v2h-1v1h-2v-1h-1v-2h1zM623 339h2v1h1v2h-1v1h-2v-1h-1v-2h1zM631 339h2v1h1v2h-1v1h-2v-1h-1v-2h1zM640 339h2v1h1v2h-1v1h-2v-1h-1v-2h1zM648 339h2v1h1v2h-1v1h-2v-1h-1v-2h1zM657 339h2v1h1v2h-1v1h-2v-1h-1v-2h1zM403 348h2v1h1v2h-1v1h-2v-1h-1v-2h1zM411 348h2v1h1v2h-1v1h-2v-1h-1v-2h1zM420 348h2v1h1v2h-1v1h-2v-1h-1v-2h1zM428 348h2v1h1v2h-1v1h-2v-1h-1v-2h1zM437 348h2v1h1v2h-1v1h-2v-1h-1v-2h1zM445 348h2v1h1v2h-1v1h-2v-1h-1v-2h1zM454 348h2v1h1v2h-1v1h-2v-1h-1v-2h1zM462 348h2v1h1v2h-1v1h-2v-1h-1v-2h1zM471 348h2v1h1v2h-1v1h-2v-1h-1v-2h1zM479 348h2v1h1v2h-1v1h-2v-1h-1v-2h1zM488 348h2v1h1v2h-1v1h-2v-1h-1v-2h1zM496 348h2v1h1v2h-1v1h-2v-1h-1v-2h1zM504 348h2v1h1v2h-1v1h-2v-1h-1v-2h1zM513 348h2v1h1v2h-1v1h-2v-1h-1v-2h1zM521 348h2v1h1v2h-1v1h-2v-1h-1v-2h1zM538 348h2v1h1v2h-1v1h-2v-1h-1v-2h1zM564 348h2v1h1v2h-1v1h-2v-1h-1v-2h1zM572 348h2v1h1v2h-1v1h-2v-1h-1v-2h1zM580 348h2v1h1v2h-1v1h-2v-1h-1v-2h1zM589 348h2v1h1v2h-1v1h-2v-1h-1v-2h1zM597 348h2v1h1v2h-1v1h-2v-1h-1v-2h1zM606 348h2v1h1v2h-1v1h-2v-1h-1v-2h1zM614 348h2v1h1v2h-1v1h-2v-1h-1v-2h1zM623 348h2v1h1v2h-1v1h-2v-1h-1v-2h1zM631 348h2v1h1v2h-1v1h-2v-1h-1v-2h1zM640 348h2v1h1v2h-1v1h-2v-1h-1v-2h1zM648 348h2v1h1v2h-1v1h-2v-1h-1v-2h1zM657 348h2v1h1v2h-1v1h-2v-1h-1v-2h1zM403 356h2v1h1v3h-1v1h-2v-1h-1v-3h1zM411 356h2v1h1v3h-1v1h-2v-1h-1v-3h1zM462 356h2v1h1v3h-1v1h-2v-1h-1v-3h1zM471 356h2v1h1v3h-1v1h-2v-1h-1v-3h1zM479 356h2v1h1v3h-1v1h-2v-1h-1v-3h1zM488 356h2v1h1v3h-1v1h-2v-1h-1v-3h1zM496 356h2v1h1v3h-1v1h-2v-1h-1v-3h1zM504 356h2v1h1v3h-1v1h-2v-1h-1v-3h1zM513 356h2v1h1v3h-1v1h-2v-1h-1v-3h1zM555 356h2v1h1v3h-1v1h-2v-1h-1v-3h1zM564 356h2v1h1v3h-1v1h-2v-1h-1v-3h1zM572 356h2v1h1v3h-1v1h-2v-1h-1v-3h1zM580 356h2v1h1v3h-1v1h-2v-1h-1v-3h1zM589 356h2v1h1v3h-1v1h-2v-1h-1v-3h1zM597 356h2v1h1v3h-1v1h-2v-1h-1v-3h1zM648 356h2v1h1v3h-1v1h-2v-1h-1v-3h1zM657 356h2v1h1v3h-1v1h-2v-1h-1v-3h1zM403 365h2v1h1v2h-1v1h-2v-1h-1v-2h1zM411 365h2v1h1v2h-1v1h-2v-1h-1v-2h1zM420 365h2v1h1v2h-1v1h-2v-1h-1v-2h1zM428 365h2v1h1v2h-1v1h-2v-1h-1v-2h1zM437 365h2v1h1v2h-1v1h-2v-1h-1v-2h1zM445 365h2v1h1v2h-1v1h-2v-1h-1v-2h1zM454 365h2v1h1v2h-1v1h-2v-1h-1v-2h1zM462 365h2v1h1v2h-1v1h-2v-1h-1v-2h1zM471 365h2v1h1v2h-1v1h-2v-1h-1v-2h1zM479 365h2v1h1v2h-1v1h-2v-1h-1v-2h1zM488 365h2v1h1v2h-1v1h-2v-1h-1v-2h1zM496 365h2v1h1v2h-1v1h-2v-1h-1v-2h1zM504 365h2v1h1v2h-1v1h-2v-1h-1v-2h1zM513 365h2v1h1v2h-1v1h-2v-1h-1v-2h1zM538 365h2v1h1v2h-1v1h-2v-1h-1v-2h1zM564 365h2v1h1v2h-1v1h-2v-1h-1v-2h1zM572 365h2v1h1v2h-1v1h-2v-1h-1v-2h1zM580 365h2v1h1v2h-1v1h-2v-1h-1v-2h1zM589 365h2v1h1v2h-1v1h-2v-1h-1v-2h1zM597 365h2v1h1v2h-1v1h-2v-1h-1v-2h1zM606 365h2v1h1v2h-1v1h-2v-1h-1v-2h1zM614 365h2v1h1v2h-1v1h-2v-1h-1v-2h1zM623 365h2v1h1v2h-1v1h-2v-1h-1v-2h1zM631 365h2v1h1v2h-1v1h-2v-1h-1v-2h1zM640 365h2v1h1v2h-1v1h-2v-1h-1v-2h1zM648 365h2v1h1v2h-1v1h-2v-1h-1v-2h1zM657 365h2v1h1v2h-1v1h-2v-1h-1v-2h1zM403 373h2v1h1v2h-1v1h-2v-1h-1v-2h1zM411 373h2v1h1v2h-1v1h-2v-1h-1v-2h1zM420 373h2v1h1v2h-1v1h-2v-1h-1v-2h1zM428 373h2v1h1v2h-1v1h-2v-1h-1v-2h1zM437 373h2v1h1v2h-1v1h-2v-1h-1v-2h1zM445 373h2v1h1v2h-1v1h-2v-1h-1v-2h1zM454 373h2v1h1v2h-1v1h-2v-1h-1v-2h1zM462 373h2v1h1v2h-1v1h-2v-1h-1v-2h1zM471 373h2v1h1v2h-1v1h-2v-1h-1v-2h1zM479 373h2v1h1v2h-1v1h-2v-1h-1v-2h1zM488 373h2v1h1v2h-1v1h-2v-1h-1v-2h1zM496 373h2v1h1v2h-1v1h-2v-1h-1v-2h1zM504 373h2v1h1v2h-1v1h-2v-1h-1v-2h1zM513 373h2v1h1v2h-1v1h-2v-1h-1v-2h1zM538 373h2v1h1v2h-1v1h-2v-1h-1v-2h1zM564 373h2v1h1v2h-1v1h-2v-1h-1v-2h1zM572 373h2v1h1v2h-1v1h-2v-1h-1v-2h1zM580 373h2v1h1v2h-1v1h-2v-1h-1v-2h1zM589 373h2v1h1v2h-1v1h-2v-1h-1v-2h1zM597 373h2v1h1v2h-1v1h-2v-1h-1v-2h1zM606 373h2v1h1v2h-1v1h-2v-1h-1v-2h1zM614 373h2v1h1v2h-1v1h-2v-1h-1v-2h1zM623 373h2v1h1v2h-1v1h-2v-1h-1v-2h1zM631 373h2v1h1v2h-1v1h-2v-1h-1v-2h1zM640 373h2v1h1v2h-1v1h-2v-1h-1v-2h1zM648 373h2v1h1v2h-1v1h-2v-1h-1v-2h1zM657 373h2v1h1v2h-1v1h-2v-1h-1v-2h1zM403 381h2v1h1v3h-1v1h-2v-1h-1v-3h1zM411 381h2v1h1v3h-1v1h-2v-1h-1v-3h1zM462 381h2v1h1v3h-1v1h-2v-1h-1v-3h1zM471 381h2v1h1v3h-1v1h-2v-1h-1v-3h1zM479 381h2v1h1v3h-1v1h-2v-1h-1v-3h1zM488 381h2v1h1v3h-1v1h-2v-1h-1v-3h1zM496 381h2v1h1v3h-1v1h-2v-1h-1v-3h1zM504 381h2v1h1v3h-1v1h-2v-1h-1v-3h1zM513 381h2v1h1v3h-1v1h-2v-1h-1v-3h1zM521 381h2v1h1v3h-1v1h-2v-1h-1v-3h1zM530 381h2v1h1v3h-1v1h-2v-1h-1v-3h1zM538 381h2v1h1v3h-1v1h-2v-1h-1v-3h1zM547 381h2v1h1v3h-1v1h-2v-1h-1v-3h1zM564 381h2v1h1v3h-1v1h-2v-1h-1v-3h1zM572 381h2v1h1v3h-1v1h-2v-1h-1v-3h1zM580 381h2v1h1v3h-1v1h-2v-1h-1v-3h1zM589 381h2v1h1v3h-1v1h-2v-1h-1v-3h1zM597 381h2v1h1v3h-1v1h-2v-1h-1v-3h1zM648 381h2v1h1v3h-1v1h-2v-1h-1v-3h1zM657 381h2v1h1v3h-1v1h-2v-1h-1v-3h1zM403 390h2v1h1v2h-1v1h-2v-1h-1v-2h1zM411 390h2v1h1v2h-1v1h-2v-1h-1v-2h1zM420 390h2v1h1v2h-1v1h-2v-1h-1v-2h1zM428 390h2v1h1v2h-1v1h-2v-1h-1v-2h1zM437 390h2v1h1v2h-1v1h-2v-1h-1v-2h1zM445 390h2v1h1v2h-1v1h-2v-1h-1v-2h1zM454 390h2v1h1v2h-1v1h-2v-1h-1v-2h1zM462 390h2v1h1v2h-1v1h-2v-1h-1v-2h1zM471 390h2v1h1v2h-1v1h-2v-1h-1v-2h1zM479 390h2v1h1v2h-1v1h-2v-1h-1v-2h1zM488 390h2v1h1v2h-1v1h-2v-1h-1v-2h1zM496 390h2v1h1v2h-1v1h-2v-1h-1v-2h1zM504 390h2v1h1v2h-1v1h-2v-1h-1v-2h1zM513 390h2v1h1v2h-1v1h-2v-1h-1v-2h1zM521 390h2v1h1v2h-1v1h-2v-1h-1v-2h1zM530 390h2v1h1v2h-1v1h-2v-1h-1v-2h1zM538 390h2v1h1v2h-1v1h-2v-1h-1v-2h1zM547 390h2v1h1v2h-1v1h-2v-1h-1v-2h1zM555 390h2v1h1v2h-1v1h-2v-1h-1v-2h1zM564 390h2v1h1v2h-1v1h-2v-1h-1v-2h1zM572 390h2v1h1v2h-1v1h-2v-1h-1v-2h1zM580 390h2v1h1v2h-1v1h-2v-1h-1v-2h1zM589 390h2v1h1v2h-1v1h-2v-1h-1v-2h1zM597 390h2v1h1v2h-1v1h-2v-1h-1v-2h1zM606 390h2v1h1v2h-1v1h-2v-1h-1v-2h1zM614 390h2v1h1v2h-1v1h-2v-1h-1v-2h1zM623 390h2v1h1v2h-1v1h-2v-1h-1v-2h1zM631 390h2v1h1v2h-1v1h-2v-1h-1v-2h1zM640 390h2v1h1v2h-1v1h-2v-1h-1v-2h1zM648 390h2v1h1v2h-1v1h-2v-1h-1v-2h1zM657 390h2v1h1v2h-1v1h-2v-1h-1v-2h1zM403 399h2v1h1v2h-1v1h-2v-1h-1v-2h1zM411 399h2v1h1v2h-1v1h-2v-1h-1v-2h1zM420 399h2v1h1v2h-1v1h-2v-1h-1v-2h1zM428 399h2v1h1v2h-1v1h-2v-1h-1v-2h1zM437 399h2v1h1v2h-1v1h-2v-1h-1v-2h1zM445 399h2v1h1v2h-1v1h-2v-1h-1v-2h1zM454 399h2v1h1v2h-1v1h-2v-1h-1v-2h1zM471 399h2v1h1v2h-1v1h-2v-1h-1v-2h1zM479 399h2v1h1v2h-1v1h-2v-1h-1v-2h1zM488 399h2v1h1v2h-1v1h-2v-1h-1v-2h1zM496 399h2v1h1v2h-1v1h-2v-1h-1v-2h1zM504 399h2v1h1v2h-1v1h-2v-1h-1v-2h1zM513 399h2v1h1v2h-1v1h-2v-1h-1v-2h1zM521 399h2v1h1v2h-1v1h-2v-1h-1v-2h1zM530 399h2v1h1v2h-1v1h-2v-1h-1v-2h1zM538 399h2v1h1v2h-1v1h-2v-1h-1v-2h1zM547 399h2v1h1v2h-1v1h-2v-1h-1v-2h1zM555 399h2v1h1v2h-1v1h-2v-1h-1v-2h1zM564 399h2v1h1v2h-1v1h-2v-1h-1v-2h1zM572 399h2v1h1v2h-1v1h-2v-1h-1v-2h1zM580 399h2v1h1v2h-1v1h-2v-1h-1v-2h1zM589 399h2v1h1v2h-1v1h-2v-1h-1v-2h1zM597 399h2v1h1v2h-1v1h-2v-1h-1v-2h1zM606 399h2v1h1v2h-1v1h-2v-1h-1v-2h1zM614 399h2v1h1v2h-1v1h-2v-1h-1v-2h1zM623 399h2v1h1v2h-1v1h-2v-1h-1v-2h1zM631 399h2v1h1v2h-1v1h-2v-1h-1v-2h1zM640 399h2v1h1v2h-1v1h-2v-1h-1v-2h1zM648 399h2v1h1v2h-1v1h-2v-1h-1v-2h1zM657 399h2v1h1v2h-1v1h-2v-1h-1v-2h1zM403 407h2v1h1v3h-1v1h-2v-1h-1v-3h1zM411 407h2v1h1v3h-1v1h-2v-1h-1v-3h1zM437 407h2v1h1v3h-1v1h-2v-1h-1v-3h1zM445 407h2v1h1v3h-1v1h-2v-1h-1v-3h1zM462 407h2v1h1v3h-1v1h-2v-1h-1v-3h1zM471 407h2v1h1v3h-1v1h-2v-1h-1v-3h1zM488 407h2v1h1v3h-1v1h-2v-1h-1v-3h1zM496 407h2v1h1v3h-1v1h-2v-1h-1v-3h1zM513 407h2v1h1v3h-1v1h-2v-1h-1v-3h1zM521 407h2v1h1v3h-1v1h-2v-1h-1v-3h1zM538 407h2v1h1v3h-1v1h-2v-1h-1v-3h1zM547 407h2v1h1v3h-1v1h-2v-1h-1v-3h1zM564 407h2v1h1v3h-1v1h-2v-1h-1v-3h1zM572 407h2v1h1v3h-1v1h-2v-1h-1v-3h1zM589 407h2v1h1v3h-1v1h-2v-1h-1v-3h1zM597 407h2v1h1v3h-1v1h-2v-1h-1v-3h1zM614 407h2v1h1v3h-1v1h-2v-1h-1v-3h1zM623 407h2v1h1v3h-1v1h-2v-1h-1v-3h1zM648 407h2v1h1v3h-1v1h-2v-1h-1v-3h1zM657 407h2v1h1v3h-1v1h-2v-1h-1v-3h1zM403 415h2v1h1v2h-1v1h-2v-1h-1v-2h1zM411 415h2v1h1v2h-1v1h-2v-1h-1v-2h1zM420 415h2v1h1v2h-1v1h-2v-1h-1v-2h1zM428 415h2v1h1v2h-1v1h-2v-1h-1v-2h1zM437 415h2v1h1v2h-1v1h-2v-1h-1v-2h1zM454 415h2v1h1v2h-1v1h-2v-1h-1v-2h1zM462 415h2v1h1v2h-1v1h-2v-1h-1v-2h1zM471 415h2v1h1v2h-1v1h-2v-1h-1v-2h1zM488 415h2v1h1v2h-1v1h-2v-1h-1v-2h1zM496 415h2v1h1v2h-1v1h-2v-1h-1v-2h1zM513 415h2v1h1v2h-1v1h-2v-1h-1v-2h1zM521 415h2v1h1v2h-1v1h-2v-1h-1v-2h1zM538 415h2v1h1v2h-1v1h-2v-1h-1v-2h1zM547 415h2v1h1v2h-1v1h-2v-1h-1v-2h1zM564 415h2v1h1v2h-1v1h-2v-1h-1v-2h1zM572 415h2v1h1v2h-1v1h-2v-1h-1v-2h1zM589 415h2v1h1v2h-1v1h-2v-1h-1v-2h1zM597 415h2v1h1v2h-1v1h-2v-1h-1v-2h1zM606 415h2v1h1v2h-1v1h-2v-1h-1v-2h1zM623 415h2v1h1v2h-1v1h-2v-1h-1v-2h1zM631 415h2v1h1v2h-1v1h-2v-1h-1v-2h1zM640 415h2v1h1v2h-1v1h-2v-1h-1v-2h1zM648 415h2v1h1v2h-1v1h-2v-1h-1v-2h1zM657 415h2v1h1v2h-1v1h-2v-1h-1v-2h1zM403 424h2v1h1v2h-1v1h-2v-1h-1v-2h1zM411 424h2v1h1v2h-1v1h-2v-1h-1v-2h1zM420 424h2v1h1v2h-1v1h-2v-1h-1v-2h1zM428 424h2v1h1v2h-1v1h-2v-1h-1v-2h1zM445 424h2v1h1v2h-1v1h-2v-1h-1v-2h1zM454 424h2v1h1v2h-1v1h-2v-1h-1v-2h1zM462 424h2v1h1v2h-1v1h-2v-1h-1v-2h1zM471 424h2v1h1v2h-1v1h-2v-1h-1v-2h1zM488 424h2v1h1v2h-1v1h-2v-1h-1v-2h1zM496 424h2v1h1v2h-1v1h-2v-1h-1v-2h1zM513 424h2v1h1v2h-1v1h-2v-1h-1v-2h1zM521 424h2v1h1v2h-1v1h-2v-1h-1v-2h1zM538 424h2v1h1v2h-1v1h-2v-1h-1v-2h1zM547 424h2v1h1v2h-1v1h-2v-1h-1v-2h1zM564 424h2v1h1v2h-1v1h-2v-1h-1v-2h1zM572 424h2v1h1v2h-1v1h-2v-1h-1v-2h1zM589 424h2v1h1v2h-1v1h-2v-1h-1v-2h1zM597 424h2v1h1v2h-1v1h-2v-1h-1v-2h1zM606 424h2v1h1v2h-1v1h-2v-1h-1v-2h1zM614 424h2v1h1v2h-1v1h-2v-1h-1v-2h1zM631 424h2v1h1v2h-1v1h-2v-1h-1v-2h1zM640 424h2v1h1v2h-1v1h-2v-1h-1v-2h1zM648 424h2v1h1v2h-1v1h-2v-1h-1v-2h1zM657 424h2v1h1v2h-1v1h-2v-1h-1v-2h1zM403 432h2v1h1v3h-1v1h-2v-1h-1v-3h1zM411 432h2v1h1v3h-1v1h-2v-1h-1v-3h1zM420 432h2v1h1v3h-1v1h-2v-1h-1v-3h1zM437 432h2v1h1v3h-1v1h-2v-1h-1v-3h1zM445 432h2v1h1v3h-1v1h-2v-1h-1v-3h1zM462 432h2v1h1v3h-1v1h-2v-1h-1v-3h1zM471 432h2v1h1v3h-1v1h-2v-1h-1v-3h1zM488 432h2v1h1v3h-1v1h-2v-1h-1v-3h1zM496 432h2v1h1v3h-1v1h-2v-1h-1v-3h1zM513 432h2v1h1v3h-1v1h-2v-1h-1v-3h1zM521 432h2v1h1v3h-1v1h-2v-1h-1v-3h1zM538 432h2v1h1v3h-1v1h-2v-1h-1v-3h1zM547 432h2v1h1v3h-1v1h-2v-1h-1v-3h1zM564 432h2v1h1v3h-1v1h-2v-1h-1v-3h1zM572 432h2v1h1v3h-1v1h-2v-1h-1v-3h1zM589 432h2v1h1v3h-1v1h-2v-1h-1v-3h1zM597 432h2v1h1v3h-1v1h-2v-1h-1v-3h1zM614 432h2v1h1v3h-1v1h-2v-1h-1v-3h1zM623 432h2v1h1v3h-1v1h-2v-1h-1v-3h1zM640 432h2v1h1v3h-1v1h-2v-1h-1v-3h1zM648 432h2v1h1v3h-1v1h-2v-1h-1v-3h1zM657 432h2v1h1v3h-1v1h-2v-1h-1v-3h1zM403 441h2v1h1v2h-1v1h-2v-1h-1v-2h1zM411 441h2v1h1v2h-1v1h-2v-1h-1v-2h1zM420 441h2v1h1v2h-1v1h-2v-1h-1v-2h1zM428 441h2v1h1v2h-1v1h-2v-1h-1v-2h1zM437 441h2v1h1v2h-1v1h-2v-1h-1v-2h1zM445 441h2v1h1v2h-1v1h-2v-1h-1v-2h1zM462 441h2v1h1v2h-1v1h-2v-1h-1v-2h1zM471 441h2v1h1v2h-1v1h-2v-1h-1v-2h1zM488 441h2v1h1v2h-1v1h-2v-1h-1v-2h1zM496 441h2v1h1v2h-1v1h-2v-1h-1v-2h1zM513 441h2v1h1v2h-1v1h-2v-1h-1v-2h1zM521 441h2v1h1v2h-1v1h-2v-1h-1v-2h1zM538 441h2v1h1v2h-1v1h-2v-1h-1v-2h1zM547 441h2v1h1v2h-1v1h-2v-1h-1v-2h1zM564 441h2v1h1v2h-1v1h-2v-1h-1v-2h1zM572 441h2v1h1v2h-1v1h-2v-1h-1v-2h1zM589 441h2v1h1v2h-1v1h-2v-1h-1v-2h1zM597 441h2v1h1v2h-1v1h-2v-1h-1v-2h1zM614 441h2v1h1v2h-1v1h-2v-1h-1v-2h1zM623 441h2v1h1v2h-1v1h-2v-1h-1v-2h1zM631 441h2v1h1v2h-1v1h-2v-1h-1v-2h1zM640 441h2v1h1v2h-1v1h-2v-1h-1v-2h1zM648 441h2v1h1v2h-1v1h-2v-1h-1v-2h1zM657 441h2v1h1v2h-1v1h-2v-1h-1v-2h1zM403 449h2v1h1v2h-1v1h-2v-1h-1v-2h1zM411 449h2v1h1v2h-1v1h-2v-1h-1v-2h1zM420 449h2v1h1v2h-1v1h-2v-1h-1v-2h1zM428 449h2v1h1v2h-1v1h-2v-1h-1v-2h1zM437 449h2v1h1v2h-1v1h-2v-1h-1v-2h1zM445 449h2v1h1v2h-1v1h-2v-1h-1v-2h1zM454 449h2v1h1v2h-1v1h-2v-1h-1v-2h1zM462 449h2v1h1v2h-1v1h-2v-1h-1v-2h1zM471 449h2v1h1v2h-1v1h-2v-1h-1v-2h1zM479 449h2v1h1v2h-1v1h-2v-1h-1v-2h1zM488 449h2v1h1v2h-1v1h-2v-1h-1v-2h1zM496 449h2v1h1v2h-1v1h-2v-1h-1v-2h1zM504 449h2v1h1v2h-1v1h-2v-1h-1v-2h1zM513 449h2v1h1v2h-1v1h-2v-1h-1v-2h1zM521 449h2v1h1v2h-1v1h-2v-1h-1v-2h1zM530 449h2v1h1v2h-1v1h-2v-1h-1v-2h1zM538 449h2v1h1v2h-1v1h-2v-1h-1v-2h1zM547 449h2v1h1v2h-1v1h-2v-1h-1v-2h1zM555 449h2v1h1v2h-1v1h-2v-1h-1v-2h1zM564 449h2v1h1v2h-1v1h-2v-1h-1v-2h1zM572 449h2v1h1v2h-1v1h-2v-1h-1v-2h1zM580 449h2v1h1v2h-1v1h-2v-1h-1v-2h1zM589 449h2v1h1v2h-1v1h-2v-1h-1v-2h1zM597 449h2v1h1v2h-1v1h-2v-1h-1v-2h1zM606 449h2v1h1v2h-1v1h-2v-1h-1v-2h1zM614 449h2v1h1v2h-1v1h-2v-1h-1v-2h1zM623 449h2v1h1v2h-1v1h-2v-1h-1v-2h1zM631 449h2v1h1v2h-1v1h-2v-1h-1v-2h1zM640 449h2v1h1v2h-1v1h-2v-1h-1v-2h1zM648 449h2v1h1v2h-1v1h-2v-1h-1v-2h1zM657 449h2v1h1v2h-1v1h-2v-1h-1v-2h1zM403 457h2v1h1v3h-1v1h-2v-1h-1v-3h1zM411 457h2v1h1v3h-1v1h-2v-1h-1v-3h1zM420 457h2v1h1v3h-1v1h-2v-1h-1v-3h1zM428 457h2v1h1v3h-1v1h-2v-1h-1v-3h1zM437 457h2v1h1v3h-1v1h-2v-1h-1v-3h1zM445 457h2v1h1v3h-1v1h-2v-1h-1v-3h1zM454 457h2v1h1v3h-1v1h-2v-1h-1v-3h1zM462 457h2v1h1v3h-1v1h-2v-1h-1v-3h1zM471 457h2v1h1v3h-1v1h-2v-1h-1v-3h1zM479 457h2v1h1v3h-1v1h-2v-1h-1v-3h1zM488 457h2v1h1v3h-1v1h-2v-1h-1v-3h1zM496 457h2v1h1v3h-1v1h-2v-1h-1v-3h1zM504 457h2v1h1v3h-1v1h-2v-1h-1v-3h1zM513 457h2v1h1v3h-1v1h-2v-1h-1v-3h1zM521 457h2v1h1v3h-1v1h-2v-1h-1v-3h1zM530 457h2v1h1v3h-1v1h-2v-1h-1v-3h1zM538 457h2v1h1v3h-1v1h-2v-1h-1v-3h1zM547 457h2v1h1v3h-1v1h-2v-1h-1v-3h1zM555 457h2v1h1v3h-1v1h-2v-1h-1v-3h1zM564 457h2v1h1v3h-1v1h-2v-1h-1v-3h1zM572 457h2v1h1v3h-1v1h-2v-1h-1v-3h1zM580 457h2v1h1v3h-1v1h-2v-1h-1v-3h1zM589 457h2v1h1v3h-1v1h-2v-1h-1v-3h1zM597 457h2v1h1v3h-1v1h-2v-1h-1v-3h1zM606 457h2v1h1v3h-1v1h-2v-1h-1v-3h1zM614 457h2v1h1v3h-1v1h-2v-1h-1v-3h1zM623 457h2v1h1v3h-1v1h-2v-1h-1v-3h1zM631 457h2v1h1v3h-1v1h-2v-1h-1v-3h1zM640 457h2v1h1v3h-1v1h-2v-1h-1v-3h1zM648 457h2v1h1v3h-1v1h-2v-1h-1v-3h1zM657 457h2v1h1v3h-1v1h-2v-1h-1v-3h1z"/>
<path fill="#00ffff" d="M547 330h2v1h1v3h-1v1h-2v-1h-1v-3h1zM555 330h2v1h1v3h-1v1h-2v-1h-1v-3h1zM547 339h2v1h1v2h-1v1h-2v-1h-1v-2h1zM555 339h2v1h1v2h-1v1h-2v-1h-1v-2h1zM530 348h2v1h1v2h-1v1h-2v-1h-1v-2h1zM547 348h2v1h1v2h-1v1h-2v-1h-1v-2h1zM555 348h2v1h1v2h-1v1h-2v-1h-1v-2h1zM521 356h2v1h1v3h-1v1h-2v-1h-1v-3h1zM530 356h2v1h1v3h-1v1h-2v-1h-1v-3h1zM538 356h2v1h1v3h-1v1h-2v-1h-1v-3h1zM547 356h2v1h1v3h-1v1h-2v-1h-1v-3h1zM521 365h2v1h1v2h-1v1h-2v-1h-1v-2h1zM530 365h2v1h1v2h-1v1h-2v-1h-1v-2h1zM547 365h2v1h1v2h-1v1h-2v-1h-1v-2h1zM555 365h2v1h1v2h-1v1h-2v-1h-1v-2h1zM521 373h2v1h1v2h-1v1h-2v-1h-1v-2h1zM530 373h2v1h1v2h-1v1h-2v-1h-1v-2h1zM547 373h2v1h1v2h-1v1h-2v-1h-1v-2h1zM555 373h2v1h1v2h-1v1h-2v-1h-1v-2h1zM555 381h2v1h1v3h-1v1h-2v-1h-1v-3h1z"/>
<rect x="427.6" y="232.3" width="221.2" height="188.9" fill="none" stroke="#ffff00" stroke-width="1"/>
<circle shape-rendering="geometricPrecision" cx="424.6" cy="372" r="3.9" fill="#800000"/>
<circle shape-rendering="geometricPrecision" cx="437.5" cy="380.3" r="3.9" fill="#800000"/>
<circle shape-rendering="geometricPrecision" cx="491.7" cy="436.9" r="3.9" fill="#800000"/>
<circle shape-rendering="geometricPrecision" cx="674.2" cy="217.4" r="4.4" fill="#008000" stroke="#bfbf00" stroke-width="0.8"/>
<path fill="#008000" d="M207 280h2v1h1v2h-1v1h-2v-1h-1v-2h1zM207 288h2v1h1v2h-1v1h-2v-1h-1v-2h1zM207 297h2v1h1v2h-1v1h-2v-1h-1v-2h1zM207 306h2v1h1v1h-1v1h-2v-1h-1v-1h1zM207 314h2v1h1v2h-1v1h-2v-1h-1v-2h1zM207 322h2v1h1v2h-1v1h-2v-1h-1v-2h1zM207 331h2v1h1v2h-1v1h-2v-1h-1v-2h1zM207 339h2v1h1v2h-1v1h-2v-1h-1v-2h1zM207 348h2v1h1v2h-1v1h-2v-1h-1v-2h1zM207 357h2v1h1v1h-1v1h-2v-1h-1v-1h1zM207 382h2v1h1v2h-1v1h-2v-1h-1v-2h1zM207 390h2v1h1v2h-1v1h-2v-1h-1v-2h1zM207 398h2v1h1v2h-1v1h-2v-1h-1v-2h1zM207 407h2v1h1v1h-1v1h-2v-1h-1v-1h1zM207 415h2v1h1v2h-1v1h-2v-1h-1v-2h1zM207 424h2v1h1v2h-1v1h-2v-1h-1v-2h1zM207 432h2v1h1v2h-1v1h-2v-1h-1v-2h1zM207 441h2v1h1v2h-1v1h-2v-1h-1v-2h1zM207 449h2v1h1v2h-1v1h-2v-1h-1v-2h1zM207 458h2v1h1v1h-1v1h-2v-1h-1v-1h1zM217 280h2v1h1v2h-1v1h-2v-1h-1v-2h1zM217 288h2v1h1v2h-1v1h-2v-1h-1v-2h1zM217 297h2v1h1v2h-1v1h-2v-1h-1v-2h1zM217 306h2v1h1v1h-1v1h-2v-1h-1v-1h1zM217 314h2v1h1v2h-1v1h-2v-1h-1v-2h1zM217 322h2v1h1v2h-1v1h-2v-1h-1v-2h1zM217 331h2v1h1v2h-1v1h-2v-1h-1v-2h1zM217 339h2v1h1v2h-1v1h-2v-1h-1v-2h1zM217 348h2v1h1v2h-1v1h-2v-1h-1v-2h1zM217 357h2v1h1v1h-1v1h-2v-1h-1v-1h1zM217 382h2v1h1v2h-1v1h-2v-1h-1v-2h1zM217 390h2v1h1v2h-1v1h-2v-1h-1v-2h1zM217 398h2v1h1v2h-1v1h-2v-1h-1v-2h1zM217 407h2v1h1v1h-1v1h-2v-1h-1v-1h1zM217 415h2v1h1v2h-1v1h-2v-1h-1v-2h1zM217 424h2v1h1v2h-1v1h-2v-1h-1v-2h1zM217 432h2v1h1v2h-1v1h-2v-1h-1v-2h1zM217 441h2v1h1v2h-1v1h-2v-1h-1v-2h1zM217 449h2v1h1v2h-1v1h-2v-1h-1v-2h1zM217 458h2v1h1v1h-1v1h-2v-1h-1v-1h1zM228 280h2v1h1v2h-1v1h-2v-1h-1v-2h1zM228 288h2v1h1v2h-1v1h-2v-1h-1v-2h1zM228 297h2v1h1v2h-1v1h-2v-1h-1v-2h1zM228 306h2v1h1v1h-1v1h-2v-1h-1v-1h1zM228 314h2v1h1v2h-1v1h-2v-1h-1v-2h1zM228 322h2v1h1v2h-1v1h-2v-1h-1v-2h1zM228 331h2v1h1v2h-1v1h-2v-1h-1v-2h1zM228 339h2v1h1v2h-1v1h-2v-1h-1v-2h1zM228 348h2v1h1v2h-1v1h-2v-1h-1v-2h1zM228 357h2v1h1v1h-1v1h-2v-1h-1v-1h1zM228 382h2v1h1v2h-1v1h-2v-1h-1v-2h1zM228 390h2v1h1v2h-1v1h-2v-1h-1v-2h1zM228 398h2v1h1v2h-1v1h-2v-1h-1v-2h1zM228 407h2v1h1v1h-1v1h-2v-1h-1v-1h1zM228 415h2v1h1v2h-1v1h-2v-1h-1v-2h1zM228 424h2v1h1v2h-1v1h-2v-1h-1v-2h1zM228 432h2v1h1v2h-1v1h-2v-1h-1v-2h1zM228 441h2v1h1v2h-1v1h-2v-1h-1v-2h1zM228 449h2v1h1v2h-1v1h-2v-1h-1v-2h1zM228 458h2v1h1v1h-1v1h-2v-1h-1v-1h1zM238 280h2v1h1v2h-1v1h-2v-1h-1v-2h1zM238 288h2v1h1v2h-1v1h-2v-1h-1v-2h1zM238 297h2v1h1v2h-1v1h-2v-1h-1v-2h1zM238 306h2v1h1v1h-1v1h-2v-1h-1v-1h1zM238 314h2v1h1v2h-1v1h-2v-1h-1v-2h1zM238 322h2v1h1v2h-1v1h-2v-1h-1v-2h1zM238 331h2v1h1v2h-1v1h-2v-1h-1v-2h1zM238 339h2v1h1v2h-1v1h-2v-1h-1v-2h1zM238 348h2v1h1v2h-1v1h-2v-1h-1v-2h1zM238 357h2v1h1v1h-1v1h-2v-1h-1v-1h1zM238 382h2v1h1v2h-1v1h-2v-1h-1v-2h1zM238 390h2v1h1v2h-1v1h-2v-1h-1v-2h1zM238 398h2v1h1v2h-1v1h-2v-1h-1v-2h1zM238 407h2v1h1v1h-1v1h-2v-1h-1v-1h1zM238 415h2v1h1v2h-1v1h-2v-1h-1v-2h1zM238 424h2v1h1v2h-1v1h-2v-1h-1v-2h1zM238 432h2v1h1v2h-1v1h-2v-1h-1v-2h1zM238 441h2v1h1v2h-1v1h-2v-1h-1v-2h1zM238 449h2v1h1v2h-1v1h-2v-1h-1v-2h1zM238 458h2v1h1v1h-1v1h-2v-1h-1v-1h1zM249 280h2v1h1v2h-1v1h-2v-1h-1v-2h1zM249 288h2v1h1v2h-1v1h-2v-1h-1v-2h1zM249 297h2v1h1v2h-1v1h-2v-1h-1v-2h1zM249 306h2v1h1v1h-1v1h-2v-1h-1v-1h1zM249 314h2v1h1v2h-1v1h-2v-1h-1v-2h1zM249 322h2v1h1v2h-1v1h-2v-1h-1v-2h1zM249 331h2v1h1v2h-1v1h-2v-1h-1v-2h1zM249 339h2v1h1v2h-1v1h-2v-1h-1v-2h1zM249 348h2v1h1v2h-1v1h-2v-1h-1v-2h1zM249 357h2v1h1v1h-1v1h-2v-1h-1v-1h1zM249 382h2v1h1v2h-1v1h-2v-1h-1v-2h1zM249 390h2v1h1v2h-1v1h-2v-1h-1v-2h1zM249 398h2v1h1v2h-1v1h-2v-1h-1v-2h1zM249 407h2v1h1v1h-1v1h-2v-1h-1v-1h1zM249 415h2v1h1v2h-1v1h-2v-1h-1v-2h1zM249 424h2v1h1v2h-1v1h-2v-1h-1v-2h1zM249 432h2v1h1v2h-1v1h-2v-1h-1v-2h1zM249 441h2v1h1v2h-1v1h-2v-1h-1v-2h1zM249 449h2v1h1v2h-1v1h-2v-1h-1v-2h1zM249 458h2v1h1v1h-1v1h-2v-1h-1v-1h1zM280 280h2v1h1v2h-1v1h-2v-1h-1v-2h1zM280 288h2v1h1v2h-1v1h-2v-1h-1v-2h1zM280 297h2v1h1v2h-1v1h-2v-1h-1v-2h1zM280 306h2v1h1v1h-1v1h-2v-1h-1v-1h1zM280 314h2v1h1v2h-1v1h-2v-1h-1v-2h1zM280 322h2v1h1v2h-1v1h-2v-1h-1v-2h1zM280 331h2v1h1v2h-1v1h-2v-1h-1v-2h1zM280 339h2v1h1v2h-1v1h-2v-1h-1v-2h1zM280 348h2v1h1v2h-1v1h-2v-1h-1v-2h1zM280 357h2v1h1v1h-1v1h-2v-1h-1v-1h1zM280 382h2v1h1v2h-1v1h-2v-1h-1v-2h1zM280 390h2v1h1v2h-1v1h-2v-1h-1v-2h1zM280 398h2v1h1v2h-1v1h-2v-1h-1v-2h1zM280 407h2v1h1v1h-1v1h-2v-1h-1v-1h1zM280 415h2v1h1v2h-1v1h-2v-1h-1v-2h1zM280 424h2v1h1v2h-1v1h-2v-1h-1v-2h1zM280 432h2v1h1v2h-1v1h-2v-1h-1v-2h1zM280 441h2v1h1v2h-1v1h-2v-1h-1v-2h1zM280 449h2v1h1v2h-1v1h-2v-1h-1v-2h1zM280 458h2v1h1v1h-1v1h-2v-1h-1v-1h1zM291 280h2v1h1v2h-1v1h-2v-1h-1v-2h1zM291 288h2v1h1v2h-1v1h-2v-1h-1v-2h1zM291 297h2v1h1v2h-1v1h-2v-1h-1v-2h1zM291 306h2v1h1v1h-1v1h-2v-1h-1v-1h1zM291 314h2v1h1v2h-1v1h-2v-1h-1v-2h1zM291 322h2v1h1v2h-1v1h-2v-1h-1v-2h1zM291 331h2v1h1v2h-1v1h-2v-1h-1v-2h1zM291 339h2v1h1v2h-1v1h-2v-1h-1v-2h1zM291 348h2v1h1v2h-1v1h-2v-1h-1v-2h1zM291 357h2v1h1v1h-1v1h-2v-1h-1v-1h1zM291 382h2v1h1v2h-1v1h-2v-1h-1v-2h1zM291 390h2v1h1v2h-1v1h-2v-1h-1v-2h1zM291 398h2v1h1v2h-1v1h-2v-1h-1v-2h1zM291 407h2v1h1v1h-1v1h-2v-1h-1v-1h1zM291 415h2v1h1v2h-1v1h-2v-1h-1v-2h1zM291 424h2v1h1v2h-1v1h-2v-1h-1v-2h1zM291 432h2v1h1v2h-1v1h-2v-1h-1v-2h1zM291 441h2v1h1v2h-1v1h-2v-1h-1v-2h1zM291 449h2v1h1v2h-1v1h-2v-1h-1v-2h1zM291 458h2v1h1v1h-1v1h-2v-1h-1v-1h1zM301 280h2v1h1v2h-1v1h-2v-1h-1v-2h1zM301 288h2v1h1v2h-1v1h-2v-1h-1v-2h1zM301 297h2v1h1v2h-1v1h-2v-1h-1v-2h1zM301 306h2v1h1v1h-1v1h-2v-1h-1v-1h1zM301 314h2v1h1v2h-1v1h-2v-1h-1v-2h1zM301 322h2v1h1v2h-1v1h-2v-1h-1v-2h1zM301 331h2v1h1v2h-1v1h-2v-1h-1v-2h1zM301 339h2v1h1v2h-1v1h-2v-1h-1v-2h1zM301 348h2v1h1v2h-1v1h-2v-1h-1v-2h1zM301 357h2v1h1v1h-1v1h-2v-1h-1v-1h1zM301 382h2v1h1v2h-1v1h-2v-1h-1v-2h1zM301 390h2v1h1v2h-1v1h-2v-1h-1v-2h1zM301 398h2v1h1v2h-1v1h-2v-1h-1v-2h1zM301 407h2v1h1v1h-1v1h-2v-1h-1v-1h1zM301 415h2v1h1v2h-1v1h-2v-1h-1v-2h1zM301 424h2v1h1v2h-1v1h-2v-1h-1v-2h1zM301 432h2v1h1v2h-1v1h-2v-1h-1v-2h1zM301 441h2v1h1v2h-1v1h-2v-1h-1v-2h1zM301 449h2v1h1v2h-1v1h-2v-1h-1v-2h1zM301 458h2v1h1v1h-1v1h-2v-1h-1v-1h1zM312 280h2v1h1v2h-1v1h-2v-1h-1v-2h1zM312 288h2v1h1v2h-1v1h-2v-1h-1v-2h1zM312 297h2v1h1v2h-1v1h-2v-1h-1v-2h1zM312 306h2v1h1v1h-1v1h-2v-1h-1v-1h1zM312 314h2v1h1v2h-1v1h-2v-1h-1v-2h1zM312 322h2v1h1v2h-1v1h-2v-1h-1v-2h1zM312 331h2v1h1v2h-1v1h-2v-1h-1v-2h1zM312 339h2v1h1v2h-1v1h-2v-1h-1v-2h1zM312 348h2v1h1v2h-1v1h-2v-1h-1v-2h1zM312 357h2v1h1v1h-1v1h-2v-1h-1v-1h1zM312 382h2v1h1v2h-1v1h-2v-1h-1v-2h1zM312 390h2v1h1v2h-1v1h-2v-1h-1v-2h1zM312 398h2v1h1v2h-1v1h-2v-1h-1v-2h1zM312 407h2v1h1v1h-1v1h-2v-1h-1v-1h1zM312 415h2v1h1v2h-1v1h-2v-1h-1v-2h1zM312 424h2v1h1v2h-1v1h-2v-1h-1v-2h1zM312 432h2v1h1v2h-1v1h-2v-1h-1v-2h1zM312 441h2v1h1v2h-1v1h-2v-1h-1v-2h1zM312 449h2v1h1v2h-1v1h-2v-1h-1v-2h1zM312 458h2v1h1v1h-1v1h-2v-1h-1v-1h1zM322 280h2v1h1v2h-1v1h-2v-1h-1v-2h1zM322 288h2v1h1v2h-1v1h-2v-1h-1v-2h1zM322 297h2v1h1v2h-1v1h-2v-1h-1v-2h1zM322 306h2v1h1v1h-1v1h-2v-1h-1v-1h1zM322 314h2v1h1v2h-1v1h-2v-1h-1v-2h1zM322 322h2v1h1v2h-1v1h-2v-1h-1v-2h1zM322 331h2v1h1v2h-1v1h-2v-1h-1v-2h1zM322 339h2v1h1v2h-1v1h-2v-1h-1v-2h1zM322 348h2v1h1v2h-1v1h-2v-1h-1v-2h1zM322 357h2v1h1v1h-1v1h-2v-1h-1v-1h1zM322 382h2v1h1v2h-1v1h-2v-1h-1v-2h1zM322 390h2v1h1v2h-1v1h-2v-1h-1v-2h1zM322 398h2v1h1v2h-1v1h-2v-1h-1v-2h1zM322 407h2v1h1v1h-1v1h-2v-1h-1v-1h1zM322 415h2v1h1v2h-1v1h-2v-1h-1v-2h1zM322 424h2v1h1v2h-1v1h-2v-1h-1v-2h1zM322 432h2v1h1v2h-1v1h-2v-1h-1v-2h1zM322 441h2v1h1v2h-1v1h-2v-1h-1v-2h1zM322 449h2v1h1v2h-1v1h-2v-1h-1v-2h1zM322 458h2v1h1v1h-1v1h-2v-1h-1v-1h1zM322 542h2v1h1v2h-1v1h-2v-1h-1v-2h1zM322 553h2v1h1v2h-1v1h-2v-1h-1v-2h1zM322 563h2v1h1v2h-1v1h-2v-1h-1v-2h1zM322 573h2v1h1v2h-1v1h-2v-1h-1v-2h1zM322 584h2v1h1v2h-1v1h-2v-1h-1v-2h1zM322 615h2v1h1v2h-1v1h-2v-1h-1v-2h1zM322 626h2v1h1v2h-1v1h-2v-1h-1v-2h1zM322 636h2v1h1v2h-1v1h-2v-1h-1v-2h1zM322 646h2v1h1v2h-1v1h-2v-1h-1v-2h1zM322 657h2v1h1v2h-1v1h-2v-1h-1v-2h1zM330 542h2v1h1v2h-1v1h-2v-1h-1v-2h1zM330 553h2v1h1v2h-1v1h-2v-1h-1v-2h1zM330 563h2v1h1v2h-1v1h-2v-1h-1v-2h1zM330 573h2v1h1v2h-1v1h-2v-1h-1v-2h1zM330 584h2v1h1v2h-1v1h-2v-1h-1v-2h1zM330 615h2v1h1v2h-1v1h-2v-1h-1v-2h1zM330 626h2v1h1v2h-1v1h-2v-1h-1v-2h1zM330 636h2v1h1v2h-1v1h-2v-1h-1v-2h1zM330 646h2v1h1v2h-1v1h-2v-1h-1v-2h1zM330 657h2v1h1v2h-1v1h-2v-1h-1v-2h1zM339 542h1v1h1v2h-1v1h-1v-1h-1v-2h1zM339 553h1v1h1v2h-1v1h-1v-1h-1v-2h1zM339 563h1v1h1v2h-1v1h-1v-1h-1v-2h1zM339 573h1v1h1v2h-1v1h-1v-1h-1v-2h1zM339 584h1v1h1v2h-1v1h-1v-1h-1v-2h1zM339 615h1v1h1v2h-1v1h-1v-1h-1v-2h1zM339 626h1v1h1v2h-1v1h-1v-1h-1v-2h1zM339 636h1v1h1v2h-1v1h-1v-1h-1v-2h1zM339 646h1v1h1v2h-1v1h-1v-1h-1v-2h1zM339 657h1v1h1v2h-1v1h-1v-1h-1v-2h1zM347 542h2v1h1v2h-1v1h-2v-1h-1v-2h1zM347 553h2v1h1v2h-1v1h-2v-1h-1v-2h1zM347 563h2v1h1v2h-1v1h-2v-1h-1v-2h1zM347 573h2v1h1v2h-1v1h-2v-1h-1v-2h1zM347 584h2v1h1v2h-1v1h-2v-1h-1v-2h1zM347 615h2v1h1v2h-1v1h-2v-1h-1v-2h1zM347 626h2v1h1v2h-1v1h-2v-1h-1v-2h1zM347 636h2v1h1v2h-1v1h-2v-1h-1v-2h1zM347 646h2v1h1v2h-1v1h-2v-1h-1v-2h1zM347 657h2v1h1v2h-1v1h-2v-1h-1v-2h1zM356 542h2v1h1v2h-1v1h-2v-1h-1v-2h1zM356 553h2v1h1v2h-1v1h-2v-1h-1v-2h1zM356 563h2v1h1v2h-1v1h-2v-1h-1v-2h1zM356 573h2v1h1v2h-1v1h-2v-1h-1v-2h1zM356 584h2v1h1v2h-1v1h-2v-1h-1v-2h1zM356 615h2v1h1v2h-1v1h-2v-1h-1v-2h1zM356 626h2v1h1v2h-1v1h-2v-1h-1v-2h1zM356 636h2v1h1v2h-1v1h-2v-1h-1v-2h1zM356 646h2v1h1v2h-1v1h-2v-1h-1v-2h1zM356 657h2v1h1v2h-1v1h-2v-1h-1v-2h1zM364 542h2v1h1v2h-1v1h-2v-1h-1v-2h1zM364 553h2v1h1v2h-1v1h-2v-1h-1v-2h1zM364 563h2v1h1v2h-1v1h-2v-1h-1v-2h1zM364 573h2v1h1v2h-1v1h-2v-1h-1v-2h1zM364 584h2v1h1v2h-1v1h-2v-1h-1v-2h1zM364 615h2v1h1v2h-1v1h-2v-1h-1v-2h1zM364 626h2v1h1v2h-1v1h-2v-1h-1v-2h1zM364 636h2v1h1v2h-1v1h-2v-1h-1v-2h1zM364 646h2v1h1v2h-1v1h-2v-1h-1v-2h1zM364 657h2v1h1v2h-1v1h-2v-1h-1v-2h1zM373 542h2v1h1v2h-1v1h-2v-1h-1v-2h1zM373 553h2v1h1v2h-1v1h-2v-1h-1v-2h1zM373 563h2v1h1v2h-1v1h-2v-1h-1v-2h1zM373 573h2v1h1v2h-1v1h-2v-1h-1v-2h1zM373 584h2v1h1v2h-1v1h-2v-1h-1v-2h1zM373 615h2v1h1v2h-1v1h-2v-1h-1v-2h1zM373 626h2v1h1v2h-1v1h-2v-1h-1v-2h1zM373 636h2v1h1v2h-1v1h-2v-1h-1v-2h1zM373 646h2v1h1v2h-1v1h-2v-1h-1v-2h1zM373 657h2v1h1v2h-1v1h-2v-1h-1v-2h1zM381 542h2v1h1v2h-1v1h-2v-1h-1v-2h1zM381 553h2v1h1v2h-1v1h-2v-1h-1v-2h1zM381 563h2v1h1v2h-1v1h-2v-1h-1v-2h1zM381 573h2v1h1v2h-1v1h-2v-1h-1v-2h1zM381 584h2v1h1v2h-1v1h-2v-1h-1v-2h1zM381 615h2v1h1v2h-1v1h-2v-1h-1v-2h1zM381 626h2v1h1v2h-1v1h-2v-1h-1v-2h1zM381 636h2v1h1v2h-1v1h-2v-1h-1v-2h1zM381 646h2v1h1v2h-1v1h-2v-1h-1v-2h1zM381 657h2v1h1v2h-1v1h-2v-1h-1v-2h1zM390 542h1v1h1v2h-1v1h-1v-1h-1v-2h1zM390 553h1v1h1v2h-1v1h-1v-1h-1v-2h1zM390 563h1v1h1v2h-1v1h-1v-1h-1v-2h1zM390 573h1v1h1v2h-1v1h-1v-1h-1v-2h1zM390 584h1v1h1v2h-1v1h-1v-1h-1v-2h1zM390 615h1v1h1v2h-1v1h-1v-1h-1v-2h1zM390 626h1v1h1v2h-1v1h-1v-1h-1v-2h1zM390 636h1v1h1v2h-1v1h-1v-1h-1v-2h1zM390 646h1v1h1v2h-1v1h-1v-1h-1v-2h1zM390 657h1v1h1v2h-1v1h-1v-1h-1v-2h1zM398 542h2v1h1v2h-1v1h-2v-1h-1v-2h1zM398 553h2v1h1v2h-1v1h-2v-1h-1v-2h1zM398 563h2v1h1v2h-1v1h-2v-1h-1v-2h1zM398 573h2v1h1v2h-1v1h-2v-1h-1v-2h1zM398 584h2v1h1v2h-1v1h-2v-1h-1v-2h1zM398 615h2v1h1v2h-1v1h-2v-1h-1v-2h1zM398 626h2v1h1v2h-1v1h-2v-1h-1v-2h1zM398 636h2v1h1v2h-1v1h-2v-1h-1v-2h1zM398 646h2v1h1v2h-1v1h-2v-1h-1v-2h1zM398 657h2v1h1v2h-1v1h-2v-1h-1v-2h1zM424 542h2v1h1v2h-1v1h-2v-1h-1v-2h1zM424 553h2v1h1v2h-1v1h-2v-1h-1v-2h1zM424 563h2v1h1v2h-1v1h-2v-1h-1v-2h1zM424 573h2v1h1v2h-1v1h-2v-1h-1v-2h1zM424 584h2v1h1v2h-1v1h-2v-1h-1v-2h1zM424 615h2v1h1v2h-1v1h-2v-1h-1v-2h1zM424 626h2v1h1v2h-1v1h-2v-1h-1v-2h1zM424 636h2v1h1v2h-1v1h-2v-1h-1v-2h1zM424 646h2v1h1v2h-1v1h-2v-1h-1v-2h1zM424 657h2v1h1v2h-1v1h-2v-1h-1v-2h1zM432 542h2v1h1v2h-1v1h-2v-1h-1v-2h1zM432 553h2v1h1v2h-1v1h-2v-1h-1v-2h1zM432 563h2v1h1v2h-1v1h-2v-1h-1v-2h1zM432 573h2v1h1v2h-1v1h-2v-1h-1v-2h1zM432 584h2v1h1v2h-1v1h-2v-1h-1v-2h1zM432 615h2v1h1v2h-1v1h-2v-1h-1v-2h1zM432 626h2v1h1v2h-1v1h-2v-1h-1v-2h1zM432 636h2v1h1v2h-1v1h-2v-1h-1v-2h1zM432 646h2v1h1v2h-1v1h-2v-1h-1v-2h1zM432 657h2v1h1v2h-1v1h-2v-1h-1v-2h1zM441 542h1v1h1v2h-1v1h-1v-1h-1v-2h1zM441 553h1v1h1v2h-1v1h-1v-1h-1v-2h1zM441 563h1v1h1v2h-1v1h-1v-1h-1v-2h1zM441 573h1v1h1v2h-1v1h-1v-1h-1v-2h1zM441 584h1v1h1v2h-1v1h-1v-1h-1v-2h1zM441 615h1v1h1v2h-1v1h-1v-1h-1v-2h1zM441 626h1v1h1v2h-1v1h-1v-1h-1v-2h1zM441 636h1v1h1v2h-1v1h-1v-1h-1v-2h1zM441 646h1v1h1v2h-1v1h-1v-1h-1v-2h1zM441 657h1v1h1v2h-1v1h-1v-1h-1v-2h1zM449 542h2v1h1v2h-1v1h-2v-1h-1v-2h1zM449 553h2v1h1v2h-1v1h-2v-1h-1v-2h1zM449 563h2v1h1v2h-1v1h-2v-1h-1v-2h1zM449 573h2v1h1v2h-1v1h-2v-1h-1v-2h1zM449 584h2v1h1v2h-1v1h-2v-1h-1v-2h1zM449 615h2v1h1v2h-1v1h-2v-1h-1v-2h1zM449 626h2v1h1v2h-1v1h-2v-1h-1v-2h1zM449 636h2v1h1v2h-1v1h-2v-1h-1v-2h1zM449 646h2v1h1v2h-1v1h-2v-1h-1v-2h1zM449 657h2v1h1v2h-1v1h-2v-1h-1v-2h1zM457 542h2v1h1v2h-1v1h-2v-1h-1v-2h1zM457 553h2v1h1v2h-1v1h-2v-1h-1v-2h1zM457 563h2v1h1v2h-1v1h-2v-1h-1v-2h1zM457 573h2v1h1v2h-1v1h-2v-1h-1v-2h1zM457 584h2v1h1v2h-1v1h-2v-1h-1v-2h1zM457 615h2v1h1v2h-1v1h-2v-1h-1v-2h1zM457 626h2v1h1v2h-1v1h-2v-1h-1v-2h1zM457 636h2v1h1v2h-1v1h-2v-1h-1v-2h1zM457 646h2v1h1v2h-1v1h-2v-1h-1v-2h1zM457 657h2v1h1v2h-1v1h-2v-1h-1v-2h1zM466 542h2v1h1v2h-1v1h-2v-1h-1v-2h1zM466 553h2v1h1v2h-1v1h-2v-1h-1v-2h1zM466 563h2v1h1v2h-1v1h-2v-1h-1v-2h1zM466 573h2v1h1v2h-1v1h-2v-1h-1v-2h1zM466 584h2v1h1v2h-1v1h-2v-1h-1v-2h1zM466 615h2v1h1v2h-1v1h-2v-1h-1v-2h1zM466 626h2v1h1v2h-1v1h-2v-1h-1v-2h1zM466 636h2v1h1v2h-1v1h-2v-1h-1v-2h1zM466 646h2v1h1v2h-1v1h-2v-1h-1v-2h1zM466 657h2v1h1v2h-1v1h-2v-1h-1v-2h1zM474 542h2v1h1v2h-1v1h-2v-1h-1v-2h1zM474 553h2v1h1v2h-1v1h-2v-1h-1v-2h1zM474 563h2v1h1v2h-1v1h-2v-1h-1v-2h1zM474 573h2v1h1v2h-1v1h-2v-1h-1v-2h1zM474 584h2v1h1v2h-1v1h-2v-1h-1v-2h1zM474 615h2v1h1v2h-1v1h-2v-1h-1v-2h1zM474 626h2v1h1v2h-1v1h-2v-1h-1v-2h1zM474 636h2v1h1v2h-1v1h-2v-1h-1v-2h1zM474 646h2v1h1v2h-1v1h-2v-1h-1v-2h1zM474 657h2v1h1v2h-1v1h-2v-1h-1v-2h1zM483 542h2v1h1v2h-1v1h-2v-1h-1v-2h1zM483 553h2v1h1v2h-1v1h-2v-1h-1v-2h1zM483 563h2v1h1v2h-1v1h-2v-1h-1v-2h1zM483 573h2v1h1v2h-1v1h-2v-1h-1v-2h1zM483 584h2v1h1v2h-1v1h-2v-1h-1v-2h1zM483 615h2v1h1v2h-1v1h-2v-1h-1v-2h1zM483 626h2v1h1v2h-1v1h-2v-1h-1v-2h1zM483 636h2v1h1v2h-1v1h-2v-1h-1v-2h1zM483 646h2v1h1v2h-1v1h-2v-1h-1v-2h1zM483 657h2v1h1v2h-1v1h-2v-1h-1v-2h1zM492 542h1v1h1v2h-1v1h-1v-1h-1v-2h1zM492 553h1v1h1v2h-1v1h-1v-1h-1v-2h1zM492 563h1v1h1v2h-1v1h-1v-1h-1v-2h1zM492 573h1v1h1v2h-1v1h-1v-1h-1v-2h1zM492 584h1v1h1v2h-1v1h-1v-1h-1v-2h1zM492 615h1v1h1v2h-1v1h-1v-1h-1v-2h1zM492 626h1v1h1v2h-1v1h-1v-1h-1v-2h1zM492 636h1v1h1v2h-1v1h-1v-1h-1v-2h1zM492 646h1v1h1v2h-1v1h-1v-1h-1v-2h1zM492 657h1v1h1v2h-1v1h-1v-1h-1v-2h1zM500 542h2v1h1v2h-1v1h-2v-1h-1v-2h1zM500 553h2v1h1v2h-1v1h-2v-1h-1v-2h1zM500 563h2v1h1v2h-1v1h-2v-1h-1v-2h1zM500 573h2v1h1v2h-1v1h-2v-1h-1v-2h1zM500 584h2v1h1v2h-1v1h-2v-1h-1v-2h1zM500 615h2v1h1v2h-1v1h-2v-1h-1v-2h1zM500 626h2v1h1v2h-1v1h-2v-1h-1v-2h1zM500 636h2v1h1v2h-1v1h-2v-1h-1v-2h1zM500 646h2v1h1v2h-1v1h-2v-1h-1v-2h1zM500 657h2v1h1v2h-1v1h-2v-1h-1v-2h1zM199 132h2v1h1v2h-1v1h-2v-1h-1v-2h1zM205 132h2v1h1v2h-1v1h-2v-1h-1v-2h1zM212 132h2v1h1v2h-1v1h-2v-1h-1v-2h1zM218 132h2v1h1v2h-1v1h-2v-1h-1v-2h1zM225 132h2v1h1v2h-1v1h-2v-1h-1v-2h1zM231 132h2v1h1v2h-1v1h-2v-1h-1v-2h1zM238 132h2v1h1v2h-1v1h-2v-1h-1v-2h1zM244 132h2v1h1v2h-1v1h-2v-1h-1v-2h1zM251 132h2v1h1v2h-1v1h-2v-1h-1v-2h1zM257 132h2v1h1v2h-1v1h-2v-1h-1v-2h1zM264 132h2v1h1v2h-1v1h-2v-1h-1v-2h1zM270 132h2v1h1v2h-1v1h-2v-1h-1v-2h1zM277 132h2v1h1v2h-1v1h-2v-1h-1v-2h1zM283 132h2v1h1v2h-1v1h-2v-1h-1v-2h1zM199 139h2v1h1v1h-1v1h-2v-1h-1v-1h1zM205 139h2v1h1v1h-1v1h-2v-1h-1v-1h1zM212 139h2v1h1v1h-1v1h-2v-1h-1v-1h1zM218 139h2v1h1v1h-1v1h-2v-1h-1v-1h1zM225 139h2v1h1v1h-1v1h-2v-1h-1v-1h1zM231 139h2v1h1v1h-1v1h-2v-1h-1v-1h1zM238 139h2v1h1v1h-1v1h-2v-1h-1v-1h1zM244 139h2v1h1v1h-1v1h-2v-1h-1v-1h1zM251 139h2v1h1v1h-1v1h-2v-1h-1v-1h1zM257 139h2v1h1v1h-1v1h-2v-1h-1v-1h1zM264 139h2v1h1v1h-1v1h-2v-1h-1v-1h1zM270 139h2v1h1v1h-1v1h-2v-1h-1v-1h1zM277 139h2v1h1v1h-1v1h-2v-1h-1v-1h1zM283 139h2v1h1v1h-1v1h-2v-1h-1v-1h1zM199 145h2v1h1v2h-1v1h-2v-1h-1v-2h1zM205 145h2v1h1v2h-1v1h-2v-1h-1v-2h1zM212 145h2v1h1v2h-1v1h-2v-1h-1v-2h1zM218 145h2v1h1v2h-1v1h-2v-1h-1v-2h1zM225 145h2v1h1v2h-1v1h-2v-1h-1v-2h1zM231 145h2v1h1v2h-1v1h-2v-1h-1v-2h1zM238 145h2v1h1v2h-1v1h-2v-1h-1v-2h1zM244 145h2v1h1v2h-1v1h-2v-1h-1v-2h1zM251 145h2v1h1v2h-1v1h-2v-1h-1v-2h1zM257 145h2v1h1v2h-1v1h-2v-1h-1v-2h1zM264 145h2v1h1v2h-1v1h-2v-1h-1v-2h1zM270 145h2v1h1v2h-1v1h-2v-1h-1v-2h1zM277 145h2v1h1v2h-1v1h-2v-1h-1v-2h1zM283 145h2v1h1v2h-1v1h-2v-1h-1v-2h1zM199 152h2v1h1v1h-1v1h-2v-1h-1v-1h1zM205 152h2v1h1v1h-1v1h-2v-1h-1v-1h1zM212 152h2v1h1v1h-1v1h-2v-1h-1v-1h1zM264 152h2v1h1v1h-1v1h-2v-1h-1v-1h1zM270 152h2v1h1v1h-1v1h-2v-1h-1v-1h1zM277 152h2v1h1v1h-1v1h-2v-1h-1v-1h1zM283 152h2v1h1v1h-1v1h-2v-1h-1v-1h1zM199 158h2v1h1v2h-1v1h-2v-1h-1v-2h1zM205 158h2v1h1v2h-1v1h-2v-1h-1v-2h1zM212 158h2v1h1v2h-1v1h-2v-1h-1v-2h1zM225 158h2v1h1v2h-1v1h-2v-1h-1v-2h1zM231 158h2v1h1v2h-1v1h-2v-1h-1v-2h1zM238 158h2v1h1v2h-1v1h-2v-1h-1v-2h1zM244 158h2v1h1v2h-1v1h-2v-1h-1v-2h1zM251 158h2v1h1v2h-1v1h-2v-1h-1v-2h1zM257 158h2v1h1v2h-1v1h-2v-1h-1v-2h1zM270 158h2v1h1v2h-1v1h-2v-1h-1v-2h1zM277 158h2v1h1v2h-1v1h-2v-1h-1v-2h1zM283 158h2v1h1v2h-1v1h-2v-1h-1v-2h1zM199 165h2v1h1v1h-1v1h-2v-1h-1v-1h1zM205 165h2v1h1v1h-1v1h-2v-1h-1v-1h1zM212 165h2v1h1v1h-1v1h-2v-1h-1v-1h1zM225 165h2v1h1v1h-1v1h-2v-1h-1v-1h1zM257 165h2v1h1v1h-1v1h-2v-1h-1v-1h1zM270 165h2v1h1v1h-1v1h-2v-1h-1v-1h1zM277 165h2v1h1v1h-1v1h-2v-1h-1v-1h1zM283 165h2v1h1v1h-1v1h-2v-1h-1v-1h1zM199 171h2v1h1v2h-1v1h-2v-1h-1v-2h1zM205 171h2v1h1v2h-1v1h-2v-1h-1v-2h1zM212 171h2v1h1v2h-1v1h-2v-1h-1v-2h1zM225 171h2v1h1v2h-1v1h-2v-1h-1v-2h1zM257 171h2v1h1v2h-1v1h-2v-1h-1v-2h1zM270 171h2v1h1v2h-1v1h-2v-1h-1v-2h1zM277 171h2v1h1v2h-1v1h-2v-1h-1v-2h1zM283 171h2v1h1v2h-1v1h-2v-1h-1v-2h1zM199 178h2v1h1v1h-1v1h-2v-1h-1v-1h1zM205 178h2v1h1v1h-1v1h-2v-1h-1v-1h1zM212 178h2v1h1v1h-1v1h-2v-1h-1v-1h1zM225 178h2v1h1v1h-1v1h-2v-1h-1v-1h1zM257 178h2v1h1v1h-1v1h-2v-1h-1v-1h1zM270 178h2v1h1v1h-1v1h-2v-1h-1v-1h1zM277 178h2v1h1v1h-1v1h-2v-1h-1v-1h1zM283 178h2v1h1v1h-1v1h-2v-1h-1v-1h1zM199 184h2v1h1v2h-1v1h-2v-1h-1v-2h1zM205 184h2v1h1v2h-1v1h-2v-1h-1v-2h1zM212 184h2v1h1v2h-1v1h-2v-1h-1v-2h1zM225 184h2v1h1v2h-1v1h-2v-1h-1v-2h1zM257 184h2v1h1v2h-1v1h-2v-1h-1v-2h1zM270 184h2v1h1v2h-1v1h-2v-1h-1v-2h1zM277 184h2v1h1v2h-1v1h-2v-1h-1v-2h1zM283 184h2v1h1v2h-1v1h-2v-1h-1v-2h1zM199 191h2v1h1v1h-1v1h-2v-1h-1v-1h1zM205 191h2v1h1v1h-1v1h-2v-1h-1v-1h1zM212 191h2v1h1v1h-1v1h-2v-1h-1v-1h1zM225 191h2v1h1v1h-1v1h-2v-1h-1v-1h1zM231 191h2v1h1v1h-1v1h-2v-1h-1v-1h1zM238 191h2v1h1v1h-1v1h-2v-1h-1v-1h1zM244 191h2v1h1v1h-1v1h-2v-1h-1v-1h1zM251 191h2v1h1v1h-1v1h-2v-1h-1v-1h1zM257 191h2v1h1v1h-1v1h-2v-1h-1v-1h1zM270 191h2v1h1v1h-1v1h-2v-1h-1v-1h1zM277 191h2v1h1v1h-1v1h-2v-1h-1v-1h1zM283 191h2v1h1v1h-1v1h-2v-1h-1v-1h1zM199 197h2v1h1v2h-1v1h-2v-1h-1v-2h1zM205 197h2v1h1v2h-1v1h-2v-1h-1v-2h1zM212 197h2v1h1v2h-1v1h-2v-1h-1v-2h1zM270 197h2v1h1v2h-1v1h-2v-1h-1v-2h1zM277 197h2v1h1v2h-1v1h-2v-1h-1v-2h1zM283 197h2v1h1v2h-1v1h-2v-1h-1v-2h1zM199 204h2v1h1v1h-1v1h-2v-1h-1v-1h1zM205 204h2v1h1v1h-1v1h-2v-1h-1v-1h1zM212 204h2v1h1v1h-1v1h-2v-1h-1v-1h1zM218 204h2v1h1v1h-1v1h-2v-1h-1v-1h1zM225 204h2v1h1v1h-1v1h-2v-1h-1v-1h1zM231 204h2v1h1v1h-1v1h-2v-1h-1v-1h1zM238 204h2v1h1v1h-1v1h-2v-1h-1v-1h1zM244 204h2v1h1v1h-1v1h-2v-1h-1v-1h1zM251 204h2v1h1v1h-1v1h-2v-1h-1v-1h1zM257 204h2v1h1v1h-1v1h-2v-1h-1v-1h1zM264 204h2v1h1v1h-1v1h-2v-1h-1v-1h1zM270 204h2v1h1v1h-1v1h-2v-1h-1v-1h1zM277 204h2v1h1v1h-1v1h-2v-1h-1v-1h1zM283 204h2v1h1v1h-1v1h-2v-1h-1v-1h1zM199 210h2v1h1v2h-1v1h-2v-1h-1v-2h1zM205 210h2v1h1v2h-1v1h-2v-1h-1v-2h1zM212 210h2v1h1v2h-1v1h-2v-1h-1v-2h1zM218 210h2v1h1v2h-1v1h-2v-1h-1v-2h1zM225 210h2v1h1v2h-1v1h-2v-1h-1v-2h1zM231 210h2v1h1v2h-1v1h-2v-1h-1v-2h1zM238 210h2v1h1v2h-1v1h-2v-1h-1v-2h1zM244 210h2v1h1v2h-1v1h-2v-1h-1v-2h1zM251 210h2v1h1v2h-1v1h-2v-1h-1v-2h1zM257 210h2v1h1v2h-1v1h-2v-1h-1v-2h1zM264 210h2v1h1v2h-1v1h-2v-1h-1v-2h1zM270 210h2v1h1v2h-1v1h-2v-1h-1v-2h1zM277 210h2v1h1v2h-1v1h-2v-1h-1v-2h1zM283 210h2v1h1v2h-1v1h-2v-1h-1v-2h1zM199 217h2v1h1v1h-1v1h-2v-1h-1v-1h1zM205 217h2v1h1v1h-1v1h-2v-1h-1v-1h1zM212 217h2v1h1v1h-1v1h-2v-1h-1v-1h1zM218 217h2v1h1v1h-1v1h-2v-1h-1v-1h1zM225 217h2v1h1v1h-1v1h-2v-1h-1v-1h1zM231 217h2v1h1v1h-1v1h-2v-1h-1v-1h1zM238 217h2v1h1v1h-1v1h-2v-1h-1v-1h1zM244 217h2v1h1v1h-1v1h-2v-1h-1v-1h1zM251 217h2v1h1v1h-1v1h-2v-1h-1v-1h1zM257 217h2v1h1v1h-1v1h-2v-1h-1v-1h1zM264 217h2v1h1v1h-1v1h-2v-1h-1v-1h1zM270 217h2v1h1v1h-1v1h-2v-1h-1v-1h1zM277 217h2v1h1v1h-1v1h-2v-1h-1v-1h1zM283 217h2v1h1v1h-1v1h-2v-1h-1v-1h1z"/>
<path d="M187.3 490V260.5H362.5" fill="none" stroke="#ff00ff" stroke-width="1"/>
<path d="M643.6 566.4V575.9M643.6 656.8V666.4M628.1 579.1H639.8M719.1 579.1H731M648.1 566.4V575.9M648.1 656.8V666.4M628.1 583.6H639.8M719.1 583.6H731M652.7 566.4V575.9M652.7 656.8V666.4M628.1 588.2H639.8M719.1 588.2H731M657.2 566.4V575.9M657.2 656.8V666.4M628.1 592.7H639.8M719.1 592.7H731M661.8 566.4V575.9M661.8 656.8V666.4M628.1 597.3H639.8M719.1 597.3H731M666.3 566.4V575.9M666.3 656.8V666.4M628.1 601.8H639.8M719.1 601.8H731M670.9 566.4V575.9M670.9 656.8V666.4M628.1 606.4H639.8M719.1 606.4H731M675.4 566.4V575.9M675.4 656.8V666.4M628.1 610.9H639.8M719.1 610.9H731M680 566.4V575.9M680 656.8V666.4M628.1 615.5H639.8M719.1 615.5H731M684.5 566.4V575.9M684.5 656.8V666.4M628.1 620H639.8M719.1 620H731M689.1 566.4V575.9M689.1 656.8V666.4M628.1 624.6H639.8M719.1 624.6H731M693.6 566.4V575.9M693.6 656.8V666.4M628.1 629.1H639.8M719.1 629.1H731M698.1 566.4V575.9M698.1 656.8V666.4M628.1 633.6H639.8M719.1 633.6H731M702.7 566.4V575.9M702.7 656.8V666.4M628.1 638.2H639.8M719.1 638.2H731M707.2 566.4V575.9M707.2 656.8V666.4M628.1 642.7H639.8M719.1 642.7H731M711.8 566.4V575.9M711.8 656.8V666.4M628.1 647.3H639.8M719.1 647.3H731M716.3 566.4V575.9M716.3 656.8V666.4M628.1 651.8H639.8M719.1 651.8H731" fill="none" stroke="#008000" stroke-width="1.1"/>
<path d="M374.9 483.6 L382.3 499.8 M382.3 483.6 L374.9 499.8M388.7 485.5 C389.7 484.1 391 483.6 392.4 483.6 C394.9 483.6 396.3 485.2 396.3 487.7 C396.3 490.1 394.7 491.2 391.9 491.2 C395.1 491.2 396.7 492.8 396.7 495.4 C396.7 498.2 395.1 499.8 392.4 499.8 C390.6 499.8 389.2 499 388.5 497.5M402.3 485.5 C403.3 484.1 404.6 483.6 406 483.6 C408.5 483.6 409.9 485.2 409.9 487.7 C409.9 490.1 408.2 491.2 405.5 491.2 C408.7 491.2 410.3 492.8 410.3 495.4 C410.3 498.2 408.7 499.8 406 499.8 C404.2 499.8 402.8 499 402.1 497.5M423.9 488.8 C423.9 492 422.3 493.6 419.9 493.6 C417.4 493.6 415.8 492 415.8 488.8 C415.8 485.5 417.4 483.6 419.9 483.6 C422.3 483.6 423.9 485.5 423.9 488.8 L423.9 493.6 C423.9 497.9 422.3 499.8 419.4 499.8 C417.8 499.8 416.6 499.2 416 497.9M436.8 488.8 C436.8 492 435.2 493.6 432.7 493.6 C430.2 493.6 428.6 492 428.6 488.8 C428.6 485.5 430.2 483.6 432.7 483.6 C435.2 483.6 436.8 485.5 436.8 488.8 L436.8 493.6 C436.8 497.9 435.2 499.8 432.3 499.8 C430.7 499.8 429.4 499.2 428.8 497.9M440.7 503.7 L453.4 503.7M466.3 486.8 C465.7 484.7 464.3 483.6 462.4 483.6 C459.2 483.6 457.4 486.5 457.4 491.7 C457.4 496.9 459.2 499.8 462.4 499.8 C464.3 499.8 465.7 498.7 466.3 496.6M470.2 483.6 L475.5 499.8 L480.7 483.6M491.2 499.8 L491.2 483.6 L485.4 494.9 L493.5 494.9" fill="none" stroke="#ffff00" stroke-width="3.2" stroke-linecap="round" stroke-linejoin="round" shape-rendering="geometricPrecision"/>
<path d="M513.1 490.8 C513.2 488.9 514.2 487.9 515.8 487.9 C517.5 487.9 518.4 489.2 518.4 491.4 C518.4 493.1 517.7 494.4 516 496.4 L512.9 501 L518.6 501M524.7 487.9 C522.8 487.9 521.8 490.3 521.8 494.4 C521.8 498.6 522.8 501 524.7 501 C526.5 501 527.5 498.6 527.5 494.4 C527.5 490.3 526.5 487.9 524.7 487.9 ZM532.2 490.5 L533.9 487.9 L533.9 501M542.5 487.9 C540.8 487.9 540 489.1 540 490.9 C540 492.9 540.8 494.1 542.5 494.1 C544.2 494.1 545 492.9 545 490.9 C545 489.1 544.2 487.9 542.5 487.9 Z M542.5 494.1 C540.6 494.1 539.6 495.5 539.6 497.5 C539.6 499.6 540.6 501 542.5 501 C544.4 501 545.3 499.6 545.3 497.5 C545.3 495.5 544.4 494.1 542.5 494.1 ZM551.4 487.9 C549.5 487.9 548.5 490.3 548.5 494.4 C548.5 498.6 549.5 501 551.4 501 C553.3 501 554.2 498.6 554.2 494.4 C554.2 490.3 553.3 487.9 551.4 487.9 ZM557.4 487.9 L563.1 487.9 L559.7 501M567.9 490.5 L569.6 487.9 L569.6 501M575.3 487.9 L581 487.9 L577.5 501" fill="none" stroke="#ffff00" stroke-width="2.0" stroke-linecap="round" stroke-linejoin="round" shape-rendering="geometricPrecision"/>
<path d="M669.3 610.8 C668.6 608.3 667.3 607 665.2 607 C661.9 607 660 610.4 660 616.4 C660 622.4 661.9 625.8 665.2 625.8 C667.3 625.8 668.6 624.9 669.3 623 L669.3 617.3 L665.1 617.3M671.8 625.8 L671.8 607 L681.2 625.8 L681.2 607M683 607 L683 625.8 L687.1 625.8 C691.2 625.8 693.2 622.4 693.2 616.4 C693.2 610.4 691.2 607 687.1 607 Z" fill="none" stroke="#000" stroke-width="2.0" stroke-linecap="round" stroke-linejoin="round" shape-rendering="geometricPrecision"/>
<g transform="translate(123.7 765.4)"><path d="M0 0V-5.2A5.2 5.2 0 0 0 -5.2 0ZM0 0V5.2A5.2 5.2 0 0 0 5.2 0Z" fill="#000"/><path d="M0 0H-5.2A5.2 5.2 0 0 0 0 5.2ZM0 0H5.2A5.2 5.2 0 0 0 0 -5.2Z" fill="#000"/><path d="M-7 0H7" stroke="#ff80c0" stroke-width="1"/><path d="M0 -7V7" stroke="#2020ff" stroke-width="1"/><path d="M0 0H6" stroke="#d0d000" stroke-width="1"/></g>
<circle shape-rendering="geometricPrecision" cx="456.2" cy="155.3" r="6.2" fill="#008000" stroke="#bfbf00" stroke-width="0.9"/>
<rect x="787.3" y="166" width="13.5" height="8.1" rx="4" fill="#008000"/>
<rect x="787" y="221.7" width="14" height="8.6" rx="4" fill="#008000"/>
<rect x="785.1" y="383.1" width="13" height="8" rx="4" fill="#008000"/>
<rect x="787" y="451.7" width="14" height="8.6" rx="4" fill="#008000"/>
<rect x="214.3" y="541" width="21" height="25.5" fill="none" stroke="#ff00ff" stroke-width="1"/>
<path d="M217 542h1v1h1v1h-1v1h-1v-1h-1v-1h1zM217 547h1v1h1v1h-1v1h-1v-1h-1v-1h1zM217 552h1v1h1v1h-1v1h-1v-1h-1v-1h1zM217 557h1v1h1v1h-1v1h-1v-1h-1v-1h1zM217 562h1v1h1v1h-1v1h-1v-1h-1v-1h1zM222 542h1v1h1v1h-1v1h-1v-1h-1v-1h1zM222 547h1v1h1v1h-1v1h-1v-1h-1v-1h1zM222 552h1v1h1v1h-1v1h-1v-1h-1v-1h1zM222 557h1v1h1v1h-1v1h-1v-1h-1v-1h1zM222 562h1v1h1v1h-1v1h-1v-1h-1v-1h1zM227 542h1v1h1v1h-1v1h-1v-1h-1v-1h1zM227 547h1v1h1v1h-1v1h-1v-1h-1v-1h1zM227 552h1v1h1v1h-1v1h-1v-1h-1v-1h1zM227 557h1v1h1v1h-1v1h-1v-1h-1v-1h1zM227 562h1v1h1v1h-1v1h-1v-1h-1v-1h1zM231 542h1v1h1v1h-1v1h-1v-1h-1v-1h1zM231 547h1v1h1v1h-1v1h-1v-1h-1v-1h1zM231 552h1v1h1v1h-1v1h-1v-1h-1v-1h1zM231 557h1v1h1v1h-1v1h-1v-1h-1v-1h1zM231 562h1v1h1v1h-1v1h-1v-1h-1v-1h1z" fill="#008000"/>
<rect x="214.3" y="636.3" width="21" height="25.5" fill="none" stroke="#ff00ff" stroke-width="1"/>
<path d="M217 638h1v1h1v1h-1v1h-1v-1h-1v-1h1zM217 643h1v1h1v1h-1v1h-1v-1h-1v-1h1zM217 648h1v1h1v1h-1v1h-1v-1h-1v-1h1zM217 653h1v1h1v1h-1v1h-1v-1h-1v-1h1zM217 658h1v1h1v1h-1v1h-1v-1h-1v-1h1zM222 638h1v1h1v1h-1v1h-1v-1h-1v-1h1zM222 643h1v1h1v1h-1v1h-1v-1h-1v-1h1zM222 648h1v1h1v1h-1v1h-1v-1h-1v-1h1zM222 653h1v1h1v1h-1v1h-1v-1h-1v-1h1zM222 658h1v1h1v1h-1v1h-1v-1h-1v-1h1zM227 638h1v1h1v1h-1v1h-1v-1h-1v-1h1zM227 643h1v1h1v1h-1v1h-1v-1h-1v-1h1zM227 648h1v1h1v1h-1v1h-1v-1h-1v-1h1zM227 653h1v1h1v1h-1v1h-1v-1h-1v-1h1zM227 658h1v1h1v1h-1v1h-1v-1h-1v-1h1zM231 638h1v1h1v1h-1v1h-1v-1h-1v-1h1zM231 643h1v1h1v1h-1v1h-1v-1h-1v-1h1zM231 648h1v1h1v1h-1v1h-1v-1h-1v-1h1zM231 653h1v1h1v1h-1v1h-1v-1h-1v-1h1zM231 658h1v1h1v1h-1v1h-1v-1h-1v-1h1z" fill="#008000"/>
<rect x="167.4" y="661" width="25.7" height="8.9" fill="#00ffff"/>
<rect x="156.2" y="688" width="11.5" height="9.9" fill="#00ffff"/>
<rect x="173.9" y="688" width="11.5" height="9.9" fill="#00ffff"/>
<rect x="191" y="688" width="11.5" height="9.9" fill="#00ffff"/>
<rect x="210" y="688" width="11.5" height="9.9" fill="#00ffff"/>
<rect x="227.4" y="688" width="11.5" height="9.9" fill="#00ffff"/>
<rect x="245.2" y="688.9" width="11.2" height="9.9" fill="#00ffff"/>
<rect x="267" y="674.9" width="6.3" height="6.3" fill="#00ffff"/>
<text transform="translate(768 127) rotate(-90)" font-family="Liberation Sans, sans-serif" font-size="11"  textLength="33" lengthAdjust="spacingAndGlyphs" fill="#000" shape-rendering="geometricPrecision">VCC_0V9</text>
<text transform="translate(793.5 128) rotate(-90)" font-family="Liberation Sans, sans-serif" font-size="9.5" font-weight="bold" textLength="35" lengthAdjust="spacingAndGlyphs" fill="#000" shape-rendering="geometricPrecision">NB3N5S01T</text>
<text transform="translate(767.5 342.2) rotate(-90)" font-family="Liberation Sans, sans-serif" font-size="10"  textLength="31" lengthAdjust="spacingAndGlyphs" fill="#000" shape-rendering="geometricPrecision">VDD_LOG</text>
<text transform="translate(794 345) rotate(-90)" font-family="Liberation Sans, sans-serif" font-size="9.5" font-weight="bold" textLength="36" lengthAdjust="spacingAndGlyphs" fill="#000" shape-rendering="geometricPrecision">NB3N64271</text>
<text transform="translate(582.5 569) rotate(-90)" font-family="Liberation Sans, sans-serif" font-size="11"  textLength="33" lengthAdjust="spacingAndGlyphs" fill="#000" shape-rendering="geometricPrecision">VCC_DDR</text>
<text x="561.3" y="648.7" font-family="Liberation Sans, sans-serif" font-size="10.5" textLength="31.6" lengthAdjust="spacingAndGlyphs" fill="#000">VCC_1V8</text>
</svg></body></html>
